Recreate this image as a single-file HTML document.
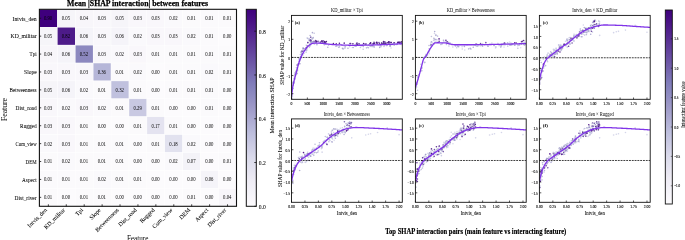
<!DOCTYPE html>
<html><head><meta charset="utf-8"><style>
html,body{margin:0;padding:0;background:#fff;width:685px;height:240px;overflow:hidden}
svg{display:block;filter:blur(0.35px)}
</style></head><body>
<svg width="685" height="240" viewBox="0 0 685 240" style="font-family:'Liberation Serif',serif">
<defs>
<linearGradient id="g1" x1="0" y1="1" x2="0" y2="0">
<stop offset="0.0000" stop-color="#fcfbfd"/>
<stop offset="0.0312" stop-color="#f9f7fb"/>
<stop offset="0.0625" stop-color="#f5f4f9"/>
<stop offset="0.0938" stop-color="#f2f0f7"/>
<stop offset="0.1250" stop-color="#efedf5"/>
<stop offset="0.1562" stop-color="#eae8f2"/>
<stop offset="0.1875" stop-color="#e4e3f0"/>
<stop offset="0.2188" stop-color="#dfdfed"/>
<stop offset="0.2500" stop-color="#dadaeb"/>
<stop offset="0.2812" stop-color="#d2d2e7"/>
<stop offset="0.3125" stop-color="#cbcbe3"/>
<stop offset="0.3438" stop-color="#c3c4e0"/>
<stop offset="0.3750" stop-color="#bcbddc"/>
<stop offset="0.4062" stop-color="#b4b4d7"/>
<stop offset="0.4375" stop-color="#adabd2"/>
<stop offset="0.4688" stop-color="#a5a2cd"/>
<stop offset="0.5000" stop-color="#9e9ac8"/>
<stop offset="0.5312" stop-color="#9692c4"/>
<stop offset="0.5625" stop-color="#8e8bc1"/>
<stop offset="0.5938" stop-color="#8784bd"/>
<stop offset="0.6250" stop-color="#807cba"/>
<stop offset="0.6562" stop-color="#7a71b4"/>
<stop offset="0.6875" stop-color="#7566ae"/>
<stop offset="0.7188" stop-color="#6f5ba8"/>
<stop offset="0.7500" stop-color="#6950a3"/>
<stop offset="0.7812" stop-color="#64459e"/>
<stop offset="0.8125" stop-color="#5e3b98"/>
<stop offset="0.8438" stop-color="#593093"/>
<stop offset="0.8750" stop-color="#53268f"/>
<stop offset="0.9062" stop-color="#4e1c8a"/>
<stop offset="0.9375" stop-color="#491285"/>
<stop offset="0.9688" stop-color="#440981"/>
<stop offset="1.0000" stop-color="#3f007d"/>
</linearGradient>
</defs>
<rect width="685" height="240" fill="#fff"/>
<g id="heat">
<rect x="39.40" y="9.30" width="17.92" height="17.91" fill="#3f007d" stroke="#fff" stroke-width="0.4"/>
<rect x="57.32" y="9.30" width="17.92" height="17.91" fill="#f6f5f9" stroke="#fff" stroke-width="0.4"/>
<rect x="75.24" y="9.30" width="17.92" height="17.91" fill="#f8f6fa" stroke="#fff" stroke-width="0.4"/>
<rect x="93.15" y="9.30" width="17.92" height="17.91" fill="#f9f7fb" stroke="#fff" stroke-width="0.4"/>
<rect x="111.07" y="9.30" width="17.92" height="17.91" fill="#f6f5f9" stroke="#fff" stroke-width="0.4"/>
<rect x="128.99" y="9.30" width="17.92" height="17.91" fill="#f9f7fb" stroke="#fff" stroke-width="0.4"/>
<rect x="146.91" y="9.30" width="17.92" height="17.91" fill="#f9f7fb" stroke="#fff" stroke-width="0.4"/>
<rect x="164.83" y="9.30" width="17.92" height="17.91" fill="#faf9fc" stroke="#fff" stroke-width="0.4"/>
<rect x="182.75" y="9.30" width="17.92" height="17.91" fill="#fbfafc" stroke="#fff" stroke-width="0.4"/>
<rect x="200.66" y="9.30" width="17.92" height="17.91" fill="#fbfafc" stroke="#fff" stroke-width="0.4"/>
<rect x="218.58" y="9.30" width="17.92" height="17.91" fill="#fbfafc" stroke="#fff" stroke-width="0.4"/>
<rect x="39.40" y="27.21" width="17.92" height="17.91" fill="#f6f5f9" stroke="#fff" stroke-width="0.4"/>
<rect x="57.32" y="27.21" width="17.92" height="17.91" fill="#4d1b89" stroke="#fff" stroke-width="0.4"/>
<rect x="75.24" y="27.21" width="17.92" height="17.91" fill="#f5f4f9" stroke="#fff" stroke-width="0.4"/>
<rect x="93.15" y="27.21" width="17.92" height="17.91" fill="#f9f7fb" stroke="#fff" stroke-width="0.4"/>
<rect x="111.07" y="27.21" width="17.92" height="17.91" fill="#f5f4f9" stroke="#fff" stroke-width="0.4"/>
<rect x="128.99" y="27.21" width="17.92" height="17.91" fill="#faf9fc" stroke="#fff" stroke-width="0.4"/>
<rect x="146.91" y="27.21" width="17.92" height="17.91" fill="#f9f7fb" stroke="#fff" stroke-width="0.4"/>
<rect x="164.83" y="27.21" width="17.92" height="17.91" fill="#f9f7fb" stroke="#fff" stroke-width="0.4"/>
<rect x="182.75" y="27.21" width="17.92" height="17.91" fill="#faf9fc" stroke="#fff" stroke-width="0.4"/>
<rect x="200.66" y="27.21" width="17.92" height="17.91" fill="#fbfafc" stroke="#fff" stroke-width="0.4"/>
<rect x="218.58" y="27.21" width="17.92" height="17.91" fill="#fcfbfd" stroke="#fff" stroke-width="0.4"/>
<rect x="39.40" y="45.12" width="17.92" height="17.91" fill="#f8f6fa" stroke="#fff" stroke-width="0.4"/>
<rect x="57.32" y="45.12" width="17.92" height="17.91" fill="#f5f4f9" stroke="#fff" stroke-width="0.4"/>
<rect x="75.24" y="45.12" width="17.92" height="17.91" fill="#8c88bf" stroke="#fff" stroke-width="0.4"/>
<rect x="93.15" y="45.12" width="17.92" height="17.91" fill="#f9f7fb" stroke="#fff" stroke-width="0.4"/>
<rect x="111.07" y="45.12" width="17.92" height="17.91" fill="#faf9fc" stroke="#fff" stroke-width="0.4"/>
<rect x="128.99" y="45.12" width="17.92" height="17.91" fill="#f9f7fb" stroke="#fff" stroke-width="0.4"/>
<rect x="146.91" y="45.12" width="17.92" height="17.91" fill="#fbfafc" stroke="#fff" stroke-width="0.4"/>
<rect x="164.83" y="45.12" width="17.92" height="17.91" fill="#fbfafc" stroke="#fff" stroke-width="0.4"/>
<rect x="182.75" y="45.12" width="17.92" height="17.91" fill="#fbfafc" stroke="#fff" stroke-width="0.4"/>
<rect x="200.66" y="45.12" width="17.92" height="17.91" fill="#fbfafc" stroke="#fff" stroke-width="0.4"/>
<rect x="218.58" y="45.12" width="17.92" height="17.91" fill="#fbfafc" stroke="#fff" stroke-width="0.4"/>
<rect x="39.40" y="63.03" width="17.92" height="17.91" fill="#f9f7fb" stroke="#fff" stroke-width="0.4"/>
<rect x="57.32" y="63.03" width="17.92" height="17.91" fill="#f9f7fb" stroke="#fff" stroke-width="0.4"/>
<rect x="75.24" y="63.03" width="17.92" height="17.91" fill="#f9f7fb" stroke="#fff" stroke-width="0.4"/>
<rect x="93.15" y="63.03" width="17.92" height="17.91" fill="#b6b6d8" stroke="#fff" stroke-width="0.4"/>
<rect x="111.07" y="63.03" width="17.92" height="17.91" fill="#fbfafc" stroke="#fff" stroke-width="0.4"/>
<rect x="128.99" y="63.03" width="17.92" height="17.91" fill="#faf9fc" stroke="#fff" stroke-width="0.4"/>
<rect x="146.91" y="63.03" width="17.92" height="17.91" fill="#fcfbfd" stroke="#fff" stroke-width="0.4"/>
<rect x="164.83" y="63.03" width="17.92" height="17.91" fill="#fbfafc" stroke="#fff" stroke-width="0.4"/>
<rect x="182.75" y="63.03" width="17.92" height="17.91" fill="#fbfafc" stroke="#fff" stroke-width="0.4"/>
<rect x="200.66" y="63.03" width="17.92" height="17.91" fill="#faf9fc" stroke="#fff" stroke-width="0.4"/>
<rect x="218.58" y="63.03" width="17.92" height="17.91" fill="#fbfafc" stroke="#fff" stroke-width="0.4"/>
<rect x="39.40" y="80.94" width="17.92" height="17.91" fill="#f6f5f9" stroke="#fff" stroke-width="0.4"/>
<rect x="57.32" y="80.94" width="17.92" height="17.91" fill="#f5f4f9" stroke="#fff" stroke-width="0.4"/>
<rect x="75.24" y="80.94" width="17.92" height="17.91" fill="#faf9fc" stroke="#fff" stroke-width="0.4"/>
<rect x="93.15" y="80.94" width="17.92" height="17.91" fill="#fbfafc" stroke="#fff" stroke-width="0.4"/>
<rect x="111.07" y="80.94" width="17.92" height="17.91" fill="#c0c1de" stroke="#fff" stroke-width="0.4"/>
<rect x="128.99" y="80.94" width="17.92" height="17.91" fill="#fbfafc" stroke="#fff" stroke-width="0.4"/>
<rect x="146.91" y="80.94" width="17.92" height="17.91" fill="#fcfbfd" stroke="#fff" stroke-width="0.4"/>
<rect x="164.83" y="80.94" width="17.92" height="17.91" fill="#fbfafc" stroke="#fff" stroke-width="0.4"/>
<rect x="182.75" y="80.94" width="17.92" height="17.91" fill="#fbfafc" stroke="#fff" stroke-width="0.4"/>
<rect x="200.66" y="80.94" width="17.92" height="17.91" fill="#fbfafc" stroke="#fff" stroke-width="0.4"/>
<rect x="218.58" y="80.94" width="17.92" height="17.91" fill="#fcfbfd" stroke="#fff" stroke-width="0.4"/>
<rect x="39.40" y="98.85" width="17.92" height="17.91" fill="#f9f7fb" stroke="#fff" stroke-width="0.4"/>
<rect x="57.32" y="98.85" width="17.92" height="17.91" fill="#faf9fc" stroke="#fff" stroke-width="0.4"/>
<rect x="75.24" y="98.85" width="17.92" height="17.91" fill="#f9f7fb" stroke="#fff" stroke-width="0.4"/>
<rect x="93.15" y="98.85" width="17.92" height="17.91" fill="#faf9fc" stroke="#fff" stroke-width="0.4"/>
<rect x="111.07" y="98.85" width="17.92" height="17.91" fill="#fbfafc" stroke="#fff" stroke-width="0.4"/>
<rect x="128.99" y="98.85" width="17.92" height="17.91" fill="#c9c9e2" stroke="#fff" stroke-width="0.4"/>
<rect x="146.91" y="98.85" width="17.92" height="17.91" fill="#fbfafc" stroke="#fff" stroke-width="0.4"/>
<rect x="164.83" y="98.85" width="17.92" height="17.91" fill="#fcfbfd" stroke="#fff" stroke-width="0.4"/>
<rect x="182.75" y="98.85" width="17.92" height="17.91" fill="#fcfbfd" stroke="#fff" stroke-width="0.4"/>
<rect x="200.66" y="98.85" width="17.92" height="17.91" fill="#fbfafc" stroke="#fff" stroke-width="0.4"/>
<rect x="218.58" y="98.85" width="17.92" height="17.91" fill="#fcfbfd" stroke="#fff" stroke-width="0.4"/>
<rect x="39.40" y="116.75" width="17.92" height="17.91" fill="#f9f7fb" stroke="#fff" stroke-width="0.4"/>
<rect x="57.32" y="116.75" width="17.92" height="17.91" fill="#f9f7fb" stroke="#fff" stroke-width="0.4"/>
<rect x="75.24" y="116.75" width="17.92" height="17.91" fill="#fbfafc" stroke="#fff" stroke-width="0.4"/>
<rect x="93.15" y="116.75" width="17.92" height="17.91" fill="#fcfbfd" stroke="#fff" stroke-width="0.4"/>
<rect x="111.07" y="116.75" width="17.92" height="17.91" fill="#fcfbfd" stroke="#fff" stroke-width="0.4"/>
<rect x="128.99" y="116.75" width="17.92" height="17.91" fill="#fbfafc" stroke="#fff" stroke-width="0.4"/>
<rect x="146.91" y="116.75" width="17.92" height="17.91" fill="#e4e3f0" stroke="#fff" stroke-width="0.4"/>
<rect x="164.83" y="116.75" width="17.92" height="17.91" fill="#fbfafc" stroke="#fff" stroke-width="0.4"/>
<rect x="182.75" y="116.75" width="17.92" height="17.91" fill="#fcfbfd" stroke="#fff" stroke-width="0.4"/>
<rect x="200.66" y="116.75" width="17.92" height="17.91" fill="#fcfbfd" stroke="#fff" stroke-width="0.4"/>
<rect x="218.58" y="116.75" width="17.92" height="17.91" fill="#fcfbfd" stroke="#fff" stroke-width="0.4"/>
<rect x="39.40" y="134.66" width="17.92" height="17.91" fill="#faf9fc" stroke="#fff" stroke-width="0.4"/>
<rect x="57.32" y="134.66" width="17.92" height="17.91" fill="#f9f7fb" stroke="#fff" stroke-width="0.4"/>
<rect x="75.24" y="134.66" width="17.92" height="17.91" fill="#fbfafc" stroke="#fff" stroke-width="0.4"/>
<rect x="93.15" y="134.66" width="17.92" height="17.91" fill="#fbfafc" stroke="#fff" stroke-width="0.4"/>
<rect x="111.07" y="134.66" width="17.92" height="17.91" fill="#fbfafc" stroke="#fff" stroke-width="0.4"/>
<rect x="128.99" y="134.66" width="17.92" height="17.91" fill="#fcfbfd" stroke="#fff" stroke-width="0.4"/>
<rect x="146.91" y="134.66" width="17.92" height="17.91" fill="#fbfafc" stroke="#fff" stroke-width="0.4"/>
<rect x="164.83" y="134.66" width="17.92" height="17.91" fill="#e2e2ef" stroke="#fff" stroke-width="0.4"/>
<rect x="182.75" y="134.66" width="17.92" height="17.91" fill="#faf9fc" stroke="#fff" stroke-width="0.4"/>
<rect x="200.66" y="134.66" width="17.92" height="17.91" fill="#fcfbfd" stroke="#fff" stroke-width="0.4"/>
<rect x="218.58" y="134.66" width="17.92" height="17.91" fill="#fcfbfd" stroke="#fff" stroke-width="0.4"/>
<rect x="39.40" y="152.57" width="17.92" height="17.91" fill="#fbfafc" stroke="#fff" stroke-width="0.4"/>
<rect x="57.32" y="152.57" width="17.92" height="17.91" fill="#faf9fc" stroke="#fff" stroke-width="0.4"/>
<rect x="75.24" y="152.57" width="17.92" height="17.91" fill="#fbfafc" stroke="#fff" stroke-width="0.4"/>
<rect x="93.15" y="152.57" width="17.92" height="17.91" fill="#fbfafc" stroke="#fff" stroke-width="0.4"/>
<rect x="111.07" y="152.57" width="17.92" height="17.91" fill="#fbfafc" stroke="#fff" stroke-width="0.4"/>
<rect x="128.99" y="152.57" width="17.92" height="17.91" fill="#fcfbfd" stroke="#fff" stroke-width="0.4"/>
<rect x="146.91" y="152.57" width="17.92" height="17.91" fill="#fcfbfd" stroke="#fff" stroke-width="0.4"/>
<rect x="164.83" y="152.57" width="17.92" height="17.91" fill="#faf9fc" stroke="#fff" stroke-width="0.4"/>
<rect x="182.75" y="152.57" width="17.92" height="17.91" fill="#f4f3f8" stroke="#fff" stroke-width="0.4"/>
<rect x="200.66" y="152.57" width="17.92" height="17.91" fill="#fcfbfd" stroke="#fff" stroke-width="0.4"/>
<rect x="218.58" y="152.57" width="17.92" height="17.91" fill="#fbfafc" stroke="#fff" stroke-width="0.4"/>
<rect x="39.40" y="170.48" width="17.92" height="17.91" fill="#fbfafc" stroke="#fff" stroke-width="0.4"/>
<rect x="57.32" y="170.48" width="17.92" height="17.91" fill="#fbfafc" stroke="#fff" stroke-width="0.4"/>
<rect x="75.24" y="170.48" width="17.92" height="17.91" fill="#fbfafc" stroke="#fff" stroke-width="0.4"/>
<rect x="93.15" y="170.48" width="17.92" height="17.91" fill="#faf9fc" stroke="#fff" stroke-width="0.4"/>
<rect x="111.07" y="170.48" width="17.92" height="17.91" fill="#fbfafc" stroke="#fff" stroke-width="0.4"/>
<rect x="128.99" y="170.48" width="17.92" height="17.91" fill="#fbfafc" stroke="#fff" stroke-width="0.4"/>
<rect x="146.91" y="170.48" width="17.92" height="17.91" fill="#fcfbfd" stroke="#fff" stroke-width="0.4"/>
<rect x="164.83" y="170.48" width="17.92" height="17.91" fill="#fcfbfd" stroke="#fff" stroke-width="0.4"/>
<rect x="182.75" y="170.48" width="17.92" height="17.91" fill="#fcfbfd" stroke="#fff" stroke-width="0.4"/>
<rect x="200.66" y="170.48" width="17.92" height="17.91" fill="#f5f4f9" stroke="#fff" stroke-width="0.4"/>
<rect x="218.58" y="170.48" width="17.92" height="17.91" fill="#fcfbfd" stroke="#fff" stroke-width="0.4"/>
<rect x="39.40" y="188.39" width="17.92" height="17.91" fill="#fbfafc" stroke="#fff" stroke-width="0.4"/>
<rect x="57.32" y="188.39" width="17.92" height="17.91" fill="#fcfbfd" stroke="#fff" stroke-width="0.4"/>
<rect x="75.24" y="188.39" width="17.92" height="17.91" fill="#fbfafc" stroke="#fff" stroke-width="0.4"/>
<rect x="93.15" y="188.39" width="17.92" height="17.91" fill="#fbfafc" stroke="#fff" stroke-width="0.4"/>
<rect x="111.07" y="188.39" width="17.92" height="17.91" fill="#fcfbfd" stroke="#fff" stroke-width="0.4"/>
<rect x="128.99" y="188.39" width="17.92" height="17.91" fill="#fcfbfd" stroke="#fff" stroke-width="0.4"/>
<rect x="146.91" y="188.39" width="17.92" height="17.91" fill="#fcfbfd" stroke="#fff" stroke-width="0.4"/>
<rect x="164.83" y="188.39" width="17.92" height="17.91" fill="#fcfbfd" stroke="#fff" stroke-width="0.4"/>
<rect x="182.75" y="188.39" width="17.92" height="17.91" fill="#fbfafc" stroke="#fff" stroke-width="0.4"/>
<rect x="200.66" y="188.39" width="17.92" height="17.91" fill="#fcfbfd" stroke="#fff" stroke-width="0.4"/>
<rect x="218.58" y="188.39" width="17.92" height="17.91" fill="#f8f6fa" stroke="#fff" stroke-width="0.4"/>
<text x="48.0591" y="20.1545" font-size="5.8" text-anchor="middle" textLength="8.3" lengthAdjust="spacingAndGlyphs" fill="#000">0.90</text>
<text x="65.9773" y="20.1545" font-size="5.8" text-anchor="middle" textLength="8.3" lengthAdjust="spacingAndGlyphs" fill="#000">0.05</text>
<text x="83.8955" y="20.1545" font-size="5.8" text-anchor="middle" textLength="8.3" lengthAdjust="spacingAndGlyphs" fill="#000">0.04</text>
<text x="101.814" y="20.1545" font-size="5.8" text-anchor="middle" textLength="8.3" lengthAdjust="spacingAndGlyphs" fill="#000">0.03</text>
<text x="119.732" y="20.1545" font-size="5.8" text-anchor="middle" textLength="8.3" lengthAdjust="spacingAndGlyphs" fill="#000">0.05</text>
<text x="137.65" y="20.1545" font-size="5.8" text-anchor="middle" textLength="8.3" lengthAdjust="spacingAndGlyphs" fill="#000">0.03</text>
<text x="155.568" y="20.1545" font-size="5.8" text-anchor="middle" textLength="8.3" lengthAdjust="spacingAndGlyphs" fill="#000">0.03</text>
<text x="173.486" y="20.1545" font-size="5.8" text-anchor="middle" textLength="8.3" lengthAdjust="spacingAndGlyphs" fill="#000">0.02</text>
<text x="191.405" y="20.1545" font-size="5.8" text-anchor="middle" textLength="8.3" lengthAdjust="spacingAndGlyphs" fill="#000">0.01</text>
<text x="209.323" y="20.1545" font-size="5.8" text-anchor="middle" textLength="8.3" lengthAdjust="spacingAndGlyphs" fill="#000">0.01</text>
<text x="227.241" y="20.1545" font-size="5.8" text-anchor="middle" textLength="8.3" lengthAdjust="spacingAndGlyphs" fill="#000">0.01</text>
<text x="48.0591" y="38.0636" font-size="5.8" text-anchor="middle" textLength="8.3" lengthAdjust="spacingAndGlyphs" fill="#000">0.05</text>
<text x="65.9773" y="38.0636" font-size="5.8" text-anchor="middle" textLength="8.3" lengthAdjust="spacingAndGlyphs" fill="#000">0.82</text>
<text x="83.8955" y="38.0636" font-size="5.8" text-anchor="middle" textLength="8.3" lengthAdjust="spacingAndGlyphs" fill="#000">0.06</text>
<text x="101.814" y="38.0636" font-size="5.8" text-anchor="middle" textLength="8.3" lengthAdjust="spacingAndGlyphs" fill="#000">0.03</text>
<text x="119.732" y="38.0636" font-size="5.8" text-anchor="middle" textLength="8.3" lengthAdjust="spacingAndGlyphs" fill="#000">0.06</text>
<text x="137.65" y="38.0636" font-size="5.8" text-anchor="middle" textLength="8.3" lengthAdjust="spacingAndGlyphs" fill="#000">0.02</text>
<text x="155.568" y="38.0636" font-size="5.8" text-anchor="middle" textLength="8.3" lengthAdjust="spacingAndGlyphs" fill="#000">0.03</text>
<text x="173.486" y="38.0636" font-size="5.8" text-anchor="middle" textLength="8.3" lengthAdjust="spacingAndGlyphs" fill="#000">0.03</text>
<text x="191.405" y="38.0636" font-size="5.8" text-anchor="middle" textLength="8.3" lengthAdjust="spacingAndGlyphs" fill="#000">0.02</text>
<text x="209.323" y="38.0636" font-size="5.8" text-anchor="middle" textLength="8.3" lengthAdjust="spacingAndGlyphs" fill="#000">0.01</text>
<text x="227.241" y="38.0636" font-size="5.8" text-anchor="middle" textLength="8.3" lengthAdjust="spacingAndGlyphs" fill="#000">0.00</text>
<text x="48.0591" y="55.9727" font-size="5.8" text-anchor="middle" textLength="8.3" lengthAdjust="spacingAndGlyphs" fill="#000">0.04</text>
<text x="65.9773" y="55.9727" font-size="5.8" text-anchor="middle" textLength="8.3" lengthAdjust="spacingAndGlyphs" fill="#000">0.06</text>
<text x="83.8955" y="55.9727" font-size="5.8" text-anchor="middle" textLength="8.3" lengthAdjust="spacingAndGlyphs" fill="#000">0.52</text>
<text x="101.814" y="55.9727" font-size="5.8" text-anchor="middle" textLength="8.3" lengthAdjust="spacingAndGlyphs" fill="#000">0.03</text>
<text x="119.732" y="55.9727" font-size="5.8" text-anchor="middle" textLength="8.3" lengthAdjust="spacingAndGlyphs" fill="#000">0.02</text>
<text x="137.65" y="55.9727" font-size="5.8" text-anchor="middle" textLength="8.3" lengthAdjust="spacingAndGlyphs" fill="#000">0.03</text>
<text x="155.568" y="55.9727" font-size="5.8" text-anchor="middle" textLength="8.3" lengthAdjust="spacingAndGlyphs" fill="#000">0.01</text>
<text x="173.486" y="55.9727" font-size="5.8" text-anchor="middle" textLength="8.3" lengthAdjust="spacingAndGlyphs" fill="#000">0.01</text>
<text x="191.405" y="55.9727" font-size="5.8" text-anchor="middle" textLength="8.3" lengthAdjust="spacingAndGlyphs" fill="#000">0.01</text>
<text x="209.323" y="55.9727" font-size="5.8" text-anchor="middle" textLength="8.3" lengthAdjust="spacingAndGlyphs" fill="#000">0.01</text>
<text x="227.241" y="55.9727" font-size="5.8" text-anchor="middle" textLength="8.3" lengthAdjust="spacingAndGlyphs" fill="#000">0.01</text>
<text x="48.0591" y="73.8818" font-size="5.8" text-anchor="middle" textLength="8.3" lengthAdjust="spacingAndGlyphs" fill="#000">0.03</text>
<text x="65.9773" y="73.8818" font-size="5.8" text-anchor="middle" textLength="8.3" lengthAdjust="spacingAndGlyphs" fill="#000">0.03</text>
<text x="83.8955" y="73.8818" font-size="5.8" text-anchor="middle" textLength="8.3" lengthAdjust="spacingAndGlyphs" fill="#000">0.03</text>
<text x="101.814" y="73.8818" font-size="5.8" text-anchor="middle" textLength="8.3" lengthAdjust="spacingAndGlyphs" fill="#000">0.36</text>
<text x="119.732" y="73.8818" font-size="5.8" text-anchor="middle" textLength="8.3" lengthAdjust="spacingAndGlyphs" fill="#000">0.01</text>
<text x="137.65" y="73.8818" font-size="5.8" text-anchor="middle" textLength="8.3" lengthAdjust="spacingAndGlyphs" fill="#000">0.02</text>
<text x="155.568" y="73.8818" font-size="5.8" text-anchor="middle" textLength="8.3" lengthAdjust="spacingAndGlyphs" fill="#000">0.00</text>
<text x="173.486" y="73.8818" font-size="5.8" text-anchor="middle" textLength="8.3" lengthAdjust="spacingAndGlyphs" fill="#000">0.01</text>
<text x="191.405" y="73.8818" font-size="5.8" text-anchor="middle" textLength="8.3" lengthAdjust="spacingAndGlyphs" fill="#000">0.01</text>
<text x="209.323" y="73.8818" font-size="5.8" text-anchor="middle" textLength="8.3" lengthAdjust="spacingAndGlyphs" fill="#000">0.02</text>
<text x="227.241" y="73.8818" font-size="5.8" text-anchor="middle" textLength="8.3" lengthAdjust="spacingAndGlyphs" fill="#000">0.01</text>
<text x="48.0591" y="91.7909" font-size="5.8" text-anchor="middle" textLength="8.3" lengthAdjust="spacingAndGlyphs" fill="#000">0.05</text>
<text x="65.9773" y="91.7909" font-size="5.8" text-anchor="middle" textLength="8.3" lengthAdjust="spacingAndGlyphs" fill="#000">0.06</text>
<text x="83.8955" y="91.7909" font-size="5.8" text-anchor="middle" textLength="8.3" lengthAdjust="spacingAndGlyphs" fill="#000">0.02</text>
<text x="101.814" y="91.7909" font-size="5.8" text-anchor="middle" textLength="8.3" lengthAdjust="spacingAndGlyphs" fill="#000">0.01</text>
<text x="119.732" y="91.7909" font-size="5.8" text-anchor="middle" textLength="8.3" lengthAdjust="spacingAndGlyphs" fill="#000">0.32</text>
<text x="137.65" y="91.7909" font-size="5.8" text-anchor="middle" textLength="8.3" lengthAdjust="spacingAndGlyphs" fill="#000">0.01</text>
<text x="155.568" y="91.7909" font-size="5.8" text-anchor="middle" textLength="8.3" lengthAdjust="spacingAndGlyphs" fill="#000">0.00</text>
<text x="173.486" y="91.7909" font-size="5.8" text-anchor="middle" textLength="8.3" lengthAdjust="spacingAndGlyphs" fill="#000">0.01</text>
<text x="191.405" y="91.7909" font-size="5.8" text-anchor="middle" textLength="8.3" lengthAdjust="spacingAndGlyphs" fill="#000">0.01</text>
<text x="209.323" y="91.7909" font-size="5.8" text-anchor="middle" textLength="8.3" lengthAdjust="spacingAndGlyphs" fill="#000">0.01</text>
<text x="227.241" y="91.7909" font-size="5.8" text-anchor="middle" textLength="8.3" lengthAdjust="spacingAndGlyphs" fill="#000">0.00</text>
<text x="48.0591" y="109.7" font-size="5.8" text-anchor="middle" textLength="8.3" lengthAdjust="spacingAndGlyphs" fill="#000">0.03</text>
<text x="65.9773" y="109.7" font-size="5.8" text-anchor="middle" textLength="8.3" lengthAdjust="spacingAndGlyphs" fill="#000">0.02</text>
<text x="83.8955" y="109.7" font-size="5.8" text-anchor="middle" textLength="8.3" lengthAdjust="spacingAndGlyphs" fill="#000">0.03</text>
<text x="101.814" y="109.7" font-size="5.8" text-anchor="middle" textLength="8.3" lengthAdjust="spacingAndGlyphs" fill="#000">0.02</text>
<text x="119.732" y="109.7" font-size="5.8" text-anchor="middle" textLength="8.3" lengthAdjust="spacingAndGlyphs" fill="#000">0.01</text>
<text x="137.65" y="109.7" font-size="5.8" text-anchor="middle" textLength="8.3" lengthAdjust="spacingAndGlyphs" fill="#000">0.29</text>
<text x="155.568" y="109.7" font-size="5.8" text-anchor="middle" textLength="8.3" lengthAdjust="spacingAndGlyphs" fill="#000">0.01</text>
<text x="173.486" y="109.7" font-size="5.8" text-anchor="middle" textLength="8.3" lengthAdjust="spacingAndGlyphs" fill="#000">0.00</text>
<text x="191.405" y="109.7" font-size="5.8" text-anchor="middle" textLength="8.3" lengthAdjust="spacingAndGlyphs" fill="#000">0.00</text>
<text x="209.323" y="109.7" font-size="5.8" text-anchor="middle" textLength="8.3" lengthAdjust="spacingAndGlyphs" fill="#000">0.01</text>
<text x="227.241" y="109.7" font-size="5.8" text-anchor="middle" textLength="8.3" lengthAdjust="spacingAndGlyphs" fill="#000">0.00</text>
<text x="48.0591" y="127.609" font-size="5.8" text-anchor="middle" textLength="8.3" lengthAdjust="spacingAndGlyphs" fill="#000">0.03</text>
<text x="65.9773" y="127.609" font-size="5.8" text-anchor="middle" textLength="8.3" lengthAdjust="spacingAndGlyphs" fill="#000">0.03</text>
<text x="83.8955" y="127.609" font-size="5.8" text-anchor="middle" textLength="8.3" lengthAdjust="spacingAndGlyphs" fill="#000">0.01</text>
<text x="101.814" y="127.609" font-size="5.8" text-anchor="middle" textLength="8.3" lengthAdjust="spacingAndGlyphs" fill="#000">0.00</text>
<text x="119.732" y="127.609" font-size="5.8" text-anchor="middle" textLength="8.3" lengthAdjust="spacingAndGlyphs" fill="#000">0.00</text>
<text x="137.65" y="127.609" font-size="5.8" text-anchor="middle" textLength="8.3" lengthAdjust="spacingAndGlyphs" fill="#000">0.01</text>
<text x="155.568" y="127.609" font-size="5.8" text-anchor="middle" textLength="8.3" lengthAdjust="spacingAndGlyphs" fill="#000">0.17</text>
<text x="173.486" y="127.609" font-size="5.8" text-anchor="middle" textLength="8.3" lengthAdjust="spacingAndGlyphs" fill="#000">0.01</text>
<text x="191.405" y="127.609" font-size="5.8" text-anchor="middle" textLength="8.3" lengthAdjust="spacingAndGlyphs" fill="#000">0.00</text>
<text x="209.323" y="127.609" font-size="5.8" text-anchor="middle" textLength="8.3" lengthAdjust="spacingAndGlyphs" fill="#000">0.00</text>
<text x="227.241" y="127.609" font-size="5.8" text-anchor="middle" textLength="8.3" lengthAdjust="spacingAndGlyphs" fill="#000">0.00</text>
<text x="48.0591" y="145.518" font-size="5.8" text-anchor="middle" textLength="8.3" lengthAdjust="spacingAndGlyphs" fill="#000">0.02</text>
<text x="65.9773" y="145.518" font-size="5.8" text-anchor="middle" textLength="8.3" lengthAdjust="spacingAndGlyphs" fill="#000">0.03</text>
<text x="83.8955" y="145.518" font-size="5.8" text-anchor="middle" textLength="8.3" lengthAdjust="spacingAndGlyphs" fill="#000">0.01</text>
<text x="101.814" y="145.518" font-size="5.8" text-anchor="middle" textLength="8.3" lengthAdjust="spacingAndGlyphs" fill="#000">0.01</text>
<text x="119.732" y="145.518" font-size="5.8" text-anchor="middle" textLength="8.3" lengthAdjust="spacingAndGlyphs" fill="#000">0.01</text>
<text x="137.65" y="145.518" font-size="5.8" text-anchor="middle" textLength="8.3" lengthAdjust="spacingAndGlyphs" fill="#000">0.00</text>
<text x="155.568" y="145.518" font-size="5.8" text-anchor="middle" textLength="8.3" lengthAdjust="spacingAndGlyphs" fill="#000">0.01</text>
<text x="173.486" y="145.518" font-size="5.8" text-anchor="middle" textLength="8.3" lengthAdjust="spacingAndGlyphs" fill="#000">0.18</text>
<text x="191.405" y="145.518" font-size="5.8" text-anchor="middle" textLength="8.3" lengthAdjust="spacingAndGlyphs" fill="#000">0.02</text>
<text x="209.323" y="145.518" font-size="5.8" text-anchor="middle" textLength="8.3" lengthAdjust="spacingAndGlyphs" fill="#000">0.00</text>
<text x="227.241" y="145.518" font-size="5.8" text-anchor="middle" textLength="8.3" lengthAdjust="spacingAndGlyphs" fill="#000">0.00</text>
<text x="48.0591" y="163.427" font-size="5.8" text-anchor="middle" textLength="8.3" lengthAdjust="spacingAndGlyphs" fill="#000">0.01</text>
<text x="65.9773" y="163.427" font-size="5.8" text-anchor="middle" textLength="8.3" lengthAdjust="spacingAndGlyphs" fill="#000">0.02</text>
<text x="83.8955" y="163.427" font-size="5.8" text-anchor="middle" textLength="8.3" lengthAdjust="spacingAndGlyphs" fill="#000">0.01</text>
<text x="101.814" y="163.427" font-size="5.8" text-anchor="middle" textLength="8.3" lengthAdjust="spacingAndGlyphs" fill="#000">0.01</text>
<text x="119.732" y="163.427" font-size="5.8" text-anchor="middle" textLength="8.3" lengthAdjust="spacingAndGlyphs" fill="#000">0.01</text>
<text x="137.65" y="163.427" font-size="5.8" text-anchor="middle" textLength="8.3" lengthAdjust="spacingAndGlyphs" fill="#000">0.00</text>
<text x="155.568" y="163.427" font-size="5.8" text-anchor="middle" textLength="8.3" lengthAdjust="spacingAndGlyphs" fill="#000">0.00</text>
<text x="173.486" y="163.427" font-size="5.8" text-anchor="middle" textLength="8.3" lengthAdjust="spacingAndGlyphs" fill="#000">0.02</text>
<text x="191.405" y="163.427" font-size="5.8" text-anchor="middle" textLength="8.3" lengthAdjust="spacingAndGlyphs" fill="#000">0.07</text>
<text x="209.323" y="163.427" font-size="5.8" text-anchor="middle" textLength="8.3" lengthAdjust="spacingAndGlyphs" fill="#000">0.00</text>
<text x="227.241" y="163.427" font-size="5.8" text-anchor="middle" textLength="8.3" lengthAdjust="spacingAndGlyphs" fill="#000">0.01</text>
<text x="48.0591" y="181.336" font-size="5.8" text-anchor="middle" textLength="8.3" lengthAdjust="spacingAndGlyphs" fill="#000">0.01</text>
<text x="65.9773" y="181.336" font-size="5.8" text-anchor="middle" textLength="8.3" lengthAdjust="spacingAndGlyphs" fill="#000">0.01</text>
<text x="83.8955" y="181.336" font-size="5.8" text-anchor="middle" textLength="8.3" lengthAdjust="spacingAndGlyphs" fill="#000">0.01</text>
<text x="101.814" y="181.336" font-size="5.8" text-anchor="middle" textLength="8.3" lengthAdjust="spacingAndGlyphs" fill="#000">0.02</text>
<text x="119.732" y="181.336" font-size="5.8" text-anchor="middle" textLength="8.3" lengthAdjust="spacingAndGlyphs" fill="#000">0.01</text>
<text x="137.65" y="181.336" font-size="5.8" text-anchor="middle" textLength="8.3" lengthAdjust="spacingAndGlyphs" fill="#000">0.01</text>
<text x="155.568" y="181.336" font-size="5.8" text-anchor="middle" textLength="8.3" lengthAdjust="spacingAndGlyphs" fill="#000">0.00</text>
<text x="173.486" y="181.336" font-size="5.8" text-anchor="middle" textLength="8.3" lengthAdjust="spacingAndGlyphs" fill="#000">0.00</text>
<text x="191.405" y="181.336" font-size="5.8" text-anchor="middle" textLength="8.3" lengthAdjust="spacingAndGlyphs" fill="#000">0.00</text>
<text x="209.323" y="181.336" font-size="5.8" text-anchor="middle" textLength="8.3" lengthAdjust="spacingAndGlyphs" fill="#000">0.06</text>
<text x="227.241" y="181.336" font-size="5.8" text-anchor="middle" textLength="8.3" lengthAdjust="spacingAndGlyphs" fill="#000">0.00</text>
<text x="48.0591" y="199.245" font-size="5.8" text-anchor="middle" textLength="8.3" lengthAdjust="spacingAndGlyphs" fill="#000">0.01</text>
<text x="65.9773" y="199.245" font-size="5.8" text-anchor="middle" textLength="8.3" lengthAdjust="spacingAndGlyphs" fill="#000">0.00</text>
<text x="83.8955" y="199.245" font-size="5.8" text-anchor="middle" textLength="8.3" lengthAdjust="spacingAndGlyphs" fill="#000">0.01</text>
<text x="101.814" y="199.245" font-size="5.8" text-anchor="middle" textLength="8.3" lengthAdjust="spacingAndGlyphs" fill="#000">0.01</text>
<text x="119.732" y="199.245" font-size="5.8" text-anchor="middle" textLength="8.3" lengthAdjust="spacingAndGlyphs" fill="#000">0.00</text>
<text x="137.65" y="199.245" font-size="5.8" text-anchor="middle" textLength="8.3" lengthAdjust="spacingAndGlyphs" fill="#000">0.00</text>
<text x="155.568" y="199.245" font-size="5.8" text-anchor="middle" textLength="8.3" lengthAdjust="spacingAndGlyphs" fill="#000">0.00</text>
<text x="173.486" y="199.245" font-size="5.8" text-anchor="middle" textLength="8.3" lengthAdjust="spacingAndGlyphs" fill="#000">0.00</text>
<text x="191.405" y="199.245" font-size="5.8" text-anchor="middle" textLength="8.3" lengthAdjust="spacingAndGlyphs" fill="#000">0.01</text>
<text x="209.323" y="199.245" font-size="5.8" text-anchor="middle" textLength="8.3" lengthAdjust="spacingAndGlyphs" fill="#000">0.00</text>
<text x="227.241" y="199.245" font-size="5.8" text-anchor="middle" textLength="8.3" lengthAdjust="spacingAndGlyphs" fill="#000">0.04</text>
<rect x="39.40" y="9.30" width="197.10" height="197.00" fill="none" stroke="#111" stroke-width="1.1"/>
<line x1="39.40" y1="18.25" x2="41.20" y2="18.25" stroke="#111" stroke-width="0.8"/>
<text x="36.6" y="20.5545" font-size="5.6" text-anchor="end" textLength="24" lengthAdjust="spacingAndGlyphs" fill="#000" stroke="#000" stroke-width="0.05">Intvis_den</text>
<line x1="39.40" y1="36.16" x2="41.20" y2="36.16" stroke="#111" stroke-width="0.8"/>
<text x="36.6" y="38.4636" font-size="5.6" text-anchor="end" textLength="26" lengthAdjust="spacingAndGlyphs" fill="#000" stroke="#000" stroke-width="0.05">KD_militar</text>
<line x1="39.40" y1="54.07" x2="41.20" y2="54.07" stroke="#111" stroke-width="0.8"/>
<text x="36.6" y="56.3727" font-size="5.6" text-anchor="end" textLength="7" lengthAdjust="spacingAndGlyphs" fill="#000" stroke="#000" stroke-width="0.05">Tpi</text>
<line x1="39.40" y1="71.98" x2="41.20" y2="71.98" stroke="#111" stroke-width="0.8"/>
<text x="36.6" y="74.2818" font-size="5.6" text-anchor="end" textLength="12.5" lengthAdjust="spacingAndGlyphs" fill="#000" stroke="#000" stroke-width="0.05">Slope</text>
<line x1="39.40" y1="89.89" x2="41.20" y2="89.89" stroke="#111" stroke-width="0.8"/>
<text x="36.6" y="92.1909" font-size="5.6" text-anchor="end" textLength="27" lengthAdjust="spacingAndGlyphs" fill="#000" stroke="#000" stroke-width="0.05">Betweenness</text>
<line x1="39.40" y1="107.80" x2="41.20" y2="107.80" stroke="#111" stroke-width="0.8"/>
<text x="36.6" y="110.1" font-size="5.6" text-anchor="end" textLength="21" lengthAdjust="spacingAndGlyphs" fill="#000" stroke="#000" stroke-width="0.05">Dist_road</text>
<line x1="39.40" y1="125.71" x2="41.20" y2="125.71" stroke="#111" stroke-width="0.8"/>
<text x="36.6" y="128.009" font-size="5.6" text-anchor="end" textLength="16.5" lengthAdjust="spacingAndGlyphs" fill="#000" stroke="#000" stroke-width="0.05">Rugged</text>
<line x1="39.40" y1="143.62" x2="41.20" y2="143.62" stroke="#111" stroke-width="0.8"/>
<text x="36.6" y="145.918" font-size="5.6" text-anchor="end" textLength="21" lengthAdjust="spacingAndGlyphs" fill="#000" stroke="#000" stroke-width="0.05">Cum_view</text>
<line x1="39.40" y1="161.53" x2="41.20" y2="161.53" stroke="#111" stroke-width="0.8"/>
<text x="36.6" y="163.827" font-size="5.6" text-anchor="end" textLength="11" lengthAdjust="spacingAndGlyphs" fill="#000" stroke="#000" stroke-width="0.05">DEM</text>
<line x1="39.40" y1="179.44" x2="41.20" y2="179.44" stroke="#111" stroke-width="0.8"/>
<text x="36.6" y="181.736" font-size="5.6" text-anchor="end" textLength="14.5" lengthAdjust="spacingAndGlyphs" fill="#000" stroke="#000" stroke-width="0.05">Aspect</text>
<line x1="39.40" y1="197.35" x2="41.20" y2="197.35" stroke="#111" stroke-width="0.8"/>
<text x="36.6" y="199.645" font-size="5.6" text-anchor="end" textLength="22" lengthAdjust="spacingAndGlyphs" fill="#000" stroke="#000" stroke-width="0.05">Dist_river</text>
<line x1="48.36" y1="206.30" x2="48.36" y2="204.30" stroke="#111" stroke-width="0.8"/>
<text x="0" y="0" font-size="5.9" text-anchor="end" transform="translate(47.46 210.40) rotate(-45)" fill="#000" stroke="#000" stroke-width="0.05">Intvis_den</text>
<line x1="66.28" y1="206.30" x2="66.28" y2="204.30" stroke="#111" stroke-width="0.8"/>
<text x="0" y="0" font-size="5.9" text-anchor="end" transform="translate(65.38 210.40) rotate(-45)" fill="#000" stroke="#000" stroke-width="0.05">KD_militar</text>
<line x1="84.20" y1="206.30" x2="84.20" y2="204.30" stroke="#111" stroke-width="0.8"/>
<text x="0" y="0" font-size="5.9" text-anchor="end" transform="translate(83.30 210.40) rotate(-45)" fill="#000" stroke="#000" stroke-width="0.05">Tpi</text>
<line x1="102.11" y1="206.30" x2="102.11" y2="204.30" stroke="#111" stroke-width="0.8"/>
<text x="0" y="0" font-size="5.9" text-anchor="end" transform="translate(101.21 210.40) rotate(-45)" fill="#000" stroke="#000" stroke-width="0.05">Slope</text>
<line x1="120.03" y1="206.30" x2="120.03" y2="204.30" stroke="#111" stroke-width="0.8"/>
<text x="0" y="0" font-size="5.9" text-anchor="end" transform="translate(119.13 210.40) rotate(-45)" fill="#000" stroke="#000" stroke-width="0.05">Betweenness</text>
<line x1="137.95" y1="206.30" x2="137.95" y2="204.30" stroke="#111" stroke-width="0.8"/>
<text x="0" y="0" font-size="5.9" text-anchor="end" transform="translate(137.05 210.40) rotate(-45)" fill="#000" stroke="#000" stroke-width="0.05">Dist_road</text>
<line x1="155.87" y1="206.30" x2="155.87" y2="204.30" stroke="#111" stroke-width="0.8"/>
<text x="0" y="0" font-size="5.9" text-anchor="end" transform="translate(154.97 210.40) rotate(-45)" fill="#000" stroke="#000" stroke-width="0.05">Rugged</text>
<line x1="173.79" y1="206.30" x2="173.79" y2="204.30" stroke="#111" stroke-width="0.8"/>
<text x="0" y="0" font-size="5.9" text-anchor="end" transform="translate(172.89 210.40) rotate(-45)" fill="#000" stroke="#000" stroke-width="0.05">Cum_view</text>
<line x1="191.70" y1="206.30" x2="191.70" y2="204.30" stroke="#111" stroke-width="0.8"/>
<text x="0" y="0" font-size="5.9" text-anchor="end" transform="translate(190.80 210.40) rotate(-45)" fill="#000" stroke="#000" stroke-width="0.05">DEM</text>
<line x1="209.62" y1="206.30" x2="209.62" y2="204.30" stroke="#111" stroke-width="0.8"/>
<text x="0" y="0" font-size="5.9" text-anchor="end" transform="translate(208.72 210.40) rotate(-45)" fill="#000" stroke="#000" stroke-width="0.05">Aspect</text>
<line x1="227.54" y1="206.30" x2="227.54" y2="204.30" stroke="#111" stroke-width="0.8"/>
<text x="0" y="0" font-size="5.9" text-anchor="end" transform="translate(226.64 210.40) rotate(-45)" fill="#000" stroke="#000" stroke-width="0.05">Dist_river</text>
<text x="137.6" y="6" font-size="8.4" text-anchor="middle" font-weight="bold" textLength="141" lengthAdjust="spacingAndGlyphs" fill="#000" stroke="#000" stroke-width="0.25">Mean |SHAP interaction| between features</text>
<text x="137.7" y="240.5" font-size="7.2" text-anchor="middle" textLength="21.5" lengthAdjust="spacingAndGlyphs" fill="#000">Feature</text>
<text x="6.9" y="109.5" font-size="7.2" text-anchor="middle" transform="rotate(-90 6.9 109.5)" textLength="23" lengthAdjust="spacingAndGlyphs" fill="#000">Feature</text>
</g>
<rect x="246.3" y="9.3" width="10" height="197" fill="url(#g1)" stroke="#111" stroke-width="1.0"/>
<line x1="254.3" y1="206.30" x2="256.3" y2="206.30" stroke="#111" stroke-width="0.8"/>
<text x="258.7" y="208.9" font-size="5.6" text-anchor="start" textLength="7" lengthAdjust="spacingAndGlyphs" fill="#000" stroke="#000" stroke-width="0.06">0.0</text>
<line x1="254.3" y1="162.52" x2="256.3" y2="162.52" stroke="#111" stroke-width="0.8"/>
<text x="258.7" y="165.122" font-size="5.6" text-anchor="start" textLength="7" lengthAdjust="spacingAndGlyphs" fill="#000" stroke="#000" stroke-width="0.06">0.2</text>
<line x1="254.3" y1="118.74" x2="256.3" y2="118.74" stroke="#111" stroke-width="0.8"/>
<text x="258.7" y="121.344" font-size="5.6" text-anchor="start" textLength="7" lengthAdjust="spacingAndGlyphs" fill="#000" stroke="#000" stroke-width="0.06">0.4</text>
<line x1="254.3" y1="74.97" x2="256.3" y2="74.97" stroke="#111" stroke-width="0.8"/>
<text x="258.7" y="77.5667" font-size="5.6" text-anchor="start" textLength="7" lengthAdjust="spacingAndGlyphs" fill="#000" stroke="#000" stroke-width="0.06">0.6</text>
<line x1="254.3" y1="31.19" x2="256.3" y2="31.19" stroke="#111" stroke-width="0.8"/>
<text x="258.7" y="33.7889" font-size="5.6" text-anchor="start" textLength="7" lengthAdjust="spacingAndGlyphs" fill="#000" stroke="#000" stroke-width="0.06">0.8</text>
<text x="273.9" y="105.6" font-size="6" text-anchor="middle" transform="rotate(-90 273.9 105.6)" textLength="56" lengthAdjust="spacingAndGlyphs" fill="#000" stroke="#000" stroke-width="0.08">Mean interaction SHAP</text>
<g>
<clipPath id="cp0"><rect x="291.5" y="15.4" width="110.8" height="83.9"/></clipPath>
<g clip-path="url(#cp0)">
<circle cx="292.01" cy="88.99" r="0.8" fill="#b3b3d6" fill-opacity="0.75"/>
<circle cx="293.21" cy="88.61" r="0.8" fill="#a9a7cf" fill-opacity="0.75"/>
<circle cx="294.50" cy="78.53" r="0.8" fill="#b7b7d9" fill-opacity="0.75"/>
<circle cx="294.40" cy="79.11" r="0.8" fill="#d3d3e8" fill-opacity="0.75"/>
<circle cx="293.20" cy="85.02" r="0.8" fill="#9591c4" fill-opacity="0.75"/>
<circle cx="294.93" cy="79.53" r="0.8" fill="#d1d2e7" fill-opacity="0.75"/>
<circle cx="291.60" cy="102.12" r="0.8" fill="#babadb" fill-opacity="0.75"/>
<circle cx="292.33" cy="91.20" r="0.8" fill="#b8b8d9" fill-opacity="0.75"/>
<circle cx="291.61" cy="94.81" r="0.8" fill="#c4c5e0" fill-opacity="0.75"/>
<circle cx="292.38" cy="86.01" r="0.8" fill="#b5b5d7" fill-opacity="0.75"/>
<circle cx="292.60" cy="82.23" r="0.8" fill="#a9a7cf" fill-opacity="0.75"/>
<circle cx="292.21" cy="89.53" r="0.8" fill="#9b97c6" fill-opacity="0.75"/>
<circle cx="291.96" cy="94.55" r="0.8" fill="#a5a2cd" fill-opacity="0.75"/>
<circle cx="295.07" cy="72.95" r="0.8" fill="#9d99c7" fill-opacity="0.75"/>
<circle cx="294.05" cy="82.21" r="0.8" fill="#9a96c6" fill-opacity="0.75"/>
<circle cx="294.72" cy="74.62" r="0.8" fill="#adabd2" fill-opacity="0.75"/>
<circle cx="291.63" cy="94.93" r="0.8" fill="#b8b8d9" fill-opacity="0.75"/>
<circle cx="292.16" cy="85.47" r="0.8" fill="#a5a2cd" fill-opacity="0.75"/>
<circle cx="294.07" cy="83.07" r="0.8" fill="#b2b2d5" fill-opacity="0.75"/>
<circle cx="294.47" cy="77.05" r="0.8" fill="#babadb" fill-opacity="0.75"/>
<circle cx="293.37" cy="83.03" r="0.8" fill="#9390c3" fill-opacity="0.75"/>
<circle cx="293.76" cy="82.02" r="0.8" fill="#babadb" fill-opacity="0.75"/>
<circle cx="292.15" cy="98.95" r="0.8" fill="#a19eca" fill-opacity="0.75"/>
<circle cx="293.56" cy="83.17" r="0.8" fill="#9b97c6" fill-opacity="0.75"/>
<circle cx="292.38" cy="96.17" r="0.8" fill="#aeacd2" fill-opacity="0.75"/>
<circle cx="293.25" cy="85.03" r="0.8" fill="#c1c2df" fill-opacity="0.75"/>
<circle cx="293.59" cy="82.61" r="0.8" fill="#a09dca" fill-opacity="0.75"/>
<circle cx="294.63" cy="78.72" r="0.8" fill="#9a96c6" fill-opacity="0.75"/>
<circle cx="294.32" cy="78.56" r="0.8" fill="#b7b7d9" fill-opacity="0.75"/>
<circle cx="291.71" cy="97.68" r="0.8" fill="#9b97c6" fill-opacity="0.75"/>
<circle cx="293.67" cy="81.49" r="0.8" fill="#bcbddc" fill-opacity="0.75"/>
<circle cx="292.82" cy="83.25" r="0.8" fill="#aba9d0" fill-opacity="0.75"/>
<circle cx="293.83" cy="82.54" r="0.8" fill="#c4c5e0" fill-opacity="0.75"/>
<circle cx="292.18" cy="90.35" r="0.8" fill="#adabd2" fill-opacity="0.75"/>
<circle cx="300.23" cy="57.37" r="0.8" fill="#c2c3df" fill-opacity="0.75"/>
<circle cx="300.12" cy="63.73" r="0.8" fill="#a7a4ce" fill-opacity="0.75"/>
<circle cx="295.79" cy="73.88" r="0.8" fill="#a29fcb" fill-opacity="0.75"/>
<circle cx="296.74" cy="70.72" r="0.8" fill="#cccce4" fill-opacity="0.75"/>
<circle cx="298.88" cy="63.53" r="0.8" fill="#c9c9e2" fill-opacity="0.75"/>
<circle cx="298.32" cy="64.09" r="0.8" fill="#c1c2df" fill-opacity="0.75"/>
<circle cx="299.38" cy="63.53" r="0.8" fill="#b4b4d7" fill-opacity="0.75"/>
<circle cx="295.44" cy="74.92" r="0.8" fill="#b8b8d9" fill-opacity="0.75"/>
<circle cx="296.38" cy="67.57" r="0.8" fill="#c5c6e1" fill-opacity="0.75"/>
<circle cx="298.77" cy="59.66" r="0.8" fill="#d1d2e7" fill-opacity="0.75"/>
<circle cx="295.41" cy="73.09" r="0.8" fill="#a5a2cd" fill-opacity="0.75"/>
<circle cx="299.19" cy="58.43" r="0.8" fill="#c5c6e1" fill-opacity="0.75"/>
<circle cx="300.88" cy="56.40" r="0.8" fill="#a9a7cf" fill-opacity="0.75"/>
<circle cx="297.57" cy="70.81" r="0.8" fill="#aeacd2" fill-opacity="0.75"/>
<circle cx="297.15" cy="69.88" r="0.8" fill="#bfc0de" fill-opacity="0.75"/>
<circle cx="300.84" cy="58.16" r="0.8" fill="#9a96c6" fill-opacity="0.75"/>
<circle cx="297.06" cy="68.07" r="0.8" fill="#a29fcb" fill-opacity="0.75"/>
<circle cx="297.69" cy="69.05" r="0.8" fill="#c2c3df" fill-opacity="0.75"/>
<circle cx="295.36" cy="75.36" r="0.8" fill="#9490c3" fill-opacity="0.75"/>
<circle cx="298.57" cy="64.59" r="0.8" fill="#c8c8e2" fill-opacity="0.75"/>
<circle cx="300.27" cy="54.55" r="0.8" fill="#bbbbdb" fill-opacity="0.75"/>
<circle cx="297.29" cy="69.38" r="0.8" fill="#c6c7e1" fill-opacity="0.75"/>
<circle cx="299.16" cy="63.58" r="0.8" fill="#cdcde4" fill-opacity="0.75"/>
<circle cx="299.12" cy="61.39" r="0.8" fill="#b2b2d5" fill-opacity="0.75"/>
<circle cx="297.17" cy="65.11" r="0.8" fill="#5d3897" fill-opacity="0.90"/>
<circle cx="297.18" cy="73.30" r="0.8" fill="#9390c3" fill-opacity="0.75"/>
<circle cx="299.78" cy="60.98" r="0.8" fill="#a7a4ce" fill-opacity="0.75"/>
<circle cx="300.10" cy="57.56" r="0.8" fill="#bdbedc" fill-opacity="0.75"/>
<circle cx="300.35" cy="59.74" r="0.8" fill="#9390c3" fill-opacity="0.75"/>
<circle cx="296.65" cy="73.98" r="0.8" fill="#a4a1cc" fill-opacity="0.75"/>
<circle cx="295.79" cy="71.42" r="0.8" fill="#a19eca" fill-opacity="0.75"/>
<circle cx="298.74" cy="58.22" r="0.8" fill="#bbbbdb" fill-opacity="0.75"/>
<circle cx="297.25" cy="70.23" r="0.8" fill="#acaad1" fill-opacity="0.75"/>
<circle cx="300.76" cy="52.34" r="0.8" fill="#cacae3" fill-opacity="0.75"/>
<circle cx="298.46" cy="63.85" r="0.8" fill="#440981" fill-opacity="0.90"/>
<circle cx="299.81" cy="59.43" r="0.8" fill="#9e9ac8" fill-opacity="0.75"/>
<circle cx="302.97" cy="55.02" r="0.8" fill="#bbbbdb" fill-opacity="0.75"/>
<circle cx="304.29" cy="50.47" r="0.8" fill="#c1c2df" fill-opacity="0.75"/>
<circle cx="306.11" cy="52.23" r="0.8" fill="#b5b5d7" fill-opacity="0.75"/>
<circle cx="302.61" cy="51.31" r="0.8" fill="#4b1687" fill-opacity="0.90"/>
<circle cx="301.55" cy="51.36" r="0.8" fill="#5b3495" fill-opacity="0.90"/>
<circle cx="306.67" cy="48.53" r="0.8" fill="#c8c8e2" fill-opacity="0.75"/>
<circle cx="302.40" cy="53.91" r="0.8" fill="#9894c5" fill-opacity="0.75"/>
<circle cx="303.19" cy="47.78" r="0.8" fill="#c2c3df" fill-opacity="0.75"/>
<circle cx="303.75" cy="48.52" r="0.8" fill="#64459e" fill-opacity="0.90"/>
<circle cx="306.64" cy="47.49" r="0.8" fill="#b6b6d8" fill-opacity="0.75"/>
<circle cx="302.81" cy="48.30" r="0.8" fill="#9490c3" fill-opacity="0.75"/>
<circle cx="301.66" cy="53.89" r="0.8" fill="#afaed4" fill-opacity="0.75"/>
<circle cx="304.96" cy="50.31" r="0.8" fill="#afaed4" fill-opacity="0.75"/>
<circle cx="302.78" cy="53.18" r="0.8" fill="#c0c1de" fill-opacity="0.75"/>
<circle cx="306.64" cy="50.40" r="0.8" fill="#a9a7cf" fill-opacity="0.75"/>
<circle cx="306.40" cy="49.07" r="0.8" fill="#bebedd" fill-opacity="0.75"/>
<circle cx="302.83" cy="49.27" r="0.8" fill="#bebedd" fill-opacity="0.75"/>
<circle cx="304.13" cy="53.22" r="0.8" fill="#c3c4e0" fill-opacity="0.75"/>
<circle cx="301.14" cy="56.45" r="0.8" fill="#afaed4" fill-opacity="0.75"/>
<circle cx="301.43" cy="52.91" r="0.8" fill="#9f9cc9" fill-opacity="0.75"/>
<circle cx="303.84" cy="50.48" r="0.8" fill="#9f9cc9" fill-opacity="0.75"/>
<circle cx="301.46" cy="54.72" r="0.8" fill="#9390c3" fill-opacity="0.75"/>
<circle cx="305.72" cy="49.05" r="0.8" fill="#b1b1d5" fill-opacity="0.75"/>
<circle cx="306.28" cy="47.68" r="0.8" fill="#420680" fill-opacity="0.90"/>
<circle cx="301.21" cy="56.81" r="0.8" fill="#9e9bc8" fill-opacity="0.75"/>
<circle cx="306.21" cy="45.16" r="0.8" fill="#c8c8e2" fill-opacity="0.75"/>
<circle cx="303.50" cy="49.20" r="0.8" fill="#c2c3df" fill-opacity="0.75"/>
<circle cx="301.39" cy="52.10" r="0.8" fill="#afaed4" fill-opacity="0.75"/>
<circle cx="305.89" cy="50.61" r="0.8" fill="#bdbedc" fill-opacity="0.75"/>
<circle cx="302.50" cy="50.81" r="0.8" fill="#aeacd2" fill-opacity="0.75"/>
<circle cx="307.21" cy="46.04" r="0.8" fill="#5a3395" fill-opacity="0.90"/>
<circle cx="313.06" cy="42.35" r="0.8" fill="#c4c5e0" fill-opacity="0.75"/>
<circle cx="306.80" cy="48.90" r="0.8" fill="#a9a7cf" fill-opacity="0.75"/>
<circle cx="310.08" cy="39.80" r="0.8" fill="#51228d" fill-opacity="0.90"/>
<circle cx="310.39" cy="40.07" r="0.8" fill="#9894c5" fill-opacity="0.75"/>
<circle cx="313.73" cy="43.29" r="0.8" fill="#cecfe5" fill-opacity="0.75"/>
<circle cx="310.64" cy="41.87" r="0.8" fill="#9a96c6" fill-opacity="0.75"/>
<circle cx="309.11" cy="39.27" r="0.8" fill="#a5a2cd" fill-opacity="0.75"/>
<circle cx="312.35" cy="42.01" r="0.8" fill="#9490c3" fill-opacity="0.75"/>
<circle cx="311.09" cy="40.68" r="0.8" fill="#4f1d8b" fill-opacity="0.90"/>
<circle cx="312.51" cy="38.86" r="0.8" fill="#bdbedc" fill-opacity="0.75"/>
<circle cx="310.66" cy="37.21" r="0.8" fill="#40017e" fill-opacity="0.90"/>
<circle cx="312.90" cy="42.04" r="0.8" fill="#9591c4" fill-opacity="0.75"/>
<circle cx="307.80" cy="38.39" r="0.8" fill="#a5a2cd" fill-opacity="0.75"/>
<circle cx="310.13" cy="35.43" r="0.8" fill="#9e9bc8" fill-opacity="0.75"/>
<circle cx="310.04" cy="40.78" r="0.8" fill="#420680" fill-opacity="0.90"/>
<circle cx="314.05" cy="41.38" r="0.8" fill="#5d3897" fill-opacity="0.90"/>
<circle cx="308.99" cy="46.41" r="0.8" fill="#d3d3e8" fill-opacity="0.75"/>
<circle cx="308.19" cy="42.34" r="0.8" fill="#acaad1" fill-opacity="0.75"/>
<circle cx="313.10" cy="42.27" r="0.8" fill="#c1c2df" fill-opacity="0.75"/>
<circle cx="311.20" cy="42.49" r="0.8" fill="#9e9bc8" fill-opacity="0.75"/>
<circle cx="314.16" cy="33.32" r="0.8" fill="#aeacd2" fill-opacity="0.75"/>
<circle cx="309.66" cy="44.27" r="0.8" fill="#cccce4" fill-opacity="0.75"/>
<circle cx="312.43" cy="32.67" r="0.8" fill="#9490c3" fill-opacity="0.75"/>
<circle cx="307.78" cy="42.65" r="0.8" fill="#51218c" fill-opacity="0.90"/>
<circle cx="309.46" cy="44.87" r="0.8" fill="#b6b6d8" fill-opacity="0.75"/>
<circle cx="310.16" cy="43.21" r="0.8" fill="#a7a4ce" fill-opacity="0.75"/>
<circle cx="310.49" cy="40.31" r="0.8" fill="#65479e" fill-opacity="0.90"/>
<circle cx="308.85" cy="40.19" r="0.8" fill="#b2b2d5" fill-opacity="0.75"/>
<circle cx="314.26" cy="43.99" r="0.8" fill="#a29fcb" fill-opacity="0.75"/>
<circle cx="314.26" cy="42.83" r="0.8" fill="#b0afd4" fill-opacity="0.75"/>
<circle cx="309.48" cy="38.84" r="0.8" fill="#b9b9da" fill-opacity="0.75"/>
<circle cx="313.30" cy="37.63" r="0.8" fill="#a29fcb" fill-opacity="0.75"/>
<circle cx="310.49" cy="45.70" r="0.8" fill="#a9a7cf" fill-opacity="0.75"/>
<circle cx="311.54" cy="41.68" r="0.8" fill="#9692c4" fill-opacity="0.75"/>
<circle cx="312.70" cy="38.08" r="0.8" fill="#acaad1" fill-opacity="0.75"/>
<circle cx="309.40" cy="47.04" r="0.8" fill="#9a96c6" fill-opacity="0.75"/>
<circle cx="310.89" cy="36.94" r="0.8" fill="#b5b5d7" fill-opacity="0.75"/>
<circle cx="307.08" cy="37.93" r="0.8" fill="#bcbddc" fill-opacity="0.75"/>
<circle cx="311.74" cy="39.17" r="0.8" fill="#a6a3cd" fill-opacity="0.75"/>
<circle cx="319.21" cy="43.14" r="0.8" fill="#c5c6e1" fill-opacity="0.75"/>
<circle cx="325.05" cy="42.31" r="0.8" fill="#5e3b98" fill-opacity="0.90"/>
<circle cx="324.38" cy="44.68" r="0.8" fill="#a3a0cb" fill-opacity="0.75"/>
<circle cx="316.39" cy="42.75" r="0.8" fill="#c1c2df" fill-opacity="0.75"/>
<circle cx="321.71" cy="41.78" r="0.8" fill="#460c83" fill-opacity="0.90"/>
<circle cx="324.81" cy="42.48" r="0.8" fill="#593093" fill-opacity="0.90"/>
<circle cx="325.99" cy="44.13" r="0.8" fill="#9995c6" fill-opacity="0.75"/>
<circle cx="321.87" cy="40.74" r="0.8" fill="#460c83" fill-opacity="0.90"/>
<circle cx="316.65" cy="41.51" r="0.8" fill="#42057f" fill-opacity="0.90"/>
<circle cx="323.14" cy="40.72" r="0.8" fill="#5f3c99" fill-opacity="0.90"/>
<circle cx="322.99" cy="42.38" r="0.8" fill="#a4a1cc" fill-opacity="0.75"/>
<circle cx="318.04" cy="41.35" r="0.8" fill="#53258e" fill-opacity="0.90"/>
<circle cx="320.30" cy="42.15" r="0.8" fill="#4c1888" fill-opacity="0.90"/>
<circle cx="325.08" cy="42.43" r="0.8" fill="#603e9a" fill-opacity="0.90"/>
<circle cx="322.85" cy="41.91" r="0.8" fill="#450b82" fill-opacity="0.90"/>
<circle cx="315.78" cy="42.06" r="0.8" fill="#562b91" fill-opacity="0.90"/>
<circle cx="316.39" cy="41.62" r="0.8" fill="#4d1a89" fill-opacity="0.90"/>
<circle cx="316.91" cy="44.63" r="0.8" fill="#9894c5" fill-opacity="0.75"/>
<circle cx="326.35" cy="41.66" r="0.8" fill="#460c83" fill-opacity="0.90"/>
<circle cx="324.70" cy="41.65" r="0.8" fill="#42057f" fill-opacity="0.90"/>
<circle cx="319.18" cy="42.54" r="0.8" fill="#d2d2e7" fill-opacity="0.75"/>
<circle cx="316.11" cy="43.78" r="0.8" fill="#cbcbe3" fill-opacity="0.75"/>
<circle cx="319.94" cy="43.20" r="0.8" fill="#cfd0e6" fill-opacity="0.75"/>
<circle cx="324.50" cy="42.53" r="0.8" fill="#582e92" fill-opacity="0.90"/>
<circle cx="315.78" cy="40.63" r="0.8" fill="#481084" fill-opacity="0.90"/>
<circle cx="322.64" cy="43.29" r="0.8" fill="#aaa8d0" fill-opacity="0.75"/>
<circle cx="347.97" cy="48.24" r="0.8" fill="#9692c4" fill-opacity="0.75"/>
<circle cx="339.55" cy="46.76" r="0.8" fill="#b1b1d5" fill-opacity="0.75"/>
<circle cx="327.77" cy="47.31" r="0.8" fill="#9a96c6" fill-opacity="0.75"/>
<circle cx="335.85" cy="46.25" r="0.8" fill="#a4a1cc" fill-opacity="0.75"/>
<circle cx="343.14" cy="48.89" r="0.8" fill="#9793c5" fill-opacity="0.75"/>
<circle cx="345.41" cy="46.85" r="0.8" fill="#9e9bc8" fill-opacity="0.75"/>
<circle cx="336.85" cy="46.24" r="0.8" fill="#b0afd4" fill-opacity="0.75"/>
<circle cx="336.28" cy="43.82" r="0.8" fill="#53258e" fill-opacity="0.90"/>
<circle cx="342.15" cy="44.99" r="0.8" fill="#cecee5" fill-opacity="0.75"/>
<circle cx="344.21" cy="43.15" r="0.8" fill="#481084" fill-opacity="0.90"/>
<circle cx="333.38" cy="43.47" r="0.8" fill="#460c83" fill-opacity="0.90"/>
<circle cx="344.36" cy="46.88" r="0.8" fill="#c3c4e0" fill-opacity="0.75"/>
<circle cx="338.81" cy="47.22" r="0.8" fill="#9591c4" fill-opacity="0.75"/>
<circle cx="339.40" cy="43.32" r="0.8" fill="#3f007d" fill-opacity="0.90"/>
<circle cx="342.41" cy="48.34" r="0.8" fill="#9995c6" fill-opacity="0.75"/>
<circle cx="344.90" cy="48.36" r="0.8" fill="#b1b1d5" fill-opacity="0.75"/>
<circle cx="328.59" cy="44.95" r="0.8" fill="#9e9ac8" fill-opacity="0.75"/>
<circle cx="365.18" cy="44.13" r="0.8" fill="#562b91" fill-opacity="0.90"/>
<circle cx="357.60" cy="44.37" r="0.8" fill="#4f1d8b" fill-opacity="0.90"/>
<circle cx="352.42" cy="47.51" r="0.8" fill="#bebedd" fill-opacity="0.75"/>
<circle cx="356.97" cy="43.16" r="0.8" fill="#42057f" fill-opacity="0.90"/>
<circle cx="372.21" cy="45.91" r="0.8" fill="#9e9ac8" fill-opacity="0.75"/>
<circle cx="372.15" cy="45.51" r="0.8" fill="#b1b1d5" fill-opacity="0.75"/>
<circle cx="363.27" cy="46.59" r="0.8" fill="#a09dca" fill-opacity="0.75"/>
<circle cx="366.50" cy="47.83" r="0.8" fill="#a9a7cf" fill-opacity="0.75"/>
<circle cx="358.87" cy="43.69" r="0.8" fill="#b0afd4" fill-opacity="0.75"/>
<circle cx="352.91" cy="43.85" r="0.8" fill="#42057f" fill-opacity="0.90"/>
<circle cx="353.33" cy="47.53" r="0.8" fill="#a4a1cc" fill-opacity="0.75"/>
<circle cx="349.92" cy="43.53" r="0.8" fill="#5d3897" fill-opacity="0.90"/>
<circle cx="355.29" cy="46.31" r="0.8" fill="#b0afd4" fill-opacity="0.75"/>
<circle cx="350.64" cy="43.44" r="0.8" fill="#5b3495" fill-opacity="0.90"/>
<circle cx="370.54" cy="42.88" r="0.8" fill="#54278f" fill-opacity="0.90"/>
<circle cx="370.17" cy="46.35" r="0.8" fill="#acaad1" fill-opacity="0.75"/>
<circle cx="370.63" cy="43.16" r="0.8" fill="#4b1687" fill-opacity="0.90"/>
<circle cx="362.47" cy="45.35" r="0.8" fill="#9e9bc8" fill-opacity="0.75"/>
<circle cx="374.00" cy="42.37" r="0.8" fill="#5a3294" fill-opacity="0.90"/>
<circle cx="367.61" cy="47.31" r="0.8" fill="#b9b9da" fill-opacity="0.75"/>
<circle cx="371.07" cy="45.89" r="0.8" fill="#adabd2" fill-opacity="0.75"/>
<circle cx="349.67" cy="46.77" r="0.8" fill="#bfc0de" fill-opacity="0.75"/>
<circle cx="366.20" cy="44.07" r="0.8" fill="#5d3897" fill-opacity="0.90"/>
<circle cx="356.33" cy="46.09" r="0.8" fill="#afaed4" fill-opacity="0.75"/>
<circle cx="363.17" cy="49.32" r="0.8" fill="#b0afd4" fill-opacity="0.75"/>
<circle cx="362.41" cy="44.71" r="0.8" fill="#aaa8d0" fill-opacity="0.75"/>
<circle cx="356.46" cy="44.07" r="0.8" fill="#4f1f8b" fill-opacity="0.90"/>
<circle cx="363.54" cy="45.19" r="0.8" fill="#aaa8d0" fill-opacity="0.75"/>
<circle cx="373.91" cy="45.79" r="0.8" fill="#aeadd3" fill-opacity="0.75"/>
<circle cx="358.00" cy="43.53" r="0.8" fill="#9995c6" fill-opacity="0.75"/>
<circle cx="372.14" cy="46.78" r="0.8" fill="#babadb" fill-opacity="0.75"/>
<circle cx="360.44" cy="47.46" r="0.8" fill="#b4b4d7" fill-opacity="0.75"/>
<circle cx="357.19" cy="44.50" r="0.8" fill="#572c92" fill-opacity="0.90"/>
<circle cx="359.19" cy="43.97" r="0.8" fill="#440981" fill-opacity="0.90"/>
<circle cx="363.62" cy="43.56" r="0.8" fill="#3f007d" fill-opacity="0.90"/>
<circle cx="355.20" cy="46.15" r="0.8" fill="#b7b7d9" fill-opacity="0.75"/>
<circle cx="368.38" cy="47.77" r="0.8" fill="#a4a1cc" fill-opacity="0.75"/>
<circle cx="361.13" cy="46.10" r="0.8" fill="#cbcbe3" fill-opacity="0.75"/>
<circle cx="373.19" cy="43.60" r="0.8" fill="#603e9a" fill-opacity="0.90"/>
<circle cx="355.08" cy="44.80" r="0.8" fill="#a4a1cc" fill-opacity="0.75"/>
<circle cx="369.84" cy="43.84" r="0.8" fill="#4c1788" fill-opacity="0.90"/>
<circle cx="373.94" cy="46.82" r="0.8" fill="#9591c4" fill-opacity="0.75"/>
<circle cx="373.27" cy="43.85" r="0.8" fill="#4d1b89" fill-opacity="0.90"/>
<circle cx="359.30" cy="45.27" r="0.8" fill="#c1c2df" fill-opacity="0.75"/>
<circle cx="360.83" cy="45.31" r="0.8" fill="#9c98c7" fill-opacity="0.75"/>
<circle cx="368.62" cy="44.75" r="0.8" fill="#a8a6cf" fill-opacity="0.75"/>
<circle cx="356.12" cy="45.37" r="0.8" fill="#9894c5" fill-opacity="0.75"/>
<circle cx="377.33" cy="44.37" r="0.8" fill="#9894c5" fill-opacity="0.75"/>
<circle cx="379.73" cy="47.42" r="0.8" fill="#928fc3" fill-opacity="0.75"/>
<circle cx="382.20" cy="43.89" r="0.8" fill="#481084" fill-opacity="0.90"/>
<circle cx="383.57" cy="41.51" r="0.8" fill="#42057f" fill-opacity="0.90"/>
<circle cx="401.42" cy="41.70" r="0.8" fill="#470f84" fill-opacity="0.90"/>
<circle cx="397.85" cy="42.75" r="0.8" fill="#582e92" fill-opacity="0.90"/>
<circle cx="394.00" cy="42.77" r="0.8" fill="#4d1b89" fill-opacity="0.90"/>
<circle cx="390.96" cy="43.96" r="0.8" fill="#cacae3" fill-opacity="0.75"/>
<circle cx="385.74" cy="43.35" r="0.8" fill="#491285" fill-opacity="0.90"/>
<circle cx="381.59" cy="42.99" r="0.8" fill="#552890" fill-opacity="0.90"/>
<circle cx="391.16" cy="42.51" r="0.8" fill="#430780" fill-opacity="0.90"/>
<circle cx="393.66" cy="43.75" r="0.8" fill="#a6a3cd" fill-opacity="0.75"/>
<circle cx="392.27" cy="43.93" r="0.8" fill="#b3b3d6" fill-opacity="0.75"/>
<circle cx="383.37" cy="43.22" r="0.8" fill="#5e3a98" fill-opacity="0.90"/>
<circle cx="389.27" cy="43.87" r="0.8" fill="#c4c5e0" fill-opacity="0.75"/>
<circle cx="379.68" cy="45.96" r="0.8" fill="#d3d3e8" fill-opacity="0.75"/>
<circle cx="374.61" cy="43.27" r="0.8" fill="#4c1788" fill-opacity="0.90"/>
<circle cx="376.43" cy="42.64" r="0.8" fill="#552890" fill-opacity="0.90"/>
<circle cx="391.03" cy="48.06" r="0.8" fill="#cacae3" fill-opacity="0.75"/>
<circle cx="381.13" cy="45.25" r="0.8" fill="#cecee5" fill-opacity="0.75"/>
<circle cx="394.53" cy="42.95" r="0.8" fill="#552a90" fill-opacity="0.90"/>
<circle cx="381.65" cy="43.23" r="0.8" fill="#53258e" fill-opacity="0.90"/>
<circle cx="400.43" cy="44.36" r="0.8" fill="#c1c2df" fill-opacity="0.75"/>
<circle cx="388.60" cy="41.90" r="0.8" fill="#40027e" fill-opacity="0.90"/>
<circle cx="384.00" cy="46.36" r="0.8" fill="#acaad1" fill-opacity="0.75"/>
<circle cx="398.64" cy="42.35" r="0.8" fill="#4f1d8b" fill-opacity="0.90"/>
<circle cx="389.99" cy="46.08" r="0.8" fill="#aaa8d0" fill-opacity="0.75"/>
<circle cx="389.56" cy="42.05" r="0.8" fill="#4f1f8b" fill-opacity="0.90"/>
<circle cx="378.99" cy="42.64" r="0.8" fill="#582f93" fill-opacity="0.90"/>
<circle cx="381.70" cy="44.44" r="0.8" fill="#cdcde4" fill-opacity="0.75"/>
<circle cx="384.60" cy="44.68" r="0.8" fill="#9c98c7" fill-opacity="0.75"/>
<circle cx="394.48" cy="45.00" r="0.8" fill="#a7a4ce" fill-opacity="0.75"/>
<circle cx="378.45" cy="44.87" r="0.8" fill="#c5c6e1" fill-opacity="0.75"/>
<circle cx="397.82" cy="42.26" r="0.8" fill="#440a82" fill-opacity="0.90"/>
<circle cx="384.83" cy="41.74" r="0.8" fill="#5d3897" fill-opacity="0.90"/>
<circle cx="391.03" cy="42.45" r="0.8" fill="#4c1888" fill-opacity="0.90"/>
<circle cx="374.28" cy="47.18" r="0.8" fill="#bbbbdb" fill-opacity="0.75"/>
<circle cx="389.92" cy="45.37" r="0.8" fill="#acaad1" fill-opacity="0.75"/>
<circle cx="385.98" cy="44.31" r="0.8" fill="#cfd0e6" fill-opacity="0.75"/>
<circle cx="387.35" cy="42.78" r="0.8" fill="#491285" fill-opacity="0.90"/>
<circle cx="374.06" cy="43.58" r="0.8" fill="#4f1f8b" fill-opacity="0.90"/>
<circle cx="384.11" cy="43.34" r="0.8" fill="#3f007d" fill-opacity="0.90"/>
<circle cx="399.73" cy="43.18" r="0.8" fill="#460c83" fill-opacity="0.90"/>
<circle cx="380.82" cy="45.77" r="0.8" fill="#a09dca" fill-opacity="0.75"/>
<circle cx="399.94" cy="42.20" r="0.8" fill="#4a1587" fill-opacity="0.90"/>
<circle cx="402.18" cy="44.86" r="0.8" fill="#bbbbdb" fill-opacity="0.75"/>
<circle cx="382.35" cy="44.43" r="0.8" fill="#aaa8d0" fill-opacity="0.75"/>
<circle cx="388.71" cy="42.92" r="0.8" fill="#4a1486" fill-opacity="0.90"/>
<circle cx="399.23" cy="42.18" r="0.8" fill="#552890" fill-opacity="0.90"/>
<circle cx="394.12" cy="45.27" r="0.8" fill="#babadb" fill-opacity="0.75"/>
<circle cx="397.61" cy="42.75" r="0.8" fill="#481185" fill-opacity="0.90"/>
<circle cx="376.86" cy="42.40" r="0.8" fill="#460d83" fill-opacity="0.90"/>
<circle cx="387.08" cy="44.96" r="0.8" fill="#a4a1cc" fill-opacity="0.75"/>
<circle cx="379.52" cy="43.79" r="0.8" fill="#4e1c8a" fill-opacity="0.90"/>
<circle cx="390.19" cy="44.53" r="0.8" fill="#bbbbdb" fill-opacity="0.75"/>
<circle cx="377.12" cy="43.33" r="0.8" fill="#460d83" fill-opacity="0.90"/>
<circle cx="392.90" cy="44.54" r="0.8" fill="#9490c3" fill-opacity="0.75"/>
<circle cx="397.38" cy="43.63" r="0.8" fill="#aaa8d0" fill-opacity="0.75"/>
<circle cx="394.84" cy="44.35" r="0.8" fill="#d2d2e7" fill-opacity="0.75"/>
<circle cx="396.76" cy="44.59" r="0.8" fill="#bdbedc" fill-opacity="0.75"/>
<circle cx="380.80" cy="45.65" r="0.8" fill="#c8c8e2" fill-opacity="0.75"/>
<circle cx="390.58" cy="45.76" r="0.8" fill="#9692c4" fill-opacity="0.75"/>
<circle cx="394.52" cy="43.68" r="0.8" fill="#b0afd4" fill-opacity="0.75"/>
<circle cx="381.05" cy="46.80" r="0.8" fill="#babadb" fill-opacity="0.75"/>
<circle cx="389.87" cy="42.87" r="0.8" fill="#64459e" fill-opacity="0.90"/>
<circle cx="401.04" cy="42.46" r="0.8" fill="#572c92" fill-opacity="0.90"/>
<circle cx="385.79" cy="43.26" r="0.8" fill="#50208c" fill-opacity="0.90"/>
<circle cx="386.72" cy="45.81" r="0.8" fill="#b9b9da" fill-opacity="0.75"/>
<circle cx="385.04" cy="43.27" r="0.8" fill="#5c3696" fill-opacity="0.90"/>
<circle cx="390.06" cy="46.09" r="0.8" fill="#a3a0cb" fill-opacity="0.75"/>
<circle cx="383.54" cy="42.26" r="0.8" fill="#582f93" fill-opacity="0.90"/>
<circle cx="383.92" cy="43.13" r="0.8" fill="#5c3797" fill-opacity="0.90"/>
<line x1="291.5" y1="57.44" x2="402.3" y2="57.44" stroke="#000" stroke-width="0.75" stroke-dasharray="1.9,0.9"/>
<path d="M291.50,96.40 L292.20,90.36 L292.89,86.13 L293.59,82.90 L294.29,79.97 L294.98,77.28 L295.68,74.73 L296.38,72.12 L297.07,69.50 L297.77,66.92 L298.47,64.43 L299.17,61.94 L299.86,59.76 L300.56,58.07 L301.26,56.60 L301.95,55.18 L302.65,53.82 L303.35,52.54 L304.04,51.37 L304.74,50.32 L305.44,49.38 L306.13,48.46 L306.83,47.60 L307.53,46.80 L308.22,46.08 L308.92,45.44 L309.62,44.91 L310.32,44.47 L311.01,44.05 L311.71,43.70 L312.41,43.43 L313.10,43.29 L313.80,43.21 L314.50,43.15 L315.19,43.09 L315.89,43.06 L316.59,43.04 L317.28,43.04 L317.98,43.06 L318.68,43.09 L319.37,43.13 L320.07,43.18 L320.77,43.24 L321.46,43.29 L322.16,43.35 L322.86,43.41 L323.56,43.48 L324.25,43.57 L324.95,43.66 L325.65,43.75 L326.34,43.84 L327.04,43.94 L327.74,44.04 L328.43,44.13 L329.13,44.22 L329.83,44.31 L330.52,44.39 L331.22,44.46 L331.92,44.52 L332.61,44.57 L333.31,44.60 L334.01,44.64 L334.71,44.68 L335.40,44.71 L336.10,44.75 L336.80,44.78 L337.49,44.82 L338.19,44.85 L338.89,44.88 L339.58,44.91 L340.28,44.95 L340.98,44.97 L341.67,45.00 L342.37,45.03 L343.07,45.06 L343.76,45.08 L344.46,45.11 L345.16,45.13 L345.85,45.15 L346.55,45.17 L347.25,45.19 L347.95,45.21 L348.64,45.23 L349.34,45.24 L350.04,45.25 L350.73,45.27 L351.43,45.28 L352.13,45.28 L352.82,45.29 L353.52,45.30 L354.22,45.30 L354.91,45.30 L355.61,45.30 L356.31,45.30 L357.00,45.29 L357.70,45.29 L358.40,45.28 L359.09,45.28 L359.79,45.27 L360.49,45.26 L361.19,45.25 L361.88,45.24 L362.58,45.23 L363.28,45.22 L363.97,45.21 L364.67,45.19 L365.37,45.18 L366.06,45.16 L366.76,45.15 L367.46,45.13 L368.15,45.11 L368.85,45.09 L369.55,45.08 L370.24,45.06 L370.94,45.04 L371.64,45.02 L372.34,45.00 L373.03,44.98 L373.73,44.96 L374.43,44.94 L375.12,44.92 L375.82,44.89 L376.52,44.87 L377.21,44.85 L377.91,44.83 L378.61,44.81 L379.30,44.79 L380.00,44.77 L380.70,44.75 L381.39,44.72 L382.09,44.70 L382.79,44.68 L383.48,44.65 L384.18,44.63 L384.88,44.60 L385.58,44.57 L386.27,44.54 L386.97,44.51 L387.67,44.48 L388.36,44.45 L389.06,44.42 L389.76,44.39 L390.45,44.35 L391.15,44.32 L391.85,44.28 L392.54,44.25 L393.24,44.21 L393.94,44.17 L394.63,44.14 L395.33,44.10 L396.03,44.06 L396.73,44.02 L397.42,43.98 L398.12,43.94 L398.82,43.90 L399.51,43.86 L400.21,43.82 L400.91,43.77 L401.60,43.73 L402.30,43.69" fill="none" stroke="#8034e8" stroke-width="1.3" stroke-linejoin="round"/>
</g>
<rect x="291.5" y="15.4" width="110.8" height="83.9" fill="none" stroke="#111" stroke-width="0.9"/>
<line x1="291.50" y1="99.3" x2="291.50" y2="97.5" stroke="#111" stroke-width="0.7"/>
<text x="291.5" y="105" font-size="4.2" text-anchor="middle" textLength="1.89" lengthAdjust="spacingAndGlyphs" fill="#000" stroke="#000" stroke-width="0.1">0</text>
<line x1="307.37" y1="99.3" x2="307.37" y2="97.5" stroke="#111" stroke-width="0.7"/>
<text x="307.374" y="105" font-size="4.2" text-anchor="middle" textLength="5.67" lengthAdjust="spacingAndGlyphs" fill="#000" stroke="#000" stroke-width="0.1">500</text>
<line x1="323.25" y1="99.3" x2="323.25" y2="97.5" stroke="#111" stroke-width="0.7"/>
<text x="323.248" y="105" font-size="4.2" text-anchor="middle" textLength="7.56" lengthAdjust="spacingAndGlyphs" fill="#000" stroke="#000" stroke-width="0.1">1000</text>
<line x1="339.12" y1="99.3" x2="339.12" y2="97.5" stroke="#111" stroke-width="0.7"/>
<text x="339.122" y="105" font-size="4.2" text-anchor="middle" textLength="7.56" lengthAdjust="spacingAndGlyphs" fill="#000" stroke="#000" stroke-width="0.1">1500</text>
<line x1="355.00" y1="99.3" x2="355.00" y2="97.5" stroke="#111" stroke-width="0.7"/>
<text x="354.996" y="105" font-size="4.2" text-anchor="middle" textLength="7.56" lengthAdjust="spacingAndGlyphs" fill="#000" stroke="#000" stroke-width="0.1">2000</text>
<line x1="370.87" y1="99.3" x2="370.87" y2="97.5" stroke="#111" stroke-width="0.7"/>
<text x="370.87" y="105" font-size="4.2" text-anchor="middle" textLength="7.56" lengthAdjust="spacingAndGlyphs" fill="#000" stroke="#000" stroke-width="0.1">2500</text>
<line x1="386.74" y1="99.3" x2="386.74" y2="97.5" stroke="#111" stroke-width="0.7"/>
<text x="386.744" y="105" font-size="4.2" text-anchor="middle" textLength="7.56" lengthAdjust="spacingAndGlyphs" fill="#000" stroke="#000" stroke-width="0.1">3000</text>
<line x1="291.5" y1="93.68" x2="293.4" y2="93.68" stroke="#111" stroke-width="0.7"/>
<text x="290" y="95.7825" font-size="4.2" text-anchor="end" textLength="3.79815" lengthAdjust="spacingAndGlyphs" fill="#000" stroke="#000" stroke-width="0.1">−2</text>
<line x1="291.5" y1="75.56" x2="293.4" y2="75.56" stroke="#111" stroke-width="0.7"/>
<text x="290" y="77.6616" font-size="4.2" text-anchor="end" textLength="3.79815" lengthAdjust="spacingAndGlyphs" fill="#000" stroke="#000" stroke-width="0.1">−1</text>
<line x1="291.5" y1="57.44" x2="293.4" y2="57.44" stroke="#111" stroke-width="0.7"/>
<text x="290" y="59.5406" font-size="4.2" text-anchor="end" textLength="1.785" lengthAdjust="spacingAndGlyphs" fill="#000" stroke="#000" stroke-width="0.1">0</text>
<line x1="291.5" y1="39.32" x2="293.4" y2="39.32" stroke="#111" stroke-width="0.7"/>
<text x="290" y="41.4197" font-size="4.2" text-anchor="end" textLength="1.785" lengthAdjust="spacingAndGlyphs" fill="#000" stroke="#000" stroke-width="0.1">1</text>
<line x1="291.5" y1="21.20" x2="293.4" y2="21.20" stroke="#111" stroke-width="0.7"/>
<text x="290" y="23.2987" font-size="4.2" text-anchor="end" textLength="1.785" lengthAdjust="spacingAndGlyphs" fill="#000" stroke="#000" stroke-width="0.1">2</text>
<text x="346.9" y="12" font-size="5.4" text-anchor="middle" textLength="32" lengthAdjust="spacingAndGlyphs" fill="#000">KD_militar × Tpi</text>
<text x="294.8" y="23.8" font-size="5" text-anchor="start" font-weight="bold" textLength="5.2" lengthAdjust="spacingAndGlyphs" fill="#000">(a)</text>
<text x="284" y="55.25" font-size="5.2" text-anchor="middle" transform="rotate(-90 284 55.25)" textLength="59" lengthAdjust="spacingAndGlyphs" fill="#000" stroke="#000" stroke-width="0.05">SHAP value for KD_militar</text>
</g>
<g>
<clipPath id="cp1"><rect x="415.4" y="15.4" width="110.8" height="83.9"/></clipPath>
<g clip-path="url(#cp1)">
<circle cx="419.04" cy="74.80" r="0.8" fill="#9d99c7" fill-opacity="0.75"/>
<circle cx="418.20" cy="78.94" r="0.8" fill="#a8a6cf" fill-opacity="0.75"/>
<circle cx="416.57" cy="86.98" r="0.8" fill="#aeacd2" fill-opacity="0.75"/>
<circle cx="416.00" cy="88.03" r="0.8" fill="#b7b7d9" fill-opacity="0.75"/>
<circle cx="416.90" cy="84.44" r="0.8" fill="#9591c4" fill-opacity="0.75"/>
<circle cx="417.47" cy="90.30" r="0.8" fill="#b6b6d8" fill-opacity="0.75"/>
<circle cx="416.42" cy="83.66" r="0.8" fill="#bebfdd" fill-opacity="0.75"/>
<circle cx="416.85" cy="82.86" r="0.8" fill="#9995c6" fill-opacity="0.75"/>
<circle cx="417.40" cy="83.23" r="0.8" fill="#d1d2e7" fill-opacity="0.75"/>
<circle cx="416.64" cy="84.45" r="0.8" fill="#cacae3" fill-opacity="0.75"/>
<circle cx="417.34" cy="77.10" r="0.8" fill="#9995c6" fill-opacity="0.75"/>
<circle cx="423.76" cy="58.65" r="0.8" fill="#a3a0cb" fill-opacity="0.75"/>
<circle cx="424.39" cy="57.40" r="0.8" fill="#bcbddc" fill-opacity="0.75"/>
<circle cx="424.82" cy="62.18" r="0.8" fill="#9490c3" fill-opacity="0.75"/>
<circle cx="420.13" cy="71.56" r="0.8" fill="#b5b5d7" fill-opacity="0.75"/>
<circle cx="422.24" cy="68.02" r="0.8" fill="#b3b3d6" fill-opacity="0.75"/>
<circle cx="424.49" cy="62.81" r="0.8" fill="#bcbddc" fill-opacity="0.75"/>
<circle cx="424.25" cy="57.96" r="0.8" fill="#9995c6" fill-opacity="0.75"/>
<circle cx="421.84" cy="70.82" r="0.8" fill="#a4a1cc" fill-opacity="0.75"/>
<circle cx="421.99" cy="67.22" r="0.8" fill="#c4c5e0" fill-opacity="0.75"/>
<circle cx="421.07" cy="68.61" r="0.8" fill="#9894c5" fill-opacity="0.75"/>
<circle cx="420.74" cy="70.88" r="0.8" fill="#9894c5" fill-opacity="0.75"/>
<circle cx="420.98" cy="64.33" r="0.8" fill="#b1b1d5" fill-opacity="0.75"/>
<circle cx="428.65" cy="51.48" r="0.8" fill="#c5c6e1" fill-opacity="0.75"/>
<circle cx="427.85" cy="52.58" r="0.8" fill="#cecfe5" fill-opacity="0.75"/>
<circle cx="429.61" cy="50.56" r="0.8" fill="#c7c8e1" fill-opacity="0.75"/>
<circle cx="429.18" cy="53.82" r="0.8" fill="#c1c2df" fill-opacity="0.75"/>
<circle cx="426.22" cy="54.41" r="0.8" fill="#9c98c7" fill-opacity="0.75"/>
<circle cx="426.32" cy="55.95" r="0.8" fill="#b8b8d9" fill-opacity="0.75"/>
<circle cx="429.02" cy="45.43" r="0.8" fill="#a7a4ce" fill-opacity="0.75"/>
<circle cx="425.40" cy="56.28" r="0.8" fill="#d1d2e7" fill-opacity="0.75"/>
<circle cx="426.39" cy="55.52" r="0.8" fill="#c7c8e1" fill-opacity="0.75"/>
<circle cx="428.88" cy="51.83" r="0.8" fill="#928fc3" fill-opacity="0.75"/>
<circle cx="425.79" cy="55.23" r="0.8" fill="#a3a0cb" fill-opacity="0.75"/>
<circle cx="425.57" cy="56.14" r="0.8" fill="#a19eca" fill-opacity="0.75"/>
<circle cx="429.15" cy="48.69" r="0.8" fill="#a5a2cd" fill-opacity="0.75"/>
<circle cx="427.63" cy="55.11" r="0.8" fill="#bebfdd" fill-opacity="0.75"/>
<circle cx="431.42" cy="36.55" r="0.8" fill="#adabd2" fill-opacity="0.75"/>
<circle cx="433.63" cy="40.37" r="0.8" fill="#c2c3df" fill-opacity="0.75"/>
<circle cx="435.26" cy="42.32" r="0.8" fill="#cacae3" fill-opacity="0.75"/>
<circle cx="431.07" cy="44.89" r="0.8" fill="#4c1888" fill-opacity="0.90"/>
<circle cx="434.51" cy="33.54" r="0.8" fill="#c4c5e0" fill-opacity="0.75"/>
<circle cx="434.03" cy="43.76" r="0.8" fill="#aba9d0" fill-opacity="0.75"/>
<circle cx="436.74" cy="39.58" r="0.8" fill="#b0afd4" fill-opacity="0.75"/>
<circle cx="430.68" cy="45.32" r="0.8" fill="#a4a1cc" fill-opacity="0.75"/>
<circle cx="432.47" cy="42.95" r="0.8" fill="#c5c6e1" fill-opacity="0.75"/>
<circle cx="434.61" cy="38.96" r="0.8" fill="#c5c6e1" fill-opacity="0.75"/>
<circle cx="437.55" cy="36.15" r="0.8" fill="#b1b1d5" fill-opacity="0.75"/>
<circle cx="435.07" cy="39.65" r="0.8" fill="#c7c8e1" fill-opacity="0.75"/>
<circle cx="431.35" cy="45.13" r="0.8" fill="#9793c5" fill-opacity="0.75"/>
<circle cx="435.29" cy="41.71" r="0.8" fill="#d2d2e7" fill-opacity="0.75"/>
<circle cx="435.86" cy="35.06" r="0.8" fill="#a7a4ce" fill-opacity="0.75"/>
<circle cx="430.76" cy="43.00" r="0.8" fill="#c5c6e1" fill-opacity="0.75"/>
<circle cx="435.12" cy="39.43" r="0.8" fill="#9692c4" fill-opacity="0.75"/>
<circle cx="431.22" cy="46.40" r="0.8" fill="#babadb" fill-opacity="0.75"/>
<circle cx="434.17" cy="44.32" r="0.8" fill="#cbcbe3" fill-opacity="0.75"/>
<circle cx="431.57" cy="41.69" r="0.8" fill="#9490c3" fill-opacity="0.75"/>
<circle cx="435.92" cy="35.34" r="0.8" fill="#a4a1cc" fill-opacity="0.75"/>
<circle cx="434.43" cy="39.89" r="0.8" fill="#c1c2df" fill-opacity="0.75"/>
<circle cx="434.65" cy="31.59" r="0.8" fill="#9692c4" fill-opacity="0.75"/>
<circle cx="437.01" cy="41.30" r="0.8" fill="#c2c3df" fill-opacity="0.75"/>
<circle cx="433.90" cy="38.37" r="0.8" fill="#9e9ac8" fill-opacity="0.75"/>
<circle cx="431.37" cy="42.00" r="0.8" fill="#b8b8d9" fill-opacity="0.75"/>
<circle cx="439.06" cy="38.88" r="0.8" fill="#420680" fill-opacity="0.90"/>
<circle cx="450.19" cy="43.34" r="0.8" fill="#a7a4ce" fill-opacity="0.75"/>
<circle cx="446.48" cy="44.41" r="0.8" fill="#afaed4" fill-opacity="0.75"/>
<circle cx="449.72" cy="42.57" r="0.8" fill="#c2c3df" fill-opacity="0.75"/>
<circle cx="449.05" cy="44.00" r="0.8" fill="#928fc3" fill-opacity="0.75"/>
<circle cx="447.70" cy="42.33" r="0.8" fill="#4d1b89" fill-opacity="0.90"/>
<circle cx="448.90" cy="46.00" r="0.8" fill="#b9b9da" fill-opacity="0.75"/>
<circle cx="446.83" cy="43.31" r="0.8" fill="#9490c3" fill-opacity="0.75"/>
<circle cx="442.25" cy="43.60" r="0.8" fill="#9c98c7" fill-opacity="0.75"/>
<circle cx="440.97" cy="44.51" r="0.8" fill="#9390c3" fill-opacity="0.75"/>
<circle cx="445.92" cy="40.39" r="0.8" fill="#420680" fill-opacity="0.90"/>
<circle cx="446.10" cy="41.05" r="0.8" fill="#acaad1" fill-opacity="0.75"/>
<circle cx="449.18" cy="42.77" r="0.8" fill="#c6c7e1" fill-opacity="0.75"/>
<circle cx="447.24" cy="41.78" r="0.8" fill="#4d1a89" fill-opacity="0.90"/>
<circle cx="443.50" cy="40.21" r="0.8" fill="#9490c3" fill-opacity="0.75"/>
<circle cx="439.14" cy="41.37" r="0.8" fill="#50208c" fill-opacity="0.90"/>
<circle cx="448.36" cy="43.16" r="0.8" fill="#a7a4ce" fill-opacity="0.75"/>
<circle cx="442.30" cy="43.89" r="0.8" fill="#cecee5" fill-opacity="0.75"/>
<circle cx="447.35" cy="42.38" r="0.8" fill="#a7a4ce" fill-opacity="0.75"/>
<circle cx="447.76" cy="43.10" r="0.8" fill="#babadb" fill-opacity="0.75"/>
<circle cx="443.86" cy="41.68" r="0.8" fill="#bbbbdb" fill-opacity="0.75"/>
<circle cx="462.28" cy="48.93" r="0.8" fill="#bfc0de" fill-opacity="0.75"/>
<circle cx="464.75" cy="49.98" r="0.8" fill="#cecfe5" fill-opacity="0.75"/>
<circle cx="468.64" cy="48.90" r="0.8" fill="#a9a7cf" fill-opacity="0.75"/>
<circle cx="459.06" cy="44.43" r="0.8" fill="#babadb" fill-opacity="0.75"/>
<circle cx="462.11" cy="46.69" r="0.8" fill="#bfc0de" fill-opacity="0.75"/>
<circle cx="455.50" cy="46.00" r="0.8" fill="#9591c4" fill-opacity="0.75"/>
<circle cx="452.81" cy="46.98" r="0.8" fill="#bebfdd" fill-opacity="0.75"/>
<circle cx="452.04" cy="44.89" r="0.8" fill="#c0c1de" fill-opacity="0.75"/>
<circle cx="470.20" cy="48.21" r="0.8" fill="#9793c5" fill-opacity="0.75"/>
<circle cx="457.57" cy="46.14" r="0.8" fill="#a7a4ce" fill-opacity="0.75"/>
<circle cx="458.63" cy="46.65" r="0.8" fill="#9e9bc8" fill-opacity="0.75"/>
<circle cx="464.39" cy="46.42" r="0.8" fill="#9a96c6" fill-opacity="0.75"/>
<circle cx="470.90" cy="49.09" r="0.8" fill="#a29fcb" fill-opacity="0.75"/>
<circle cx="467.01" cy="44.70" r="0.8" fill="#9390c3" fill-opacity="0.75"/>
<circle cx="456.80" cy="47.69" r="0.8" fill="#babadb" fill-opacity="0.75"/>
<circle cx="476.99" cy="46.28" r="0.8" fill="#9995c6" fill-opacity="0.75"/>
<circle cx="477.28" cy="44.26" r="0.8" fill="#cbcbe3" fill-opacity="0.75"/>
<circle cx="473.26" cy="47.24" r="0.8" fill="#9a96c6" fill-opacity="0.75"/>
<circle cx="491.89" cy="43.00" r="0.8" fill="#c3c4e0" fill-opacity="0.75"/>
<circle cx="493.72" cy="45.55" r="0.8" fill="#c9c9e2" fill-opacity="0.75"/>
<circle cx="480.58" cy="43.60" r="0.8" fill="#5f3c99" fill-opacity="0.90"/>
<circle cx="477.74" cy="46.24" r="0.8" fill="#bdbedc" fill-opacity="0.75"/>
<circle cx="478.81" cy="44.92" r="0.8" fill="#acaad1" fill-opacity="0.75"/>
<circle cx="481.09" cy="45.30" r="0.8" fill="#cacae3" fill-opacity="0.75"/>
<circle cx="494.16" cy="45.60" r="0.8" fill="#a09dca" fill-opacity="0.75"/>
<circle cx="475.92" cy="44.77" r="0.8" fill="#a19eca" fill-opacity="0.75"/>
<circle cx="488.05" cy="46.21" r="0.8" fill="#928fc3" fill-opacity="0.75"/>
<circle cx="482.51" cy="46.15" r="0.8" fill="#9d99c7" fill-opacity="0.75"/>
<circle cx="487.72" cy="46.02" r="0.8" fill="#b0afd4" fill-opacity="0.75"/>
<circle cx="497.56" cy="44.33" r="0.8" fill="#b8b8d9" fill-opacity="0.75"/>
<circle cx="485.87" cy="42.65" r="0.8" fill="#5d3897" fill-opacity="0.90"/>
<circle cx="497.82" cy="43.31" r="0.8" fill="#cecee5" fill-opacity="0.75"/>
<circle cx="480.31" cy="46.10" r="0.8" fill="#d2d2e7" fill-opacity="0.75"/>
<circle cx="475.24" cy="45.09" r="0.8" fill="#a8a6cf" fill-opacity="0.75"/>
<circle cx="474.88" cy="44.80" r="0.8" fill="#a9a7cf" fill-opacity="0.75"/>
<circle cx="473.81" cy="45.36" r="0.8" fill="#aeadd3" fill-opacity="0.75"/>
<circle cx="476.07" cy="43.97" r="0.8" fill="#5d3897" fill-opacity="0.90"/>
<circle cx="495.88" cy="47.02" r="0.8" fill="#9a96c6" fill-opacity="0.75"/>
<circle cx="476.10" cy="45.69" r="0.8" fill="#cbcbe3" fill-opacity="0.75"/>
<circle cx="475.51" cy="45.32" r="0.8" fill="#c5c6e1" fill-opacity="0.75"/>
<circle cx="482.18" cy="44.93" r="0.8" fill="#9b97c6" fill-opacity="0.75"/>
<circle cx="495.51" cy="47.95" r="0.8" fill="#c9c9e2" fill-opacity="0.75"/>
<circle cx="475.22" cy="45.55" r="0.8" fill="#aaa8d0" fill-opacity="0.75"/>
<circle cx="477.89" cy="45.79" r="0.8" fill="#b7b7d9" fill-opacity="0.75"/>
<circle cx="482.66" cy="44.05" r="0.8" fill="#aeadd3" fill-opacity="0.75"/>
<circle cx="484.55" cy="44.95" r="0.8" fill="#c4c5e0" fill-opacity="0.75"/>
<circle cx="517.81" cy="48.20" r="0.8" fill="#afaed4" fill-opacity="0.75"/>
<circle cx="503.65" cy="44.74" r="0.8" fill="#aba9d0" fill-opacity="0.75"/>
<circle cx="518.92" cy="45.26" r="0.8" fill="#a09dca" fill-opacity="0.75"/>
<circle cx="521.20" cy="44.27" r="0.8" fill="#c6c7e1" fill-opacity="0.75"/>
<circle cx="501.01" cy="44.98" r="0.8" fill="#9591c4" fill-opacity="0.75"/>
<circle cx="525.58" cy="44.18" r="0.8" fill="#c5c6e1" fill-opacity="0.75"/>
<circle cx="521.23" cy="44.04" r="0.8" fill="#aeacd2" fill-opacity="0.75"/>
<circle cx="509.61" cy="42.01" r="0.8" fill="#cbcbe3" fill-opacity="0.75"/>
<circle cx="517.79" cy="45.70" r="0.8" fill="#bebedd" fill-opacity="0.75"/>
<circle cx="513.15" cy="44.34" r="0.8" fill="#c6c7e1" fill-opacity="0.75"/>
<circle cx="519.76" cy="44.84" r="0.8" fill="#b5b5d7" fill-opacity="0.75"/>
<circle cx="507.72" cy="46.17" r="0.8" fill="#b4b4d7" fill-opacity="0.75"/>
<circle cx="503.37" cy="43.84" r="0.8" fill="#c8c8e2" fill-opacity="0.75"/>
<circle cx="515.04" cy="45.03" r="0.8" fill="#a8a6cf" fill-opacity="0.75"/>
<circle cx="522.95" cy="42.53" r="0.8" fill="#bfc0de" fill-opacity="0.75"/>
<circle cx="498.30" cy="44.15" r="0.8" fill="#bebfdd" fill-opacity="0.75"/>
<circle cx="505.18" cy="43.64" r="0.8" fill="#b8b8d9" fill-opacity="0.75"/>
<circle cx="521.50" cy="41.80" r="0.8" fill="#4d1a89" fill-opacity="0.90"/>
<circle cx="501.67" cy="45.73" r="0.8" fill="#cecfe5" fill-opacity="0.75"/>
<circle cx="514.56" cy="45.22" r="0.8" fill="#9e9bc8" fill-opacity="0.75"/>
<circle cx="523.82" cy="44.42" r="0.8" fill="#9793c5" fill-opacity="0.75"/>
<circle cx="503.68" cy="43.40" r="0.8" fill="#b1b1d5" fill-opacity="0.75"/>
<circle cx="504.58" cy="42.97" r="0.8" fill="#4d1a89" fill-opacity="0.90"/>
<circle cx="509.00" cy="43.49" r="0.8" fill="#bbbbdb" fill-opacity="0.75"/>
<circle cx="504.02" cy="47.08" r="0.8" fill="#cecee5" fill-opacity="0.75"/>
<circle cx="524.66" cy="42.22" r="0.8" fill="#b1b1d5" fill-opacity="0.75"/>
<circle cx="500.80" cy="47.13" r="0.8" fill="#aeacd2" fill-opacity="0.75"/>
<circle cx="517.86" cy="44.40" r="0.8" fill="#b4b4d7" fill-opacity="0.75"/>
<circle cx="501.60" cy="45.27" r="0.8" fill="#aba9d0" fill-opacity="0.75"/>
<circle cx="516.21" cy="43.01" r="0.8" fill="#4b1687" fill-opacity="0.90"/>
<circle cx="510.30" cy="44.96" r="0.8" fill="#b4b4d7" fill-opacity="0.75"/>
<circle cx="524.63" cy="45.13" r="0.8" fill="#acaad1" fill-opacity="0.75"/>
<circle cx="500.97" cy="46.35" r="0.8" fill="#aaa8d0" fill-opacity="0.75"/>
<circle cx="520.69" cy="47.69" r="0.8" fill="#d1d2e7" fill-opacity="0.75"/>
<circle cx="507.56" cy="42.92" r="0.8" fill="#a4a1cc" fill-opacity="0.75"/>
<circle cx="522.31" cy="41.30" r="0.8" fill="#51228d" fill-opacity="0.90"/>
<circle cx="509.80" cy="45.16" r="0.8" fill="#adabd2" fill-opacity="0.75"/>
<circle cx="525.25" cy="43.79" r="0.8" fill="#9894c5" fill-opacity="0.75"/>
<circle cx="499.08" cy="45.80" r="0.8" fill="#b9b9da" fill-opacity="0.75"/>
<circle cx="523.63" cy="40.45" r="0.8" fill="#4c1888" fill-opacity="0.90"/>
<circle cx="499.85" cy="44.94" r="0.8" fill="#b9b9da" fill-opacity="0.75"/>
<circle cx="512.08" cy="44.86" r="0.8" fill="#b1b1d5" fill-opacity="0.75"/>
<circle cx="512.86" cy="44.03" r="0.8" fill="#b7b7d9" fill-opacity="0.75"/>
<circle cx="510.94" cy="43.04" r="0.8" fill="#b6b6d8" fill-opacity="0.75"/>
<circle cx="510.31" cy="43.71" r="0.8" fill="#c9c9e2" fill-opacity="0.75"/>
<circle cx="514.74" cy="42.87" r="0.8" fill="#491285" fill-opacity="0.90"/>
<circle cx="525.56" cy="43.78" r="0.8" fill="#b6b6d8" fill-opacity="0.75"/>
<circle cx="511.07" cy="45.12" r="0.8" fill="#a29fcb" fill-opacity="0.75"/>
<circle cx="524.86" cy="43.33" r="0.8" fill="#bfc0de" fill-opacity="0.75"/>
<circle cx="521.68" cy="44.16" r="0.8" fill="#a6a3cd" fill-opacity="0.75"/>
<circle cx="504.93" cy="44.93" r="0.8" fill="#b5b5d7" fill-opacity="0.75"/>
<line x1="415.4" y1="57.44" x2="526.2" y2="57.44" stroke="#000" stroke-width="0.75" stroke-dasharray="1.9,0.9"/>
<path d="M415.40,87.34 L416.10,85.30 L416.79,83.18 L417.49,80.97 L418.19,78.68 L418.88,76.30 L419.58,73.75 L420.28,71.10 L420.97,68.44 L421.67,65.87 L422.37,63.20 L423.07,60.52 L423.76,58.61 L424.46,57.71 L425.16,57.10 L425.85,56.38 L426.55,55.30 L427.25,53.97 L427.94,52.57 L428.64,51.26 L429.34,50.09 L430.03,48.96 L430.73,47.87 L431.43,46.86 L432.12,45.91 L432.82,44.89 L433.52,43.91 L434.22,43.19 L434.91,42.93 L435.61,42.86 L436.31,42.80 L437.00,42.77 L437.70,42.76 L438.40,42.76 L439.09,42.77 L439.79,42.78 L440.49,42.79 L441.18,42.80 L441.88,42.82 L442.58,42.83 L443.27,42.86 L443.97,42.88 L444.67,42.91 L445.36,42.94 L446.06,42.99 L446.76,43.10 L447.46,43.27 L448.15,43.47 L448.85,43.67 L449.55,43.86 L450.24,44.02 L450.94,44.15 L451.64,44.29 L452.33,44.43 L453.03,44.56 L453.73,44.66 L454.42,44.73 L455.12,44.76 L455.82,44.76 L456.51,44.76 L457.21,44.76 L457.91,44.76 L458.61,44.76 L459.30,44.76 L460.00,44.76 L460.70,44.76 L461.39,44.76 L462.09,44.76 L462.79,44.76 L463.48,44.76 L464.18,44.76 L464.88,44.76 L465.57,44.76 L466.27,44.76 L466.97,44.76 L467.66,44.75 L468.36,44.75 L469.06,44.75 L469.75,44.75 L470.45,44.74 L471.15,44.74 L471.85,44.73 L472.54,44.73 L473.24,44.72 L473.94,44.71 L474.63,44.71 L475.33,44.70 L476.03,44.69 L476.72,44.68 L477.42,44.68 L478.12,44.67 L478.81,44.66 L479.51,44.65 L480.21,44.64 L480.90,44.63 L481.60,44.62 L482.30,44.61 L482.99,44.60 L483.69,44.60 L484.39,44.59 L485.09,44.58 L485.78,44.57 L486.48,44.56 L487.18,44.55 L487.87,44.54 L488.57,44.53 L489.27,44.52 L489.96,44.50 L490.66,44.49 L491.36,44.48 L492.05,44.47 L492.75,44.45 L493.45,44.44 L494.14,44.43 L494.84,44.41 L495.54,44.40 L496.24,44.38 L496.93,44.37 L497.63,44.35 L498.33,44.34 L499.02,44.32 L499.72,44.31 L500.42,44.29 L501.11,44.27 L501.81,44.26 L502.51,44.24 L503.20,44.22 L503.90,44.21 L504.60,44.19 L505.29,44.17 L505.99,44.15 L506.69,44.14 L507.38,44.12 L508.08,44.10 L508.78,44.08 L509.48,44.06 L510.17,44.04 L510.87,44.03 L511.57,44.01 L512.26,43.99 L512.96,43.97 L513.66,43.94 L514.35,43.92 L515.05,43.90 L515.75,43.88 L516.44,43.86 L517.14,43.83 L517.84,43.81 L518.53,43.79 L519.23,43.76 L519.93,43.74 L520.63,43.71 L521.32,43.69 L522.02,43.66 L522.72,43.63 L523.41,43.61 L524.11,43.58 L524.81,43.55 L525.50,43.53 L526.20,43.50" fill="none" stroke="#8034e8" stroke-width="1.3" stroke-linejoin="round"/>
</g>
<rect x="415.4" y="15.4" width="110.8" height="83.9" fill="none" stroke="#111" stroke-width="0.9"/>
<line x1="415.40" y1="99.3" x2="415.40" y2="97.5" stroke="#111" stroke-width="0.7"/>
<text x="415.4" y="105" font-size="4.2" text-anchor="middle" textLength="1.89" lengthAdjust="spacingAndGlyphs" fill="#000" stroke="#000" stroke-width="0.1">0</text>
<line x1="431.27" y1="99.3" x2="431.27" y2="97.5" stroke="#111" stroke-width="0.7"/>
<text x="431.274" y="105" font-size="4.2" text-anchor="middle" textLength="5.67" lengthAdjust="spacingAndGlyphs" fill="#000" stroke="#000" stroke-width="0.1">500</text>
<line x1="447.15" y1="99.3" x2="447.15" y2="97.5" stroke="#111" stroke-width="0.7"/>
<text x="447.148" y="105" font-size="4.2" text-anchor="middle" textLength="7.56" lengthAdjust="spacingAndGlyphs" fill="#000" stroke="#000" stroke-width="0.1">1000</text>
<line x1="463.02" y1="99.3" x2="463.02" y2="97.5" stroke="#111" stroke-width="0.7"/>
<text x="463.022" y="105" font-size="4.2" text-anchor="middle" textLength="7.56" lengthAdjust="spacingAndGlyphs" fill="#000" stroke="#000" stroke-width="0.1">1500</text>
<line x1="478.90" y1="99.3" x2="478.90" y2="97.5" stroke="#111" stroke-width="0.7"/>
<text x="478.896" y="105" font-size="4.2" text-anchor="middle" textLength="7.56" lengthAdjust="spacingAndGlyphs" fill="#000" stroke="#000" stroke-width="0.1">2000</text>
<line x1="494.77" y1="99.3" x2="494.77" y2="97.5" stroke="#111" stroke-width="0.7"/>
<text x="494.77" y="105" font-size="4.2" text-anchor="middle" textLength="7.56" lengthAdjust="spacingAndGlyphs" fill="#000" stroke="#000" stroke-width="0.1">2500</text>
<line x1="510.64" y1="99.3" x2="510.64" y2="97.5" stroke="#111" stroke-width="0.7"/>
<text x="510.644" y="105" font-size="4.2" text-anchor="middle" textLength="7.56" lengthAdjust="spacingAndGlyphs" fill="#000" stroke="#000" stroke-width="0.1">3000</text>
<line x1="415.4" y1="93.68" x2="417.3" y2="93.68" stroke="#111" stroke-width="0.7"/>
<text x="413.9" y="95.7825" font-size="4.2" text-anchor="end" textLength="3.79815" lengthAdjust="spacingAndGlyphs" fill="#000" stroke="#000" stroke-width="0.1">−2</text>
<line x1="415.4" y1="75.56" x2="417.3" y2="75.56" stroke="#111" stroke-width="0.7"/>
<text x="413.9" y="77.6616" font-size="4.2" text-anchor="end" textLength="3.79815" lengthAdjust="spacingAndGlyphs" fill="#000" stroke="#000" stroke-width="0.1">−1</text>
<line x1="415.4" y1="57.44" x2="417.3" y2="57.44" stroke="#111" stroke-width="0.7"/>
<text x="413.9" y="59.5406" font-size="4.2" text-anchor="end" textLength="1.785" lengthAdjust="spacingAndGlyphs" fill="#000" stroke="#000" stroke-width="0.1">0</text>
<line x1="415.4" y1="39.32" x2="417.3" y2="39.32" stroke="#111" stroke-width="0.7"/>
<text x="413.9" y="41.4197" font-size="4.2" text-anchor="end" textLength="1.785" lengthAdjust="spacingAndGlyphs" fill="#000" stroke="#000" stroke-width="0.1">1</text>
<line x1="415.4" y1="21.20" x2="417.3" y2="21.20" stroke="#111" stroke-width="0.7"/>
<text x="413.9" y="23.2987" font-size="4.2" text-anchor="end" textLength="1.785" lengthAdjust="spacingAndGlyphs" fill="#000" stroke="#000" stroke-width="0.1">2</text>
<text x="470.8" y="12" font-size="5.4" text-anchor="middle" textLength="48" lengthAdjust="spacingAndGlyphs" fill="#000">KD_militar × Betweenness</text>
<text x="418.7" y="23.8" font-size="5" text-anchor="start" font-weight="bold" textLength="5.2" lengthAdjust="spacingAndGlyphs" fill="#000">(b)</text>
</g>
<g>
<clipPath id="cp2"><rect x="539.4" y="15.4" width="110.8" height="83.9"/></clipPath>
<g clip-path="url(#cp2)">
<circle cx="539.91" cy="82.18" r="0.8" fill="#aba9d0" fill-opacity="0.75"/>
<circle cx="539.54" cy="80.73" r="0.8" fill="#460c83" fill-opacity="0.90"/>
<circle cx="539.96" cy="76.14" r="0.8" fill="#9d99c7" fill-opacity="0.75"/>
<circle cx="540.42" cy="60.30" r="0.8" fill="#c9c9e2" fill-opacity="0.75"/>
<circle cx="540.77" cy="70.44" r="0.8" fill="#a7a4ce" fill-opacity="0.75"/>
<circle cx="539.54" cy="83.72" r="0.8" fill="#adabd2" fill-opacity="0.75"/>
<circle cx="540.05" cy="68.06" r="0.8" fill="#a4a1cc" fill-opacity="0.75"/>
<circle cx="541.29" cy="70.46" r="0.8" fill="#9793c5" fill-opacity="0.75"/>
<circle cx="540.25" cy="74.81" r="0.8" fill="#9a96c6" fill-opacity="0.75"/>
<circle cx="539.61" cy="84.01" r="0.8" fill="#613f9a" fill-opacity="0.90"/>
<circle cx="541.48" cy="77.65" r="0.8" fill="#53268f" fill-opacity="0.90"/>
<circle cx="540.23" cy="73.92" r="0.8" fill="#adabd2" fill-opacity="0.75"/>
<circle cx="540.66" cy="68.88" r="0.8" fill="#9c98c7" fill-opacity="0.75"/>
<circle cx="541.53" cy="75.41" r="0.8" fill="#c9c9e2" fill-opacity="0.75"/>
<circle cx="541.25" cy="62.51" r="0.8" fill="#a4a1cc" fill-opacity="0.75"/>
<circle cx="539.85" cy="80.34" r="0.8" fill="#aeacd2" fill-opacity="0.75"/>
<circle cx="543.39" cy="59.26" r="0.8" fill="#cecee5" fill-opacity="0.75"/>
<circle cx="546.72" cy="56.44" r="0.8" fill="#c9c9e2" fill-opacity="0.75"/>
<circle cx="543.45" cy="64.44" r="0.8" fill="#4f1d8b" fill-opacity="0.90"/>
<circle cx="541.84" cy="77.18" r="0.8" fill="#bebedd" fill-opacity="0.75"/>
<circle cx="547.24" cy="54.43" r="0.8" fill="#bebfdd" fill-opacity="0.75"/>
<circle cx="542.05" cy="70.11" r="0.8" fill="#d1d2e7" fill-opacity="0.75"/>
<circle cx="542.83" cy="71.05" r="0.8" fill="#684da1" fill-opacity="0.90"/>
<circle cx="547.15" cy="55.98" r="0.8" fill="#9591c4" fill-opacity="0.75"/>
<circle cx="547.34" cy="61.06" r="0.8" fill="#a9a7cf" fill-opacity="0.75"/>
<circle cx="545.40" cy="58.31" r="0.8" fill="#aba9d0" fill-opacity="0.75"/>
<circle cx="547.62" cy="61.67" r="0.8" fill="#c3c4e0" fill-opacity="0.75"/>
<circle cx="543.49" cy="65.28" r="0.8" fill="#b1b1d5" fill-opacity="0.75"/>
<circle cx="545.09" cy="57.94" r="0.8" fill="#d1d2e7" fill-opacity="0.75"/>
<circle cx="545.53" cy="60.47" r="0.8" fill="#cfd0e6" fill-opacity="0.75"/>
<circle cx="545.60" cy="65.63" r="0.8" fill="#a5a2cd" fill-opacity="0.75"/>
<circle cx="546.32" cy="58.48" r="0.8" fill="#674ca1" fill-opacity="0.90"/>
<circle cx="545.91" cy="57.60" r="0.8" fill="#adabd2" fill-opacity="0.75"/>
<circle cx="543.62" cy="65.37" r="0.8" fill="#bebfdd" fill-opacity="0.75"/>
<circle cx="543.93" cy="66.31" r="0.8" fill="#a09dca" fill-opacity="0.75"/>
<circle cx="541.73" cy="72.34" r="0.8" fill="#a3a0cb" fill-opacity="0.75"/>
<circle cx="543.55" cy="63.91" r="0.8" fill="#62429c" fill-opacity="0.90"/>
<circle cx="544.36" cy="56.84" r="0.8" fill="#cdcde4" fill-opacity="0.75"/>
<circle cx="543.63" cy="67.99" r="0.8" fill="#9c98c7" fill-opacity="0.75"/>
<circle cx="550.65" cy="51.85" r="0.8" fill="#a9a7cf" fill-opacity="0.75"/>
<circle cx="561.81" cy="48.68" r="0.8" fill="#53258e" fill-opacity="0.90"/>
<circle cx="550.98" cy="54.91" r="0.8" fill="#9d99c7" fill-opacity="0.75"/>
<circle cx="550.87" cy="56.27" r="0.8" fill="#9e9bc8" fill-opacity="0.75"/>
<circle cx="553.39" cy="49.33" r="0.8" fill="#c0c1de" fill-opacity="0.75"/>
<circle cx="560.39" cy="48.34" r="0.8" fill="#b8b8d9" fill-opacity="0.75"/>
<circle cx="554.39" cy="50.57" r="0.8" fill="#c9c9e2" fill-opacity="0.75"/>
<circle cx="548.08" cy="53.13" r="0.8" fill="#b7b7d9" fill-opacity="0.75"/>
<circle cx="562.83" cy="48.10" r="0.8" fill="#c4c5e0" fill-opacity="0.75"/>
<circle cx="559.63" cy="46.80" r="0.8" fill="#c0c1de" fill-opacity="0.75"/>
<circle cx="553.33" cy="56.52" r="0.8" fill="#cecfe5" fill-opacity="0.75"/>
<circle cx="557.19" cy="51.45" r="0.8" fill="#430780" fill-opacity="0.90"/>
<circle cx="558.83" cy="45.03" r="0.8" fill="#9995c6" fill-opacity="0.75"/>
<circle cx="562.04" cy="47.27" r="0.8" fill="#c8c8e2" fill-opacity="0.75"/>
<circle cx="552.68" cy="54.25" r="0.8" fill="#b1b1d5" fill-opacity="0.75"/>
<circle cx="554.46" cy="49.67" r="0.8" fill="#c2c3df" fill-opacity="0.75"/>
<circle cx="561.45" cy="48.53" r="0.8" fill="#a09dca" fill-opacity="0.75"/>
<circle cx="553.49" cy="52.49" r="0.8" fill="#c8c8e2" fill-opacity="0.75"/>
<circle cx="560.35" cy="45.34" r="0.8" fill="#9e9bc8" fill-opacity="0.75"/>
<circle cx="560.85" cy="44.44" r="0.8" fill="#cfd0e6" fill-opacity="0.75"/>
<circle cx="552.24" cy="54.27" r="0.8" fill="#b0afd4" fill-opacity="0.75"/>
<circle cx="554.60" cy="56.54" r="0.8" fill="#674ca1" fill-opacity="0.90"/>
<circle cx="549.98" cy="55.52" r="0.8" fill="#674ba0" fill-opacity="0.90"/>
<circle cx="563.21" cy="45.56" r="0.8" fill="#bebfdd" fill-opacity="0.75"/>
<circle cx="552.91" cy="54.68" r="0.8" fill="#a9a7cf" fill-opacity="0.75"/>
<circle cx="557.16" cy="51.47" r="0.8" fill="#cbcbe3" fill-opacity="0.75"/>
<circle cx="556.67" cy="49.71" r="0.8" fill="#bbbbdb" fill-opacity="0.75"/>
<circle cx="549.25" cy="55.80" r="0.8" fill="#a09dca" fill-opacity="0.75"/>
<circle cx="553.94" cy="51.04" r="0.8" fill="#aba9d0" fill-opacity="0.75"/>
<circle cx="554.74" cy="54.35" r="0.8" fill="#b8b8d9" fill-opacity="0.75"/>
<circle cx="558.83" cy="47.21" r="0.8" fill="#c3c4e0" fill-opacity="0.75"/>
<circle cx="556.36" cy="51.43" r="0.8" fill="#b7b7d9" fill-opacity="0.75"/>
<circle cx="561.73" cy="47.99" r="0.8" fill="#bbbbdb" fill-opacity="0.75"/>
<circle cx="562.01" cy="46.49" r="0.8" fill="#cbcbe3" fill-opacity="0.75"/>
<circle cx="560.69" cy="49.61" r="0.8" fill="#9995c6" fill-opacity="0.75"/>
<circle cx="560.37" cy="49.95" r="0.8" fill="#cdcde4" fill-opacity="0.75"/>
<circle cx="557.17" cy="53.78" r="0.8" fill="#63449d" fill-opacity="0.90"/>
<circle cx="560.08" cy="47.28" r="0.8" fill="#440981" fill-opacity="0.90"/>
<circle cx="550.80" cy="55.28" r="0.8" fill="#460c83" fill-opacity="0.90"/>
<circle cx="549.90" cy="54.33" r="0.8" fill="#9591c4" fill-opacity="0.75"/>
<circle cx="557.04" cy="53.49" r="0.8" fill="#d0d1e6" fill-opacity="0.75"/>
<circle cx="559.98" cy="52.05" r="0.8" fill="#4a1486" fill-opacity="0.90"/>
<circle cx="562.58" cy="46.84" r="0.8" fill="#5c3696" fill-opacity="0.90"/>
<circle cx="556.80" cy="49.95" r="0.8" fill="#c3c4e0" fill-opacity="0.75"/>
<circle cx="557.61" cy="51.66" r="0.8" fill="#babadb" fill-opacity="0.75"/>
<circle cx="553.74" cy="54.97" r="0.8" fill="#cecee5" fill-opacity="0.75"/>
<circle cx="555.81" cy="50.26" r="0.8" fill="#b8b8d9" fill-opacity="0.75"/>
<circle cx="559.66" cy="46.66" r="0.8" fill="#a7a4ce" fill-opacity="0.75"/>
<circle cx="556.07" cy="48.32" r="0.8" fill="#a9a7cf" fill-opacity="0.75"/>
<circle cx="562.00" cy="46.33" r="0.8" fill="#9793c5" fill-opacity="0.75"/>
<circle cx="556.07" cy="50.51" r="0.8" fill="#a4a1cc" fill-opacity="0.75"/>
<circle cx="550.91" cy="55.65" r="0.8" fill="#bebfdd" fill-opacity="0.75"/>
<circle cx="551.63" cy="53.35" r="0.8" fill="#9591c4" fill-opacity="0.75"/>
<circle cx="552.62" cy="54.79" r="0.8" fill="#adabd2" fill-opacity="0.75"/>
<circle cx="552.17" cy="56.80" r="0.8" fill="#d1d2e7" fill-opacity="0.75"/>
<circle cx="555.48" cy="52.90" r="0.8" fill="#bebfdd" fill-opacity="0.75"/>
<circle cx="560.08" cy="47.30" r="0.8" fill="#928fc3" fill-opacity="0.75"/>
<circle cx="555.49" cy="53.97" r="0.8" fill="#9e9ac8" fill-opacity="0.75"/>
<circle cx="556.70" cy="52.39" r="0.8" fill="#a4a1cc" fill-opacity="0.75"/>
<circle cx="561.37" cy="50.47" r="0.8" fill="#b5b5d7" fill-opacity="0.75"/>
<circle cx="551.59" cy="52.71" r="0.8" fill="#a4a1cc" fill-opacity="0.75"/>
<circle cx="558.54" cy="44.96" r="0.8" fill="#c7c8e1" fill-opacity="0.75"/>
<circle cx="552.04" cy="55.76" r="0.8" fill="#a5a2cd" fill-opacity="0.75"/>
<circle cx="561.40" cy="45.91" r="0.8" fill="#bebfdd" fill-opacity="0.75"/>
<circle cx="554.61" cy="53.60" r="0.8" fill="#cecee5" fill-opacity="0.75"/>
<circle cx="549.45" cy="55.65" r="0.8" fill="#aeacd2" fill-opacity="0.75"/>
<circle cx="558.54" cy="51.08" r="0.8" fill="#5b3495" fill-opacity="0.90"/>
<circle cx="554.81" cy="53.98" r="0.8" fill="#9591c4" fill-opacity="0.75"/>
<circle cx="570.96" cy="40.39" r="0.8" fill="#cccce4" fill-opacity="0.75"/>
<circle cx="568.78" cy="42.96" r="0.8" fill="#9894c5" fill-opacity="0.75"/>
<circle cx="565.43" cy="45.79" r="0.8" fill="#bbbbdb" fill-opacity="0.75"/>
<circle cx="578.14" cy="34.64" r="0.8" fill="#a9a7cf" fill-opacity="0.75"/>
<circle cx="578.78" cy="36.44" r="0.8" fill="#a29fcb" fill-opacity="0.75"/>
<circle cx="581.70" cy="33.81" r="0.8" fill="#54278f" fill-opacity="0.90"/>
<circle cx="570.23" cy="43.96" r="0.8" fill="#a7a4ce" fill-opacity="0.75"/>
<circle cx="574.27" cy="36.19" r="0.8" fill="#c7c8e1" fill-opacity="0.75"/>
<circle cx="580.36" cy="29.87" r="0.8" fill="#cbcbe3" fill-opacity="0.75"/>
<circle cx="581.15" cy="31.25" r="0.8" fill="#adabd2" fill-opacity="0.75"/>
<circle cx="574.05" cy="36.12" r="0.8" fill="#b5b5d7" fill-opacity="0.75"/>
<circle cx="569.49" cy="41.34" r="0.8" fill="#a29fcb" fill-opacity="0.75"/>
<circle cx="573.83" cy="37.22" r="0.8" fill="#bcbddc" fill-opacity="0.75"/>
<circle cx="568.61" cy="46.32" r="0.8" fill="#53268f" fill-opacity="0.90"/>
<circle cx="568.26" cy="39.26" r="0.8" fill="#bcbddc" fill-opacity="0.75"/>
<circle cx="569.87" cy="44.08" r="0.8" fill="#bcbddc" fill-opacity="0.75"/>
<circle cx="579.55" cy="31.95" r="0.8" fill="#5e3a98" fill-opacity="0.90"/>
<circle cx="565.48" cy="41.30" r="0.8" fill="#c7c8e1" fill-opacity="0.75"/>
<circle cx="567.17" cy="40.64" r="0.8" fill="#a29fcb" fill-opacity="0.75"/>
<circle cx="578.96" cy="34.20" r="0.8" fill="#582f93" fill-opacity="0.90"/>
<circle cx="567.25" cy="46.88" r="0.8" fill="#aeadd3" fill-opacity="0.75"/>
<circle cx="567.41" cy="43.35" r="0.8" fill="#470f84" fill-opacity="0.90"/>
<circle cx="580.38" cy="28.75" r="0.8" fill="#babadb" fill-opacity="0.75"/>
<circle cx="574.01" cy="41.07" r="0.8" fill="#a6a3cd" fill-opacity="0.75"/>
<circle cx="569.24" cy="43.77" r="0.8" fill="#b3b3d6" fill-opacity="0.75"/>
<circle cx="574.92" cy="37.19" r="0.8" fill="#a8a6cf" fill-opacity="0.75"/>
<circle cx="572.86" cy="39.08" r="0.8" fill="#b5b5d7" fill-opacity="0.75"/>
<circle cx="567.25" cy="44.16" r="0.8" fill="#a9a7cf" fill-opacity="0.75"/>
<circle cx="571.97" cy="39.81" r="0.8" fill="#9591c4" fill-opacity="0.75"/>
<circle cx="580.40" cy="30.21" r="0.8" fill="#cfd0e6" fill-opacity="0.75"/>
<circle cx="570.38" cy="37.63" r="0.8" fill="#cecee5" fill-opacity="0.75"/>
<circle cx="573.75" cy="36.11" r="0.8" fill="#a6a3cd" fill-opacity="0.75"/>
<circle cx="566.13" cy="45.20" r="0.8" fill="#acaad1" fill-opacity="0.75"/>
<circle cx="581.05" cy="33.64" r="0.8" fill="#9e9bc8" fill-opacity="0.75"/>
<circle cx="581.14" cy="36.79" r="0.8" fill="#b7b7d9" fill-opacity="0.75"/>
<circle cx="577.85" cy="36.17" r="0.8" fill="#674ba0" fill-opacity="0.90"/>
<circle cx="567.37" cy="43.26" r="0.8" fill="#b2b2d5" fill-opacity="0.75"/>
<circle cx="576.77" cy="38.32" r="0.8" fill="#bfc0de" fill-opacity="0.75"/>
<circle cx="572.35" cy="39.98" r="0.8" fill="#b9b9da" fill-opacity="0.75"/>
<circle cx="567.00" cy="40.35" r="0.8" fill="#bbbbdb" fill-opacity="0.75"/>
<circle cx="573.57" cy="40.71" r="0.8" fill="#c4c5e0" fill-opacity="0.75"/>
<circle cx="563.65" cy="44.74" r="0.8" fill="#552a90" fill-opacity="0.90"/>
<circle cx="567.28" cy="39.12" r="0.8" fill="#c8c8e2" fill-opacity="0.75"/>
<circle cx="571.20" cy="40.04" r="0.8" fill="#63439c" fill-opacity="0.90"/>
<circle cx="572.83" cy="38.41" r="0.8" fill="#694fa2" fill-opacity="0.90"/>
<circle cx="572.04" cy="42.96" r="0.8" fill="#582f93" fill-opacity="0.90"/>
<circle cx="571.07" cy="38.27" r="0.8" fill="#40027e" fill-opacity="0.90"/>
<circle cx="567.72" cy="40.72" r="0.8" fill="#aba9d0" fill-opacity="0.75"/>
<circle cx="570.12" cy="39.63" r="0.8" fill="#674ca1" fill-opacity="0.90"/>
<circle cx="577.30" cy="36.04" r="0.8" fill="#9692c4" fill-opacity="0.75"/>
<circle cx="569.26" cy="37.51" r="0.8" fill="#c1c2df" fill-opacity="0.75"/>
<circle cx="578.94" cy="35.81" r="0.8" fill="#4c1888" fill-opacity="0.90"/>
<circle cx="581.85" cy="33.94" r="0.8" fill="#d3d3e8" fill-opacity="0.75"/>
<circle cx="564.17" cy="44.22" r="0.8" fill="#674ca1" fill-opacity="0.90"/>
<circle cx="575.92" cy="35.52" r="0.8" fill="#c6c7e1" fill-opacity="0.75"/>
<circle cx="581.94" cy="36.74" r="0.8" fill="#9692c4" fill-opacity="0.75"/>
<circle cx="564.25" cy="44.82" r="0.8" fill="#acaad1" fill-opacity="0.75"/>
<circle cx="581.42" cy="30.70" r="0.8" fill="#cccce4" fill-opacity="0.75"/>
<circle cx="570.94" cy="39.44" r="0.8" fill="#a7a4ce" fill-opacity="0.75"/>
<circle cx="581.08" cy="30.82" r="0.8" fill="#9d99c7" fill-opacity="0.75"/>
<circle cx="574.02" cy="34.19" r="0.8" fill="#bcbddc" fill-opacity="0.75"/>
<circle cx="571.41" cy="39.59" r="0.8" fill="#c1c2df" fill-opacity="0.75"/>
<circle cx="566.80" cy="39.37" r="0.8" fill="#acaad1" fill-opacity="0.75"/>
<circle cx="576.98" cy="37.80" r="0.8" fill="#4b1687" fill-opacity="0.90"/>
<circle cx="564.04" cy="43.70" r="0.8" fill="#a19eca" fill-opacity="0.75"/>
<circle cx="576.35" cy="34.49" r="0.8" fill="#a9a7cf" fill-opacity="0.75"/>
<circle cx="580.14" cy="32.29" r="0.8" fill="#b6b6d8" fill-opacity="0.75"/>
<circle cx="580.49" cy="33.38" r="0.8" fill="#cecfe5" fill-opacity="0.75"/>
<circle cx="571.12" cy="42.70" r="0.8" fill="#cdcde4" fill-opacity="0.75"/>
<circle cx="574.31" cy="36.87" r="0.8" fill="#c3c4e0" fill-opacity="0.75"/>
<circle cx="564.52" cy="44.64" r="0.8" fill="#4d1b89" fill-opacity="0.90"/>
<circle cx="574.63" cy="35.57" r="0.8" fill="#c5c6e1" fill-opacity="0.75"/>
<circle cx="588.48" cy="28.66" r="0.8" fill="#a09dca" fill-opacity="0.75"/>
<circle cx="588.93" cy="27.90" r="0.8" fill="#62429c" fill-opacity="0.90"/>
<circle cx="583.28" cy="34.16" r="0.8" fill="#cccce4" fill-opacity="0.75"/>
<circle cx="582.69" cy="30.18" r="0.8" fill="#cecee5" fill-opacity="0.75"/>
<circle cx="587.43" cy="29.55" r="0.8" fill="#9d99c7" fill-opacity="0.75"/>
<circle cx="589.05" cy="31.05" r="0.8" fill="#bdbedc" fill-opacity="0.75"/>
<circle cx="588.92" cy="31.69" r="0.8" fill="#cccce4" fill-opacity="0.75"/>
<circle cx="591.42" cy="31.24" r="0.8" fill="#52238d" fill-opacity="0.90"/>
<circle cx="587.42" cy="31.63" r="0.8" fill="#cecee5" fill-opacity="0.75"/>
<circle cx="586.15" cy="30.69" r="0.8" fill="#a3a0cb" fill-opacity="0.75"/>
<circle cx="586.98" cy="29.33" r="0.8" fill="#acaad1" fill-opacity="0.75"/>
<circle cx="584.73" cy="35.09" r="0.8" fill="#b7b7d9" fill-opacity="0.75"/>
<circle cx="583.33" cy="25.07" r="0.8" fill="#c8c8e2" fill-opacity="0.75"/>
<circle cx="592.44" cy="28.03" r="0.8" fill="#acaad1" fill-opacity="0.75"/>
<circle cx="592.45" cy="32.04" r="0.8" fill="#b8b8d9" fill-opacity="0.75"/>
<circle cx="592.63" cy="22.57" r="0.8" fill="#a09dca" fill-opacity="0.75"/>
<circle cx="586.81" cy="32.77" r="0.8" fill="#9793c5" fill-opacity="0.75"/>
<circle cx="585.57" cy="28.71" r="0.8" fill="#4a1587" fill-opacity="0.90"/>
<circle cx="585.59" cy="30.67" r="0.8" fill="#aaa8d0" fill-opacity="0.75"/>
<circle cx="582.87" cy="31.66" r="0.8" fill="#bdbedc" fill-opacity="0.75"/>
<circle cx="590.41" cy="29.91" r="0.8" fill="#c0c1de" fill-opacity="0.75"/>
<circle cx="583.54" cy="31.93" r="0.8" fill="#63449d" fill-opacity="0.90"/>
<circle cx="590.63" cy="25.65" r="0.8" fill="#9390c3" fill-opacity="0.75"/>
<circle cx="592.97" cy="25.54" r="0.8" fill="#5c3797" fill-opacity="0.90"/>
<circle cx="587.41" cy="30.82" r="0.8" fill="#afaed4" fill-opacity="0.75"/>
<circle cx="586.30" cy="28.57" r="0.8" fill="#9a96c6" fill-opacity="0.75"/>
<circle cx="591.11" cy="29.31" r="0.8" fill="#c3c4e0" fill-opacity="0.75"/>
<circle cx="591.11" cy="26.54" r="0.8" fill="#b0afd4" fill-opacity="0.75"/>
<circle cx="584.21" cy="30.73" r="0.8" fill="#613f9a" fill-opacity="0.90"/>
<circle cx="590.71" cy="34.29" r="0.8" fill="#9390c3" fill-opacity="0.75"/>
<circle cx="582.81" cy="30.24" r="0.8" fill="#6950a3" fill-opacity="0.90"/>
<circle cx="587.08" cy="29.77" r="0.8" fill="#cdcde4" fill-opacity="0.75"/>
<circle cx="585.78" cy="29.33" r="0.8" fill="#9e9bc8" fill-opacity="0.75"/>
<circle cx="586.93" cy="29.48" r="0.8" fill="#aaa8d0" fill-opacity="0.75"/>
<circle cx="589.69" cy="27.60" r="0.8" fill="#9e9bc8" fill-opacity="0.75"/>
<circle cx="585.09" cy="27.73" r="0.8" fill="#b2b2d5" fill-opacity="0.75"/>
<circle cx="591.37" cy="24.71" r="0.8" fill="#c0c1de" fill-opacity="0.75"/>
<circle cx="584.24" cy="27.44" r="0.8" fill="#9894c5" fill-opacity="0.75"/>
<circle cx="587.46" cy="28.85" r="0.8" fill="#9793c5" fill-opacity="0.75"/>
<circle cx="591.19" cy="29.69" r="0.8" fill="#c8c8e2" fill-opacity="0.75"/>
<circle cx="584.40" cy="32.16" r="0.8" fill="#928fc3" fill-opacity="0.75"/>
<circle cx="588.31" cy="30.68" r="0.8" fill="#9e9bc8" fill-opacity="0.75"/>
<circle cx="587.30" cy="28.09" r="0.8" fill="#c9c9e2" fill-opacity="0.75"/>
<circle cx="585.82" cy="32.35" r="0.8" fill="#9e9ac8" fill-opacity="0.75"/>
<circle cx="592.45" cy="27.65" r="0.8" fill="#d1d2e7" fill-opacity="0.75"/>
<circle cx="588.61" cy="31.31" r="0.8" fill="#a5a2cd" fill-opacity="0.75"/>
<circle cx="592.24" cy="28.22" r="0.8" fill="#4d1a89" fill-opacity="0.90"/>
<circle cx="586.42" cy="34.62" r="0.8" fill="#a9a7cf" fill-opacity="0.75"/>
<circle cx="584.53" cy="31.09" r="0.8" fill="#c7c8e1" fill-opacity="0.75"/>
<circle cx="586.55" cy="28.64" r="0.8" fill="#9591c4" fill-opacity="0.75"/>
<circle cx="599.28" cy="25.01" r="0.8" fill="#5d3897" fill-opacity="0.90"/>
<circle cx="594.04" cy="28.29" r="0.8" fill="#61409b" fill-opacity="0.90"/>
<circle cx="593.70" cy="24.58" r="0.8" fill="#9d99c7" fill-opacity="0.75"/>
<circle cx="597.26" cy="25.77" r="0.8" fill="#cecfe5" fill-opacity="0.75"/>
<circle cx="594.91" cy="24.61" r="0.8" fill="#52238d" fill-opacity="0.90"/>
<circle cx="593.49" cy="27.90" r="0.8" fill="#c8c8e2" fill-opacity="0.75"/>
<circle cx="599.59" cy="21.90" r="0.8" fill="#cacae3" fill-opacity="0.75"/>
<circle cx="593.54" cy="27.50" r="0.8" fill="#9a96c6" fill-opacity="0.75"/>
<circle cx="593.50" cy="20.94" r="0.8" fill="#babadb" fill-opacity="0.75"/>
<circle cx="593.88" cy="26.62" r="0.8" fill="#63449d" fill-opacity="0.90"/>
<circle cx="594.01" cy="25.97" r="0.8" fill="#cecfe5" fill-opacity="0.75"/>
<circle cx="594.43" cy="20.51" r="0.8" fill="#5a3395" fill-opacity="0.90"/>
<circle cx="599.32" cy="23.57" r="0.8" fill="#bebfdd" fill-opacity="0.75"/>
<circle cx="593.32" cy="22.51" r="0.8" fill="#b5b5d7" fill-opacity="0.75"/>
<circle cx="596.66" cy="24.54" r="0.8" fill="#9d99c7" fill-opacity="0.75"/>
<circle cx="594.48" cy="21.62" r="0.8" fill="#40027e" fill-opacity="0.90"/>
<circle cx="598.61" cy="26.43" r="0.8" fill="#61409b" fill-opacity="0.90"/>
<circle cx="593.53" cy="21.68" r="0.8" fill="#6950a3" fill-opacity="0.90"/>
<circle cx="598.80" cy="21.06" r="0.8" fill="#a6a3cd" fill-opacity="0.75"/>
<circle cx="596.58" cy="23.73" r="0.8" fill="#63449d" fill-opacity="0.90"/>
<circle cx="597.06" cy="25.47" r="0.8" fill="#bbbbdb" fill-opacity="0.75"/>
<circle cx="595.24" cy="20.29" r="0.8" fill="#9b97c6" fill-opacity="0.75"/>
<circle cx="598.58" cy="25.43" r="0.8" fill="#c1c2df" fill-opacity="0.75"/>
<circle cx="593.98" cy="26.08" r="0.8" fill="#c0c1de" fill-opacity="0.75"/>
<circle cx="599.43" cy="23.82" r="0.8" fill="#b0afd4" fill-opacity="0.75"/>
<circle cx="598.83" cy="24.05" r="0.8" fill="#cecfe5" fill-opacity="0.75"/>
<circle cx="595.93" cy="21.26" r="0.8" fill="#cfd0e6" fill-opacity="0.75"/>
<circle cx="613.63" cy="32.65" r="0.8" fill="#c2c3df" fill-opacity="0.70"/>
<circle cx="616.31" cy="31.80" r="0.8" fill="#c2c3df" fill-opacity="0.70"/>
<circle cx="618.47" cy="31.37" r="0.8" fill="#c2c3df" fill-opacity="0.70"/>
<circle cx="625.46" cy="30.09" r="0.8" fill="#c2c3df" fill-opacity="0.70"/>
<circle cx="635.14" cy="25.41" r="0.8" fill="#c2c3df" fill-opacity="0.70"/>
<circle cx="646.97" cy="32.22" r="0.8" fill="#c2c3df" fill-opacity="0.70"/>
<circle cx="599.64" cy="35.42" r="0.8" fill="#c2c3df" fill-opacity="0.70"/>
<line x1="539.4" y1="57.78" x2="650.2" y2="57.78" stroke="#000" stroke-width="0.75" stroke-dasharray="1.9,0.9"/>
<path d="M539.40,80.14 L540.10,77.06 L540.79,74.18 L541.49,71.54 L542.19,69.17 L542.88,66.94 L543.58,64.88 L544.28,63.09 L544.97,61.67 L545.67,60.50 L546.37,59.49 L547.07,58.63 L547.76,57.92 L548.46,57.35 L549.16,56.85 L549.85,56.31 L550.55,55.76 L551.25,55.21 L551.94,54.66 L552.64,54.11 L553.34,53.55 L554.03,53.00 L554.73,52.45 L555.43,51.88 L556.12,51.32 L556.82,50.76 L557.52,50.20 L558.22,49.65 L558.91,49.12 L559.61,48.61 L560.31,48.11 L561.00,47.63 L561.70,47.16 L562.40,46.70 L563.09,46.24 L563.79,45.79 L564.49,45.33 L565.18,44.87 L565.88,44.41 L566.58,43.93 L567.27,43.45 L567.97,42.94 L568.67,42.42 L569.36,41.87 L570.06,41.30 L570.76,40.72 L571.46,40.12 L572.15,39.52 L572.85,38.92 L573.55,38.32 L574.24,37.73 L574.94,37.15 L575.64,36.59 L576.33,36.04 L577.03,35.52 L577.73,35.03 L578.42,34.55 L579.12,34.06 L579.82,33.59 L580.51,33.11 L581.21,32.65 L581.91,32.20 L582.61,31.76 L583.30,31.33 L584.00,30.93 L584.70,30.54 L585.39,30.17 L586.09,29.82 L586.79,29.50 L587.48,29.20 L588.18,28.91 L588.88,28.62 L589.57,28.35 L590.27,28.08 L590.97,27.83 L591.66,27.58 L592.36,27.35 L593.06,27.13 L593.75,26.92 L594.45,26.72 L595.15,26.54 L595.85,26.37 L596.54,26.21 L597.24,26.05 L597.94,25.89 L598.63,25.73 L599.33,25.57 L600.03,25.43 L600.72,25.30 L601.42,25.19 L602.12,25.09 L602.81,25.03 L603.51,24.99 L604.21,24.98 L604.90,24.98 L605.60,24.99 L606.30,25.00 L606.99,25.00 L607.69,25.02 L608.39,25.03 L609.09,25.04 L609.78,25.06 L610.48,25.08 L611.18,25.10 L611.87,25.12 L612.57,25.14 L613.27,25.16 L613.96,25.18 L614.66,25.21 L615.36,25.23 L616.05,25.26 L616.75,25.28 L617.45,25.31 L618.14,25.33 L618.84,25.36 L619.54,25.39 L620.24,25.41 L620.93,25.44 L621.63,25.47 L622.33,25.51 L623.02,25.55 L623.72,25.59 L624.42,25.63 L625.11,25.67 L625.81,25.72 L626.51,25.77 L627.20,25.82 L627.90,25.87 L628.60,25.92 L629.29,25.97 L629.99,26.02 L630.69,26.07 L631.38,26.13 L632.08,26.18 L632.78,26.23 L633.48,26.28 L634.17,26.33 L634.87,26.38 L635.57,26.43 L636.26,26.48 L636.96,26.52 L637.66,26.57 L638.35,26.61 L639.05,26.66 L639.75,26.71 L640.44,26.75 L641.14,26.80 L641.84,26.84 L642.53,26.89 L643.23,26.94 L643.93,26.98 L644.63,27.03 L645.32,27.07 L646.02,27.12 L646.72,27.17 L647.41,27.21 L648.11,27.26 L648.81,27.30 L649.50,27.35 L650.20,27.40" fill="none" stroke="#8034e8" stroke-width="1.3" stroke-linejoin="round"/>
</g>
<rect x="539.4" y="15.4" width="110.8" height="83.9" fill="none" stroke="#111" stroke-width="0.9"/>
<line x1="539.40" y1="99.3" x2="539.40" y2="97.5" stroke="#111" stroke-width="0.7"/>
<text x="539.4" y="105" font-size="4.2" text-anchor="middle" textLength="6.615" lengthAdjust="spacingAndGlyphs" fill="#000" stroke="#000" stroke-width="0.1">0.00</text>
<line x1="552.85" y1="99.3" x2="552.85" y2="97.5" stroke="#111" stroke-width="0.7"/>
<text x="552.847" y="105" font-size="4.2" text-anchor="middle" textLength="6.615" lengthAdjust="spacingAndGlyphs" fill="#000" stroke="#000" stroke-width="0.1">0.25</text>
<line x1="566.29" y1="99.3" x2="566.29" y2="97.5" stroke="#111" stroke-width="0.7"/>
<text x="566.293" y="105" font-size="4.2" text-anchor="middle" textLength="6.615" lengthAdjust="spacingAndGlyphs" fill="#000" stroke="#000" stroke-width="0.1">0.50</text>
<line x1="579.74" y1="99.3" x2="579.74" y2="97.5" stroke="#111" stroke-width="0.7"/>
<text x="579.74" y="105" font-size="4.2" text-anchor="middle" textLength="6.615" lengthAdjust="spacingAndGlyphs" fill="#000" stroke="#000" stroke-width="0.1">0.75</text>
<line x1="593.19" y1="99.3" x2="593.19" y2="97.5" stroke="#111" stroke-width="0.7"/>
<text x="593.186" y="105" font-size="4.2" text-anchor="middle" textLength="6.615" lengthAdjust="spacingAndGlyphs" fill="#000" stroke="#000" stroke-width="0.1">1.00</text>
<line x1="606.63" y1="99.3" x2="606.63" y2="97.5" stroke="#111" stroke-width="0.7"/>
<text x="606.633" y="105" font-size="4.2" text-anchor="middle" textLength="6.615" lengthAdjust="spacingAndGlyphs" fill="#000" stroke="#000" stroke-width="0.1">1.25</text>
<line x1="620.08" y1="99.3" x2="620.08" y2="97.5" stroke="#111" stroke-width="0.7"/>
<text x="620.08" y="105" font-size="4.2" text-anchor="middle" textLength="6.615" lengthAdjust="spacingAndGlyphs" fill="#000" stroke="#000" stroke-width="0.1">1.50</text>
<line x1="633.53" y1="99.3" x2="633.53" y2="97.5" stroke="#111" stroke-width="0.7"/>
<text x="633.526" y="105" font-size="4.2" text-anchor="middle" textLength="6.615" lengthAdjust="spacingAndGlyphs" fill="#000" stroke="#000" stroke-width="0.1">1.75</text>
<line x1="646.97" y1="99.3" x2="646.97" y2="97.5" stroke="#111" stroke-width="0.7"/>
<text x="646.973" y="105" font-size="4.2" text-anchor="middle" textLength="6.615" lengthAdjust="spacingAndGlyphs" fill="#000" stroke="#000" stroke-width="0.1">2.00</text>
<line x1="539.4" y1="89.72" x2="541.3" y2="89.72" stroke="#111" stroke-width="0.7"/>
<text x="537.9" y="91.8175" font-size="4.2" text-anchor="end" textLength="6.47565" lengthAdjust="spacingAndGlyphs" fill="#000" stroke="#000" stroke-width="0.1">−1.5</text>
<line x1="539.4" y1="79.07" x2="541.3" y2="79.07" stroke="#111" stroke-width="0.7"/>
<text x="537.9" y="81.1703" font-size="4.2" text-anchor="end" textLength="6.47565" lengthAdjust="spacingAndGlyphs" fill="#000" stroke="#000" stroke-width="0.1">−1.0</text>
<line x1="539.4" y1="68.42" x2="541.3" y2="68.42" stroke="#111" stroke-width="0.7"/>
<text x="537.9" y="70.5231" font-size="4.2" text-anchor="end" textLength="6.47565" lengthAdjust="spacingAndGlyphs" fill="#000" stroke="#000" stroke-width="0.1">−0.5</text>
<line x1="539.4" y1="57.78" x2="541.3" y2="57.78" stroke="#111" stroke-width="0.7"/>
<text x="537.9" y="59.8759" font-size="4.2" text-anchor="end" textLength="4.4625" lengthAdjust="spacingAndGlyphs" fill="#000" stroke="#000" stroke-width="0.1">0.0</text>
<line x1="539.4" y1="47.13" x2="541.3" y2="47.13" stroke="#111" stroke-width="0.7"/>
<text x="537.9" y="49.2287" font-size="4.2" text-anchor="end" textLength="4.4625" lengthAdjust="spacingAndGlyphs" fill="#000" stroke="#000" stroke-width="0.1">0.5</text>
<line x1="539.4" y1="36.48" x2="541.3" y2="36.48" stroke="#111" stroke-width="0.7"/>
<text x="537.9" y="38.5815" font-size="4.2" text-anchor="end" textLength="4.4625" lengthAdjust="spacingAndGlyphs" fill="#000" stroke="#000" stroke-width="0.1">1.0</text>
<line x1="539.4" y1="25.83" x2="541.3" y2="25.83" stroke="#111" stroke-width="0.7"/>
<text x="537.9" y="27.9343" font-size="4.2" text-anchor="end" textLength="4.4625" lengthAdjust="spacingAndGlyphs" fill="#000" stroke="#000" stroke-width="0.1">1.5</text>
<text x="594.8" y="12" font-size="5.4" text-anchor="middle" textLength="45.2" lengthAdjust="spacingAndGlyphs" fill="#000">Intvis_den × KD_militar</text>
<text x="542.7" y="23.8" font-size="5" text-anchor="start" font-weight="bold" textLength="5.2" lengthAdjust="spacingAndGlyphs" fill="#000">(c)</text>
</g>
<g>
<clipPath id="cp3"><rect x="291.5" y="118.9" width="110.8" height="83.4"/></clipPath>
<g clip-path="url(#cp3)">
<circle cx="292.01" cy="175.24" r="0.8" fill="#674ba0" fill-opacity="0.90"/>
<circle cx="292.36" cy="174.59" r="0.8" fill="#9e9bc8" fill-opacity="0.75"/>
<circle cx="293.15" cy="173.27" r="0.8" fill="#c8c8e2" fill-opacity="0.75"/>
<circle cx="291.73" cy="174.53" r="0.8" fill="#42057f" fill-opacity="0.90"/>
<circle cx="293.28" cy="170.83" r="0.8" fill="#5c3797" fill-opacity="0.90"/>
<circle cx="292.85" cy="183.43" r="0.8" fill="#9c98c7" fill-opacity="0.75"/>
<circle cx="293.39" cy="167.87" r="0.8" fill="#b2b2d5" fill-opacity="0.75"/>
<circle cx="291.88" cy="176.25" r="0.8" fill="#cecee5" fill-opacity="0.75"/>
<circle cx="293.51" cy="169.02" r="0.8" fill="#9894c5" fill-opacity="0.75"/>
<circle cx="292.73" cy="180.40" r="0.8" fill="#9c98c7" fill-opacity="0.75"/>
<circle cx="292.59" cy="181.99" r="0.8" fill="#c9c9e2" fill-opacity="0.75"/>
<circle cx="292.16" cy="175.07" r="0.8" fill="#d0d1e6" fill-opacity="0.75"/>
<circle cx="291.60" cy="183.62" r="0.8" fill="#b4b4d7" fill-opacity="0.75"/>
<circle cx="292.24" cy="180.76" r="0.8" fill="#c6c7e1" fill-opacity="0.75"/>
<circle cx="296.32" cy="164.41" r="0.8" fill="#bcbddc" fill-opacity="0.75"/>
<circle cx="298.47" cy="157.58" r="0.8" fill="#aeadd3" fill-opacity="0.75"/>
<circle cx="299.49" cy="160.01" r="0.8" fill="#a19eca" fill-opacity="0.75"/>
<circle cx="297.62" cy="162.81" r="0.8" fill="#bebedd" fill-opacity="0.75"/>
<circle cx="294.80" cy="170.18" r="0.8" fill="#9995c6" fill-opacity="0.75"/>
<circle cx="299.81" cy="160.43" r="0.8" fill="#9490c3" fill-opacity="0.75"/>
<circle cx="293.77" cy="174.30" r="0.8" fill="#b8b8d9" fill-opacity="0.75"/>
<circle cx="299.74" cy="152.06" r="0.8" fill="#9e9ac8" fill-opacity="0.75"/>
<circle cx="295.55" cy="166.08" r="0.8" fill="#593093" fill-opacity="0.90"/>
<circle cx="299.86" cy="157.16" r="0.8" fill="#d2d2e7" fill-opacity="0.75"/>
<circle cx="293.94" cy="168.65" r="0.8" fill="#c0c1de" fill-opacity="0.75"/>
<circle cx="294.28" cy="165.30" r="0.8" fill="#b8b8d9" fill-opacity="0.75"/>
<circle cx="294.99" cy="167.63" r="0.8" fill="#4c1888" fill-opacity="0.90"/>
<circle cx="294.62" cy="169.24" r="0.8" fill="#54278f" fill-opacity="0.90"/>
<circle cx="295.26" cy="166.31" r="0.8" fill="#a09dca" fill-opacity="0.75"/>
<circle cx="296.29" cy="165.91" r="0.8" fill="#b4b4d7" fill-opacity="0.75"/>
<circle cx="295.21" cy="168.98" r="0.8" fill="#c3c4e0" fill-opacity="0.75"/>
<circle cx="299.39" cy="160.60" r="0.8" fill="#b2b2d5" fill-opacity="0.75"/>
<circle cx="293.86" cy="171.91" r="0.8" fill="#c4c5e0" fill-opacity="0.75"/>
<circle cx="299.26" cy="158.68" r="0.8" fill="#674ca1" fill-opacity="0.90"/>
<circle cx="299.64" cy="170.51" r="0.8" fill="#9995c6" fill-opacity="0.75"/>
<circle cx="310.31" cy="156.02" r="0.8" fill="#a29fcb" fill-opacity="0.75"/>
<circle cx="307.82" cy="153.54" r="0.8" fill="#9995c6" fill-opacity="0.75"/>
<circle cx="314.53" cy="149.36" r="0.8" fill="#a8a6cf" fill-opacity="0.75"/>
<circle cx="312.58" cy="154.28" r="0.8" fill="#a9a7cf" fill-opacity="0.75"/>
<circle cx="310.81" cy="156.17" r="0.8" fill="#9793c5" fill-opacity="0.75"/>
<circle cx="315.02" cy="144.30" r="0.8" fill="#a8a6cf" fill-opacity="0.75"/>
<circle cx="300.80" cy="157.08" r="0.8" fill="#cbcbe3" fill-opacity="0.75"/>
<circle cx="315.21" cy="150.22" r="0.8" fill="#aaa8d0" fill-opacity="0.75"/>
<circle cx="308.98" cy="154.79" r="0.8" fill="#9793c5" fill-opacity="0.75"/>
<circle cx="303.51" cy="152.60" r="0.8" fill="#440981" fill-opacity="0.90"/>
<circle cx="301.91" cy="159.00" r="0.8" fill="#a09dca" fill-opacity="0.75"/>
<circle cx="313.80" cy="155.37" r="0.8" fill="#a7a4ce" fill-opacity="0.75"/>
<circle cx="305.26" cy="158.24" r="0.8" fill="#a09dca" fill-opacity="0.75"/>
<circle cx="307.46" cy="155.70" r="0.8" fill="#4f1f8b" fill-opacity="0.90"/>
<circle cx="307.73" cy="155.05" r="0.8" fill="#acaad1" fill-opacity="0.75"/>
<circle cx="302.27" cy="161.48" r="0.8" fill="#d2d2e7" fill-opacity="0.75"/>
<circle cx="313.17" cy="148.08" r="0.8" fill="#cecee5" fill-opacity="0.75"/>
<circle cx="308.58" cy="157.41" r="0.8" fill="#c4c5e0" fill-opacity="0.75"/>
<circle cx="307.70" cy="152.15" r="0.8" fill="#cdcde4" fill-opacity="0.75"/>
<circle cx="301.89" cy="162.70" r="0.8" fill="#b7b7d9" fill-opacity="0.75"/>
<circle cx="313.49" cy="154.35" r="0.8" fill="#cecfe5" fill-opacity="0.75"/>
<circle cx="313.85" cy="150.03" r="0.8" fill="#b8b8d9" fill-opacity="0.75"/>
<circle cx="312.56" cy="149.67" r="0.8" fill="#9a96c6" fill-opacity="0.75"/>
<circle cx="302.86" cy="156.79" r="0.8" fill="#afaed4" fill-opacity="0.75"/>
<circle cx="314.21" cy="148.24" r="0.8" fill="#d2d2e7" fill-opacity="0.75"/>
<circle cx="304.97" cy="159.56" r="0.8" fill="#b3b3d6" fill-opacity="0.75"/>
<circle cx="301.29" cy="160.34" r="0.8" fill="#9c98c7" fill-opacity="0.75"/>
<circle cx="305.67" cy="155.71" r="0.8" fill="#a7a4ce" fill-opacity="0.75"/>
<circle cx="309.61" cy="160.50" r="0.8" fill="#9894c5" fill-opacity="0.75"/>
<circle cx="307.39" cy="153.49" r="0.8" fill="#9f9cc9" fill-opacity="0.75"/>
<circle cx="309.67" cy="154.65" r="0.8" fill="#cacae3" fill-opacity="0.75"/>
<circle cx="312.13" cy="154.12" r="0.8" fill="#cecee5" fill-opacity="0.75"/>
<circle cx="302.35" cy="156.13" r="0.8" fill="#c8c8e2" fill-opacity="0.75"/>
<circle cx="314.17" cy="152.65" r="0.8" fill="#aba9d0" fill-opacity="0.75"/>
<circle cx="301.56" cy="157.13" r="0.8" fill="#9692c4" fill-opacity="0.75"/>
<circle cx="302.91" cy="159.58" r="0.8" fill="#d1d2e7" fill-opacity="0.75"/>
<circle cx="300.42" cy="161.93" r="0.8" fill="#9d99c7" fill-opacity="0.75"/>
<circle cx="312.60" cy="149.47" r="0.8" fill="#adabd2" fill-opacity="0.75"/>
<circle cx="307.83" cy="160.38" r="0.8" fill="#9692c4" fill-opacity="0.75"/>
<circle cx="311.96" cy="150.81" r="0.8" fill="#a7a4ce" fill-opacity="0.75"/>
<circle cx="311.73" cy="152.36" r="0.8" fill="#9d99c7" fill-opacity="0.75"/>
<circle cx="304.83" cy="154.85" r="0.8" fill="#9995c6" fill-opacity="0.75"/>
<circle cx="311.08" cy="153.64" r="0.8" fill="#c4c5e0" fill-opacity="0.75"/>
<circle cx="305.20" cy="162.33" r="0.8" fill="#b9b9da" fill-opacity="0.75"/>
<circle cx="306.36" cy="161.64" r="0.8" fill="#c0c1de" fill-opacity="0.75"/>
<circle cx="306.53" cy="154.32" r="0.8" fill="#a6a3cd" fill-opacity="0.75"/>
<circle cx="309.69" cy="153.44" r="0.8" fill="#9591c4" fill-opacity="0.75"/>
<circle cx="309.83" cy="152.97" r="0.8" fill="#9390c3" fill-opacity="0.75"/>
<circle cx="314.46" cy="149.57" r="0.8" fill="#bebfdd" fill-opacity="0.75"/>
<circle cx="301.53" cy="159.48" r="0.8" fill="#9995c6" fill-opacity="0.75"/>
<circle cx="312.24" cy="150.11" r="0.8" fill="#c3c4e0" fill-opacity="0.75"/>
<circle cx="304.77" cy="155.73" r="0.8" fill="#a7a4ce" fill-opacity="0.75"/>
<circle cx="308.64" cy="154.77" r="0.8" fill="#c2c3df" fill-opacity="0.75"/>
<circle cx="308.28" cy="153.98" r="0.8" fill="#5c3696" fill-opacity="0.90"/>
<circle cx="302.01" cy="158.15" r="0.8" fill="#3f007d" fill-opacity="0.90"/>
<circle cx="304.61" cy="154.33" r="0.8" fill="#a9a7cf" fill-opacity="0.75"/>
<circle cx="314.96" cy="152.32" r="0.8" fill="#a4a1cc" fill-opacity="0.75"/>
<circle cx="308.84" cy="155.48" r="0.8" fill="#b2b2d5" fill-opacity="0.75"/>
<circle cx="302.51" cy="162.24" r="0.8" fill="#b3b3d6" fill-opacity="0.75"/>
<circle cx="301.16" cy="157.28" r="0.8" fill="#babadb" fill-opacity="0.75"/>
<circle cx="328.55" cy="133.89" r="0.8" fill="#bebedd" fill-opacity="0.75"/>
<circle cx="322.99" cy="144.31" r="0.8" fill="#d2d2e7" fill-opacity="0.75"/>
<circle cx="333.78" cy="134.32" r="0.8" fill="#c9c9e2" fill-opacity="0.75"/>
<circle cx="331.68" cy="135.25" r="0.8" fill="#b4b4d7" fill-opacity="0.75"/>
<circle cx="329.23" cy="139.60" r="0.8" fill="#9e9ac8" fill-opacity="0.75"/>
<circle cx="334.46" cy="135.73" r="0.8" fill="#bbbbdb" fill-opacity="0.75"/>
<circle cx="331.66" cy="141.72" r="0.8" fill="#adabd2" fill-opacity="0.75"/>
<circle cx="317.72" cy="152.26" r="0.8" fill="#a9a7cf" fill-opacity="0.75"/>
<circle cx="332.59" cy="139.31" r="0.8" fill="#d0d1e6" fill-opacity="0.75"/>
<circle cx="327.60" cy="139.49" r="0.8" fill="#bfc0de" fill-opacity="0.75"/>
<circle cx="332.56" cy="130.35" r="0.8" fill="#bdbedc" fill-opacity="0.75"/>
<circle cx="331.41" cy="132.04" r="0.8" fill="#a8a6cf" fill-opacity="0.75"/>
<circle cx="328.86" cy="141.66" r="0.8" fill="#b0afd4" fill-opacity="0.75"/>
<circle cx="334.29" cy="134.91" r="0.8" fill="#b2b2d5" fill-opacity="0.75"/>
<circle cx="325.98" cy="139.99" r="0.8" fill="#c3c4e0" fill-opacity="0.75"/>
<circle cx="319.48" cy="142.73" r="0.8" fill="#a6a3cd" fill-opacity="0.75"/>
<circle cx="317.90" cy="146.01" r="0.8" fill="#9e9ac8" fill-opacity="0.75"/>
<circle cx="325.29" cy="136.52" r="0.8" fill="#aba9d0" fill-opacity="0.75"/>
<circle cx="316.05" cy="149.22" r="0.8" fill="#d0d1e6" fill-opacity="0.75"/>
<circle cx="324.70" cy="140.59" r="0.8" fill="#a29fcb" fill-opacity="0.75"/>
<circle cx="331.06" cy="134.61" r="0.8" fill="#babadb" fill-opacity="0.75"/>
<circle cx="327.09" cy="137.17" r="0.8" fill="#a29fcb" fill-opacity="0.75"/>
<circle cx="331.95" cy="135.33" r="0.8" fill="#a6a3cd" fill-opacity="0.75"/>
<circle cx="330.55" cy="137.70" r="0.8" fill="#d2d2e7" fill-opacity="0.75"/>
<circle cx="332.40" cy="138.23" r="0.8" fill="#c1c2df" fill-opacity="0.75"/>
<circle cx="329.93" cy="140.42" r="0.8" fill="#bebfdd" fill-opacity="0.75"/>
<circle cx="327.38" cy="137.50" r="0.8" fill="#b1b1d5" fill-opacity="0.75"/>
<circle cx="316.27" cy="149.27" r="0.8" fill="#cbcbe3" fill-opacity="0.75"/>
<circle cx="329.98" cy="135.23" r="0.8" fill="#3f007d" fill-opacity="0.90"/>
<circle cx="318.83" cy="145.80" r="0.8" fill="#a8a6cf" fill-opacity="0.75"/>
<circle cx="332.47" cy="134.55" r="0.8" fill="#cccce4" fill-opacity="0.75"/>
<circle cx="322.11" cy="152.16" r="0.8" fill="#c3c4e0" fill-opacity="0.75"/>
<circle cx="331.58" cy="134.00" r="0.8" fill="#9490c3" fill-opacity="0.75"/>
<circle cx="321.29" cy="148.80" r="0.8" fill="#cecfe5" fill-opacity="0.75"/>
<circle cx="331.64" cy="137.67" r="0.8" fill="#a4a1cc" fill-opacity="0.75"/>
<circle cx="316.22" cy="148.96" r="0.8" fill="#d0d1e6" fill-opacity="0.75"/>
<circle cx="321.81" cy="146.49" r="0.8" fill="#9390c3" fill-opacity="0.75"/>
<circle cx="327.13" cy="144.91" r="0.8" fill="#c5c6e1" fill-opacity="0.75"/>
<circle cx="333.70" cy="128.75" r="0.8" fill="#a7a4ce" fill-opacity="0.75"/>
<circle cx="334.13" cy="129.14" r="0.8" fill="#a8a6cf" fill-opacity="0.75"/>
<circle cx="331.58" cy="134.19" r="0.8" fill="#61409b" fill-opacity="0.90"/>
<circle cx="318.30" cy="150.90" r="0.8" fill="#bcbddc" fill-opacity="0.75"/>
<circle cx="329.70" cy="137.12" r="0.8" fill="#a19eca" fill-opacity="0.75"/>
<circle cx="316.42" cy="147.95" r="0.8" fill="#aeacd2" fill-opacity="0.75"/>
<circle cx="319.37" cy="145.40" r="0.8" fill="#bdbedc" fill-opacity="0.75"/>
<circle cx="322.55" cy="145.80" r="0.8" fill="#bdbedc" fill-opacity="0.75"/>
<circle cx="334.18" cy="140.34" r="0.8" fill="#d1d2e7" fill-opacity="0.75"/>
<circle cx="319.30" cy="145.02" r="0.8" fill="#b2b2d5" fill-opacity="0.75"/>
<circle cx="316.48" cy="152.68" r="0.8" fill="#a4a1cc" fill-opacity="0.75"/>
<circle cx="323.10" cy="142.05" r="0.8" fill="#bcbddc" fill-opacity="0.75"/>
<circle cx="324.11" cy="140.74" r="0.8" fill="#d1d2e7" fill-opacity="0.75"/>
<circle cx="330.46" cy="137.29" r="0.8" fill="#bfc0de" fill-opacity="0.75"/>
<circle cx="326.21" cy="143.28" r="0.8" fill="#b4b4d7" fill-opacity="0.75"/>
<circle cx="334.03" cy="136.05" r="0.8" fill="#acaad1" fill-opacity="0.75"/>
<circle cx="326.98" cy="140.15" r="0.8" fill="#d1d2e7" fill-opacity="0.75"/>
<circle cx="323.93" cy="142.41" r="0.8" fill="#62429c" fill-opacity="0.90"/>
<circle cx="321.08" cy="146.86" r="0.8" fill="#bebfdd" fill-opacity="0.75"/>
<circle cx="327.65" cy="138.12" r="0.8" fill="#afaed4" fill-opacity="0.75"/>
<circle cx="333.75" cy="132.54" r="0.8" fill="#c2c3df" fill-opacity="0.75"/>
<circle cx="322.01" cy="147.83" r="0.8" fill="#9b97c6" fill-opacity="0.75"/>
<circle cx="319.41" cy="147.61" r="0.8" fill="#cccce4" fill-opacity="0.75"/>
<circle cx="332.33" cy="141.95" r="0.8" fill="#a5a2cd" fill-opacity="0.75"/>
<circle cx="326.94" cy="144.25" r="0.8" fill="#460d83" fill-opacity="0.90"/>
<circle cx="332.16" cy="130.35" r="0.8" fill="#acaad1" fill-opacity="0.75"/>
<circle cx="340.38" cy="128.26" r="0.8" fill="#cfd0e6" fill-opacity="0.75"/>
<circle cx="339.64" cy="130.24" r="0.8" fill="#c0c1de" fill-opacity="0.75"/>
<circle cx="341.96" cy="131.55" r="0.8" fill="#9995c6" fill-opacity="0.75"/>
<circle cx="337.63" cy="132.43" r="0.8" fill="#9c98c7" fill-opacity="0.75"/>
<circle cx="343.62" cy="129.61" r="0.8" fill="#572c92" fill-opacity="0.90"/>
<circle cx="335.39" cy="138.22" r="0.8" fill="#9c98c7" fill-opacity="0.75"/>
<circle cx="344.81" cy="126.89" r="0.8" fill="#c6c7e1" fill-opacity="0.75"/>
<circle cx="344.41" cy="121.82" r="0.8" fill="#6950a3" fill-opacity="0.90"/>
<circle cx="337.66" cy="136.26" r="0.8" fill="#b8b8d9" fill-opacity="0.75"/>
<circle cx="335.52" cy="135.71" r="0.8" fill="#b2b2d5" fill-opacity="0.75"/>
<circle cx="340.44" cy="133.70" r="0.8" fill="#cecfe5" fill-opacity="0.75"/>
<circle cx="339.22" cy="130.78" r="0.8" fill="#bebedd" fill-opacity="0.75"/>
<circle cx="338.18" cy="131.16" r="0.8" fill="#adabd2" fill-opacity="0.75"/>
<circle cx="335.80" cy="133.88" r="0.8" fill="#c9c9e2" fill-opacity="0.75"/>
<circle cx="342.79" cy="130.71" r="0.8" fill="#b7b7d9" fill-opacity="0.75"/>
<circle cx="337.80" cy="134.72" r="0.8" fill="#b0afd4" fill-opacity="0.75"/>
<circle cx="337.19" cy="129.42" r="0.8" fill="#c8c8e2" fill-opacity="0.75"/>
<circle cx="339.72" cy="133.02" r="0.8" fill="#aeacd2" fill-opacity="0.75"/>
<circle cx="336.61" cy="135.25" r="0.8" fill="#a7a4ce" fill-opacity="0.75"/>
<circle cx="342.33" cy="127.69" r="0.8" fill="#bfc0de" fill-opacity="0.75"/>
<circle cx="337.93" cy="132.85" r="0.8" fill="#bebfdd" fill-opacity="0.75"/>
<circle cx="336.78" cy="134.70" r="0.8" fill="#a8a6cf" fill-opacity="0.75"/>
<circle cx="337.92" cy="131.93" r="0.8" fill="#9f9cc9" fill-opacity="0.75"/>
<circle cx="338.06" cy="131.31" r="0.8" fill="#3f007d" fill-opacity="0.90"/>
<circle cx="334.88" cy="135.16" r="0.8" fill="#440a82" fill-opacity="0.90"/>
<circle cx="334.56" cy="135.79" r="0.8" fill="#c3c4e0" fill-opacity="0.75"/>
<circle cx="344.93" cy="131.75" r="0.8" fill="#c3c4e0" fill-opacity="0.75"/>
<circle cx="339.28" cy="131.71" r="0.8" fill="#481084" fill-opacity="0.90"/>
<circle cx="335.56" cy="135.41" r="0.8" fill="#6950a3" fill-opacity="0.90"/>
<circle cx="345.22" cy="132.71" r="0.8" fill="#9390c3" fill-opacity="0.75"/>
<circle cx="338.22" cy="130.42" r="0.8" fill="#a7a4ce" fill-opacity="0.75"/>
<circle cx="334.54" cy="136.73" r="0.8" fill="#b3b3d6" fill-opacity="0.75"/>
<circle cx="344.61" cy="126.33" r="0.8" fill="#a3a0cb" fill-opacity="0.75"/>
<circle cx="338.75" cy="129.72" r="0.8" fill="#d1d2e7" fill-opacity="0.75"/>
<circle cx="337.61" cy="131.08" r="0.8" fill="#552a90" fill-opacity="0.90"/>
<circle cx="342.47" cy="129.89" r="0.8" fill="#a8a6cf" fill-opacity="0.75"/>
<circle cx="344.09" cy="134.44" r="0.8" fill="#9894c5" fill-opacity="0.75"/>
<circle cx="335.64" cy="129.11" r="0.8" fill="#9d99c7" fill-opacity="0.75"/>
<circle cx="342.18" cy="132.59" r="0.8" fill="#a4a1cc" fill-opacity="0.75"/>
<circle cx="343.98" cy="132.51" r="0.8" fill="#c0c1de" fill-opacity="0.75"/>
<circle cx="338.14" cy="133.54" r="0.8" fill="#440981" fill-opacity="0.90"/>
<circle cx="341.30" cy="131.43" r="0.8" fill="#b4b4d7" fill-opacity="0.75"/>
<circle cx="343.96" cy="131.12" r="0.8" fill="#b8b8d9" fill-opacity="0.75"/>
<circle cx="339.02" cy="130.92" r="0.8" fill="#d2d2e7" fill-opacity="0.75"/>
<circle cx="349.80" cy="123.72" r="0.8" fill="#a3a0cb" fill-opacity="0.75"/>
<circle cx="347.10" cy="128.51" r="0.8" fill="#aeadd3" fill-opacity="0.75"/>
<circle cx="349.55" cy="121.94" r="0.8" fill="#9f9cc9" fill-opacity="0.75"/>
<circle cx="351.55" cy="127.04" r="0.8" fill="#a29fcb" fill-opacity="0.75"/>
<circle cx="350.36" cy="122.46" r="0.8" fill="#a8a6cf" fill-opacity="0.75"/>
<circle cx="346.93" cy="125.26" r="0.8" fill="#694fa2" fill-opacity="0.90"/>
<circle cx="351.45" cy="122.55" r="0.8" fill="#684da1" fill-opacity="0.90"/>
<circle cx="350.57" cy="123.14" r="0.8" fill="#aeacd2" fill-opacity="0.75"/>
<circle cx="347.05" cy="130.32" r="0.8" fill="#562b91" fill-opacity="0.90"/>
<circle cx="349.94" cy="123.40" r="0.8" fill="#4f1d8b" fill-opacity="0.90"/>
<circle cx="346.41" cy="130.92" r="0.8" fill="#481084" fill-opacity="0.90"/>
<circle cx="346.70" cy="127.89" r="0.8" fill="#aeacd2" fill-opacity="0.75"/>
<circle cx="349.85" cy="122.41" r="0.8" fill="#aaa8d0" fill-opacity="0.75"/>
<circle cx="346.05" cy="123.63" r="0.8" fill="#a5a2cd" fill-opacity="0.75"/>
<circle cx="350.95" cy="126.81" r="0.8" fill="#5f3c99" fill-opacity="0.90"/>
<circle cx="348.45" cy="123.20" r="0.8" fill="#9b97c6" fill-opacity="0.75"/>
<circle cx="350.74" cy="123.90" r="0.8" fill="#a5a2cd" fill-opacity="0.75"/>
<circle cx="348.05" cy="129.67" r="0.8" fill="#63439c" fill-opacity="0.90"/>
<circle cx="348.23" cy="123.12" r="0.8" fill="#9c98c7" fill-opacity="0.75"/>
<circle cx="347.65" cy="125.16" r="0.8" fill="#6950a3" fill-opacity="0.90"/>
<circle cx="347.86" cy="125.78" r="0.8" fill="#c0c1de" fill-opacity="0.75"/>
<circle cx="351.27" cy="123.37" r="0.8" fill="#9490c3" fill-opacity="0.75"/>
<circle cx="349.75" cy="126.95" r="0.8" fill="#a9a7cf" fill-opacity="0.75"/>
<circle cx="349.24" cy="125.74" r="0.8" fill="#5c3797" fill-opacity="0.90"/>
<circle cx="365.73" cy="135.06" r="0.8" fill="#c2c3df" fill-opacity="0.70"/>
<circle cx="368.41" cy="134.20" r="0.8" fill="#c2c3df" fill-opacity="0.70"/>
<circle cx="370.57" cy="133.77" r="0.8" fill="#c2c3df" fill-opacity="0.70"/>
<circle cx="377.56" cy="132.48" r="0.8" fill="#c2c3df" fill-opacity="0.70"/>
<circle cx="387.24" cy="127.74" r="0.8" fill="#c2c3df" fill-opacity="0.70"/>
<circle cx="399.07" cy="134.63" r="0.8" fill="#c2c3df" fill-opacity="0.70"/>
<circle cx="351.74" cy="137.86" r="0.8" fill="#c2c3df" fill-opacity="0.70"/>
<line x1="291.5" y1="160.49" x2="402.3" y2="160.49" stroke="#000" stroke-width="0.75" stroke-dasharray="1.9,0.9"/>
<path d="M291.50,181.40 L292.20,178.19 L292.89,175.28 L293.59,172.71 L294.29,170.56 L294.98,168.73 L295.68,167.13 L296.38,165.72 L297.07,164.46 L297.77,163.30 L298.47,162.25 L299.17,161.36 L299.86,160.65 L300.56,160.09 L301.26,159.60 L301.95,159.08 L302.65,158.57 L303.35,158.07 L304.04,157.58 L304.74,157.09 L305.44,156.60 L306.13,156.10 L306.83,155.60 L307.53,155.11 L308.22,154.61 L308.92,154.11 L309.62,153.61 L310.32,153.12 L311.01,152.63 L311.71,152.15 L312.41,151.67 L313.10,151.20 L313.80,150.74 L314.50,150.28 L315.19,149.82 L315.89,149.35 L316.59,148.88 L317.28,148.40 L317.98,147.91 L318.68,147.40 L319.37,146.88 L320.07,146.35 L320.77,145.78 L321.46,145.18 L322.16,144.55 L322.86,143.89 L323.56,143.22 L324.25,142.53 L324.95,141.84 L325.65,141.16 L326.34,140.48 L327.04,139.82 L327.74,139.18 L328.43,138.57 L329.13,138.00 L329.83,137.46 L330.52,136.94 L331.22,136.43 L331.92,135.92 L332.61,135.42 L333.31,134.93 L334.01,134.46 L334.71,134.00 L335.40,133.56 L336.10,133.13 L336.80,132.73 L337.49,132.35 L338.19,131.99 L338.89,131.66 L339.58,131.35 L340.28,131.05 L340.98,130.75 L341.67,130.46 L342.37,130.17 L343.07,129.90 L343.76,129.65 L344.46,129.40 L345.16,129.18 L345.85,128.97 L346.55,128.78 L347.25,128.61 L347.95,128.46 L348.64,128.34 L349.34,128.23 L350.04,128.11 L350.73,128.00 L351.43,127.90 L352.13,127.80 L352.82,127.72 L353.52,127.65 L354.22,127.59 L354.91,127.55 L355.61,127.52 L356.31,127.52 L357.00,127.52 L357.70,127.53 L358.40,127.54 L359.09,127.56 L359.79,127.58 L360.49,127.60 L361.19,127.62 L361.88,127.65 L362.58,127.68 L363.28,127.71 L363.97,127.74 L364.67,127.78 L365.37,127.81 L366.06,127.85 L366.76,127.89 L367.46,127.92 L368.15,127.96 L368.85,128.00 L369.55,128.04 L370.24,128.07 L370.94,128.11 L371.64,128.14 L372.34,128.17 L373.03,128.21 L373.73,128.24 L374.43,128.27 L375.12,128.31 L375.82,128.34 L376.52,128.38 L377.21,128.41 L377.91,128.45 L378.61,128.48 L379.30,128.52 L380.00,128.56 L380.70,128.59 L381.39,128.63 L382.09,128.67 L382.79,128.71 L383.48,128.75 L384.18,128.79 L384.88,128.83 L385.58,128.87 L386.27,128.91 L386.97,128.95 L387.67,128.99 L388.36,129.03 L389.06,129.07 L389.76,129.12 L390.45,129.16 L391.15,129.20 L391.85,129.24 L392.54,129.29 L393.24,129.33 L393.94,129.38 L394.63,129.42 L395.33,129.47 L396.03,129.52 L396.73,129.56 L397.42,129.61 L398.12,129.66 L398.82,129.70 L399.51,129.75 L400.21,129.80 L400.91,129.85 L401.60,129.90 L402.30,129.95" fill="none" stroke="#8034e8" stroke-width="1.3" stroke-linejoin="round"/>
</g>
<rect x="291.5" y="118.9" width="110.8" height="83.4" fill="none" stroke="#111" stroke-width="0.9"/>
<line x1="291.50" y1="202.3" x2="291.50" y2="200.5" stroke="#111" stroke-width="0.7"/>
<text x="291.5" y="208" font-size="4.2" text-anchor="middle" textLength="6.615" lengthAdjust="spacingAndGlyphs" fill="#000" stroke="#000" stroke-width="0.1">0.00</text>
<line x1="304.95" y1="202.3" x2="304.95" y2="200.5" stroke="#111" stroke-width="0.7"/>
<text x="304.947" y="208" font-size="4.2" text-anchor="middle" textLength="6.615" lengthAdjust="spacingAndGlyphs" fill="#000" stroke="#000" stroke-width="0.1">0.25</text>
<line x1="318.39" y1="202.3" x2="318.39" y2="200.5" stroke="#111" stroke-width="0.7"/>
<text x="318.393" y="208" font-size="4.2" text-anchor="middle" textLength="6.615" lengthAdjust="spacingAndGlyphs" fill="#000" stroke="#000" stroke-width="0.1">0.50</text>
<line x1="331.84" y1="202.3" x2="331.84" y2="200.5" stroke="#111" stroke-width="0.7"/>
<text x="331.84" y="208" font-size="4.2" text-anchor="middle" textLength="6.615" lengthAdjust="spacingAndGlyphs" fill="#000" stroke="#000" stroke-width="0.1">0.75</text>
<line x1="345.29" y1="202.3" x2="345.29" y2="200.5" stroke="#111" stroke-width="0.7"/>
<text x="345.286" y="208" font-size="4.2" text-anchor="middle" textLength="6.615" lengthAdjust="spacingAndGlyphs" fill="#000" stroke="#000" stroke-width="0.1">1.00</text>
<line x1="358.73" y1="202.3" x2="358.73" y2="200.5" stroke="#111" stroke-width="0.7"/>
<text x="358.733" y="208" font-size="4.2" text-anchor="middle" textLength="6.615" lengthAdjust="spacingAndGlyphs" fill="#000" stroke="#000" stroke-width="0.1">1.25</text>
<line x1="372.18" y1="202.3" x2="372.18" y2="200.5" stroke="#111" stroke-width="0.7"/>
<text x="372.18" y="208" font-size="4.2" text-anchor="middle" textLength="6.615" lengthAdjust="spacingAndGlyphs" fill="#000" stroke="#000" stroke-width="0.1">1.50</text>
<line x1="385.63" y1="202.3" x2="385.63" y2="200.5" stroke="#111" stroke-width="0.7"/>
<text x="385.626" y="208" font-size="4.2" text-anchor="middle" textLength="6.615" lengthAdjust="spacingAndGlyphs" fill="#000" stroke="#000" stroke-width="0.1">1.75</text>
<line x1="399.07" y1="202.3" x2="399.07" y2="200.5" stroke="#111" stroke-width="0.7"/>
<text x="399.073" y="208" font-size="4.2" text-anchor="middle" textLength="6.615" lengthAdjust="spacingAndGlyphs" fill="#000" stroke="#000" stroke-width="0.1">2.00</text>
<line x1="291.5" y1="192.82" x2="293.4" y2="192.82" stroke="#111" stroke-width="0.7"/>
<text x="290" y="194.918" font-size="4.2" text-anchor="end" textLength="6.47565" lengthAdjust="spacingAndGlyphs" fill="#000" stroke="#000" stroke-width="0.1">−1.5</text>
<line x1="291.5" y1="182.04" x2="293.4" y2="182.04" stroke="#111" stroke-width="0.7"/>
<text x="290" y="184.143" font-size="4.2" text-anchor="end" textLength="6.47565" lengthAdjust="spacingAndGlyphs" fill="#000" stroke="#000" stroke-width="0.1">−1.0</text>
<line x1="291.5" y1="171.27" x2="293.4" y2="171.27" stroke="#111" stroke-width="0.7"/>
<text x="290" y="173.367" font-size="4.2" text-anchor="end" textLength="6.47565" lengthAdjust="spacingAndGlyphs" fill="#000" stroke="#000" stroke-width="0.1">−0.5</text>
<line x1="291.5" y1="160.49" x2="293.4" y2="160.49" stroke="#111" stroke-width="0.7"/>
<text x="290" y="162.592" font-size="4.2" text-anchor="end" textLength="4.4625" lengthAdjust="spacingAndGlyphs" fill="#000" stroke="#000" stroke-width="0.1">0.0</text>
<line x1="291.5" y1="149.72" x2="293.4" y2="149.72" stroke="#111" stroke-width="0.7"/>
<text x="290" y="151.817" font-size="4.2" text-anchor="end" textLength="4.4625" lengthAdjust="spacingAndGlyphs" fill="#000" stroke="#000" stroke-width="0.1">0.5</text>
<line x1="291.5" y1="138.94" x2="293.4" y2="138.94" stroke="#111" stroke-width="0.7"/>
<text x="290" y="141.042" font-size="4.2" text-anchor="end" textLength="4.4625" lengthAdjust="spacingAndGlyphs" fill="#000" stroke="#000" stroke-width="0.1">1.0</text>
<line x1="291.5" y1="128.17" x2="293.4" y2="128.17" stroke="#111" stroke-width="0.7"/>
<text x="290" y="130.267" font-size="4.2" text-anchor="end" textLength="4.4625" lengthAdjust="spacingAndGlyphs" fill="#000" stroke="#000" stroke-width="0.1">1.5</text>
<text x="346.9" y="115.5" font-size="5.4" text-anchor="middle" textLength="46" lengthAdjust="spacingAndGlyphs" fill="#000">Intvis_den × Betweenness</text>
<text x="294.8" y="127.3" font-size="5" text-anchor="start" font-weight="bold" textLength="5.2" lengthAdjust="spacingAndGlyphs" fill="#000">(d)</text>
<text x="281.5" y="158.5" font-size="5.2" text-anchor="middle" transform="rotate(-90 281.5 158.5)" textLength="57.2" lengthAdjust="spacingAndGlyphs" fill="#000" stroke="#000" stroke-width="0.05">SHAP value for Intvis_den</text>
<text x="346.9" y="214.9" font-size="5.8" text-anchor="middle" textLength="20.1" lengthAdjust="spacingAndGlyphs" fill="#000" stroke="#000" stroke-width="0.06">Intvis_den</text>
</g>
<g>
<clipPath id="cp4"><rect x="415.4" y="118.9" width="110.8" height="83.4"/></clipPath>
<g clip-path="url(#cp4)">
<circle cx="416.74" cy="175.93" r="0.8" fill="#a3a0cb" fill-opacity="0.75"/>
<circle cx="417.38" cy="181.51" r="0.8" fill="#552a90" fill-opacity="0.90"/>
<circle cx="417.43" cy="178.97" r="0.8" fill="#552890" fill-opacity="0.90"/>
<circle cx="415.93" cy="187.14" r="0.8" fill="#aeacd2" fill-opacity="0.75"/>
<circle cx="415.43" cy="180.47" r="0.8" fill="#a19eca" fill-opacity="0.75"/>
<circle cx="415.74" cy="176.03" r="0.8" fill="#cacae3" fill-opacity="0.75"/>
<circle cx="416.73" cy="175.34" r="0.8" fill="#c5c6e1" fill-opacity="0.75"/>
<circle cx="415.86" cy="179.04" r="0.8" fill="#9b97c6" fill-opacity="0.75"/>
<circle cx="416.02" cy="172.79" r="0.8" fill="#c6c7e1" fill-opacity="0.75"/>
<circle cx="417.42" cy="174.35" r="0.8" fill="#9490c3" fill-opacity="0.75"/>
<circle cx="417.32" cy="174.65" r="0.8" fill="#63449d" fill-opacity="0.90"/>
<circle cx="415.54" cy="176.45" r="0.8" fill="#4f1f8b" fill-opacity="0.90"/>
<circle cx="415.41" cy="183.25" r="0.8" fill="#460d83" fill-opacity="0.90"/>
<circle cx="416.43" cy="180.61" r="0.8" fill="#552890" fill-opacity="0.90"/>
<circle cx="416.92" cy="162.73" r="0.8" fill="#4a1486" fill-opacity="0.90"/>
<circle cx="417.22" cy="169.16" r="0.8" fill="#481084" fill-opacity="0.90"/>
<circle cx="416.19" cy="178.36" r="0.8" fill="#62429c" fill-opacity="0.90"/>
<circle cx="417.46" cy="173.14" r="0.8" fill="#491285" fill-opacity="0.90"/>
<circle cx="417.40" cy="168.95" r="0.8" fill="#53258e" fill-opacity="0.90"/>
<circle cx="417.07" cy="175.77" r="0.8" fill="#4a1486" fill-opacity="0.90"/>
<circle cx="422.70" cy="161.21" r="0.8" fill="#cecee5" fill-opacity="0.75"/>
<circle cx="419.75" cy="167.50" r="0.8" fill="#9793c5" fill-opacity="0.75"/>
<circle cx="419.75" cy="162.93" r="0.8" fill="#bebfdd" fill-opacity="0.75"/>
<circle cx="418.70" cy="171.18" r="0.8" fill="#63449d" fill-opacity="0.90"/>
<circle cx="422.00" cy="160.75" r="0.8" fill="#3f007d" fill-opacity="0.90"/>
<circle cx="421.00" cy="164.47" r="0.8" fill="#c3c4e0" fill-opacity="0.75"/>
<circle cx="421.39" cy="162.01" r="0.8" fill="#cfd0e6" fill-opacity="0.75"/>
<circle cx="423.46" cy="164.30" r="0.8" fill="#54278f" fill-opacity="0.90"/>
<circle cx="422.96" cy="157.66" r="0.8" fill="#aaa8d0" fill-opacity="0.75"/>
<circle cx="422.64" cy="157.80" r="0.8" fill="#572c92" fill-opacity="0.90"/>
<circle cx="418.51" cy="168.05" r="0.8" fill="#928fc3" fill-opacity="0.75"/>
<circle cx="423.05" cy="163.76" r="0.8" fill="#b5b5d7" fill-opacity="0.75"/>
<circle cx="420.70" cy="165.44" r="0.8" fill="#b9b9da" fill-opacity="0.75"/>
<circle cx="418.50" cy="173.62" r="0.8" fill="#9390c3" fill-opacity="0.75"/>
<circle cx="423.75" cy="163.49" r="0.8" fill="#cecee5" fill-opacity="0.75"/>
<circle cx="419.31" cy="170.63" r="0.8" fill="#9b97c6" fill-opacity="0.75"/>
<circle cx="419.88" cy="165.16" r="0.8" fill="#a8a6cf" fill-opacity="0.75"/>
<circle cx="422.45" cy="167.94" r="0.8" fill="#a5a2cd" fill-opacity="0.75"/>
<circle cx="419.36" cy="173.49" r="0.8" fill="#c0c1de" fill-opacity="0.75"/>
<circle cx="423.65" cy="160.21" r="0.8" fill="#aeacd2" fill-opacity="0.75"/>
<circle cx="417.63" cy="174.77" r="0.8" fill="#b5b5d7" fill-opacity="0.75"/>
<circle cx="422.82" cy="162.41" r="0.8" fill="#9f9cc9" fill-opacity="0.75"/>
<circle cx="419.80" cy="170.16" r="0.8" fill="#bdbedc" fill-opacity="0.75"/>
<circle cx="422.99" cy="165.88" r="0.8" fill="#a6a3cd" fill-opacity="0.75"/>
<circle cx="423.85" cy="156.56" r="0.8" fill="#c8c8e2" fill-opacity="0.75"/>
<circle cx="422.95" cy="162.62" r="0.8" fill="#b4b4d7" fill-opacity="0.75"/>
<circle cx="422.01" cy="163.83" r="0.8" fill="#481185" fill-opacity="0.90"/>
<circle cx="421.30" cy="169.39" r="0.8" fill="#b8b8d9" fill-opacity="0.75"/>
<circle cx="421.58" cy="162.69" r="0.8" fill="#d1d2e7" fill-opacity="0.75"/>
<circle cx="426.50" cy="161.94" r="0.8" fill="#a9a7cf" fill-opacity="0.75"/>
<circle cx="427.42" cy="159.26" r="0.8" fill="#552890" fill-opacity="0.90"/>
<circle cx="427.53" cy="160.95" r="0.8" fill="#64459e" fill-opacity="0.90"/>
<circle cx="428.96" cy="156.22" r="0.8" fill="#552a90" fill-opacity="0.90"/>
<circle cx="429.94" cy="154.76" r="0.8" fill="#adabd2" fill-opacity="0.75"/>
<circle cx="427.72" cy="157.67" r="0.8" fill="#c1c2df" fill-opacity="0.75"/>
<circle cx="430.40" cy="155.89" r="0.8" fill="#460c83" fill-opacity="0.90"/>
<circle cx="429.84" cy="153.06" r="0.8" fill="#52238d" fill-opacity="0.90"/>
<circle cx="429.30" cy="155.89" r="0.8" fill="#9591c4" fill-opacity="0.75"/>
<circle cx="436.77" cy="155.15" r="0.8" fill="#bbbbdb" fill-opacity="0.75"/>
<circle cx="426.22" cy="156.70" r="0.8" fill="#aeadd3" fill-opacity="0.75"/>
<circle cx="438.94" cy="146.74" r="0.8" fill="#9995c6" fill-opacity="0.75"/>
<circle cx="424.02" cy="161.08" r="0.8" fill="#51218c" fill-opacity="0.90"/>
<circle cx="433.60" cy="151.44" r="0.8" fill="#bbbbdb" fill-opacity="0.75"/>
<circle cx="430.74" cy="153.02" r="0.8" fill="#c0c1de" fill-opacity="0.75"/>
<circle cx="439.17" cy="154.16" r="0.8" fill="#adabd2" fill-opacity="0.75"/>
<circle cx="428.06" cy="153.36" r="0.8" fill="#b3b3d6" fill-opacity="0.75"/>
<circle cx="430.49" cy="158.65" r="0.8" fill="#c0c1de" fill-opacity="0.75"/>
<circle cx="431.45" cy="148.90" r="0.8" fill="#4f1d8b" fill-opacity="0.90"/>
<circle cx="430.92" cy="156.57" r="0.8" fill="#d2d2e7" fill-opacity="0.75"/>
<circle cx="432.31" cy="150.49" r="0.8" fill="#9692c4" fill-opacity="0.75"/>
<circle cx="436.20" cy="151.69" r="0.8" fill="#928fc3" fill-opacity="0.75"/>
<circle cx="428.58" cy="155.26" r="0.8" fill="#b4b4d7" fill-opacity="0.75"/>
<circle cx="434.06" cy="156.33" r="0.8" fill="#491285" fill-opacity="0.90"/>
<circle cx="428.70" cy="159.42" r="0.8" fill="#bebedd" fill-opacity="0.75"/>
<circle cx="428.64" cy="159.69" r="0.8" fill="#a29fcb" fill-opacity="0.75"/>
<circle cx="433.22" cy="154.32" r="0.8" fill="#5e3b98" fill-opacity="0.90"/>
<circle cx="431.11" cy="151.04" r="0.8" fill="#d2d2e7" fill-opacity="0.75"/>
<circle cx="436.15" cy="154.26" r="0.8" fill="#aeacd2" fill-opacity="0.75"/>
<circle cx="435.05" cy="154.36" r="0.8" fill="#babadb" fill-opacity="0.75"/>
<circle cx="430.12" cy="158.05" r="0.8" fill="#c6c7e1" fill-opacity="0.75"/>
<circle cx="428.63" cy="156.67" r="0.8" fill="#a6a3cd" fill-opacity="0.75"/>
<circle cx="430.76" cy="156.35" r="0.8" fill="#a09dca" fill-opacity="0.75"/>
<circle cx="438.21" cy="148.71" r="0.8" fill="#b2b2d5" fill-opacity="0.75"/>
<circle cx="429.16" cy="154.61" r="0.8" fill="#adabd2" fill-opacity="0.75"/>
<circle cx="436.67" cy="149.87" r="0.8" fill="#9f9cc9" fill-opacity="0.75"/>
<circle cx="434.36" cy="152.31" r="0.8" fill="#4a1587" fill-opacity="0.90"/>
<circle cx="439.27" cy="146.01" r="0.8" fill="#460c83" fill-opacity="0.90"/>
<circle cx="427.43" cy="157.98" r="0.8" fill="#9591c4" fill-opacity="0.75"/>
<circle cx="435.12" cy="151.18" r="0.8" fill="#c9c9e2" fill-opacity="0.75"/>
<circle cx="433.53" cy="152.13" r="0.8" fill="#c9c9e2" fill-opacity="0.75"/>
<circle cx="433.71" cy="152.38" r="0.8" fill="#cecfe5" fill-opacity="0.75"/>
<circle cx="424.90" cy="159.47" r="0.8" fill="#a3a0cb" fill-opacity="0.75"/>
<circle cx="437.71" cy="149.06" r="0.8" fill="#acaad1" fill-opacity="0.75"/>
<circle cx="431.64" cy="153.07" r="0.8" fill="#bbbbdb" fill-opacity="0.75"/>
<circle cx="424.88" cy="160.24" r="0.8" fill="#b2b2d5" fill-opacity="0.75"/>
<circle cx="438.21" cy="151.69" r="0.8" fill="#aba9d0" fill-opacity="0.75"/>
<circle cx="428.11" cy="159.18" r="0.8" fill="#b1b1d5" fill-opacity="0.75"/>
<circle cx="426.09" cy="159.48" r="0.8" fill="#bbbbdb" fill-opacity="0.75"/>
<circle cx="435.50" cy="150.61" r="0.8" fill="#cecee5" fill-opacity="0.75"/>
<circle cx="434.42" cy="149.59" r="0.8" fill="#65479e" fill-opacity="0.90"/>
<circle cx="433.27" cy="153.44" r="0.8" fill="#bebedd" fill-opacity="0.75"/>
<circle cx="436.43" cy="146.75" r="0.8" fill="#4a1587" fill-opacity="0.90"/>
<circle cx="424.84" cy="156.41" r="0.8" fill="#c4c5e0" fill-opacity="0.75"/>
<circle cx="425.82" cy="154.36" r="0.8" fill="#a8a6cf" fill-opacity="0.75"/>
<circle cx="436.81" cy="149.22" r="0.8" fill="#c4c5e0" fill-opacity="0.75"/>
<circle cx="429.20" cy="154.14" r="0.8" fill="#bdbedc" fill-opacity="0.75"/>
<circle cx="430.02" cy="153.18" r="0.8" fill="#9e9bc8" fill-opacity="0.75"/>
<circle cx="430.77" cy="152.20" r="0.8" fill="#b1b1d5" fill-opacity="0.75"/>
<circle cx="433.25" cy="157.29" r="0.8" fill="#cdcde4" fill-opacity="0.75"/>
<circle cx="424.52" cy="161.78" r="0.8" fill="#d0d1e6" fill-opacity="0.75"/>
<circle cx="437.88" cy="154.60" r="0.8" fill="#552890" fill-opacity="0.90"/>
<circle cx="437.88" cy="150.14" r="0.8" fill="#b7b7d9" fill-opacity="0.75"/>
<circle cx="431.27" cy="154.11" r="0.8" fill="#bbbbdb" fill-opacity="0.75"/>
<circle cx="430.02" cy="155.31" r="0.8" fill="#c9c9e2" fill-opacity="0.75"/>
<circle cx="427.97" cy="157.80" r="0.8" fill="#c4c5e0" fill-opacity="0.75"/>
<circle cx="431.52" cy="153.65" r="0.8" fill="#42057f" fill-opacity="0.90"/>
<circle cx="429.76" cy="152.95" r="0.8" fill="#b4b4d7" fill-opacity="0.75"/>
<circle cx="438.75" cy="151.42" r="0.8" fill="#4d1a89" fill-opacity="0.90"/>
<circle cx="428.55" cy="158.91" r="0.8" fill="#c6c7e1" fill-opacity="0.75"/>
<circle cx="424.39" cy="163.55" r="0.8" fill="#cecee5" fill-opacity="0.75"/>
<circle cx="430.26" cy="153.71" r="0.8" fill="#b4b4d7" fill-opacity="0.75"/>
<circle cx="428.42" cy="157.62" r="0.8" fill="#a4a1cc" fill-opacity="0.75"/>
<circle cx="426.55" cy="158.36" r="0.8" fill="#a9a7cf" fill-opacity="0.75"/>
<circle cx="430.72" cy="152.08" r="0.8" fill="#d2d2e7" fill-opacity="0.75"/>
<circle cx="424.96" cy="159.29" r="0.8" fill="#51228d" fill-opacity="0.90"/>
<circle cx="439.44" cy="151.98" r="0.8" fill="#bdbedc" fill-opacity="0.75"/>
<circle cx="425.47" cy="154.79" r="0.8" fill="#9692c4" fill-opacity="0.75"/>
<circle cx="424.84" cy="157.62" r="0.8" fill="#cfd0e6" fill-opacity="0.75"/>
<circle cx="430.20" cy="154.29" r="0.8" fill="#bfc0de" fill-opacity="0.75"/>
<circle cx="424.81" cy="159.17" r="0.8" fill="#40017e" fill-opacity="0.90"/>
<circle cx="426.80" cy="160.79" r="0.8" fill="#cecee5" fill-opacity="0.75"/>
<circle cx="445.51" cy="145.19" r="0.8" fill="#52238d" fill-opacity="0.90"/>
<circle cx="456.95" cy="139.27" r="0.8" fill="#d2d2e7" fill-opacity="0.75"/>
<circle cx="449.76" cy="143.90" r="0.8" fill="#aeacd2" fill-opacity="0.75"/>
<circle cx="446.69" cy="146.89" r="0.8" fill="#bfc0de" fill-opacity="0.75"/>
<circle cx="448.06" cy="145.57" r="0.8" fill="#c4c5e0" fill-opacity="0.75"/>
<circle cx="441.78" cy="148.40" r="0.8" fill="#9e9ac8" fill-opacity="0.75"/>
<circle cx="445.49" cy="144.04" r="0.8" fill="#66499f" fill-opacity="0.90"/>
<circle cx="444.21" cy="143.79" r="0.8" fill="#c3c4e0" fill-opacity="0.75"/>
<circle cx="440.76" cy="147.31" r="0.8" fill="#d0d1e6" fill-opacity="0.75"/>
<circle cx="443.37" cy="147.37" r="0.8" fill="#582e92" fill-opacity="0.90"/>
<circle cx="445.51" cy="142.61" r="0.8" fill="#aeadd3" fill-opacity="0.75"/>
<circle cx="456.47" cy="137.92" r="0.8" fill="#b6b6d8" fill-opacity="0.75"/>
<circle cx="454.98" cy="140.13" r="0.8" fill="#9591c4" fill-opacity="0.75"/>
<circle cx="453.31" cy="138.40" r="0.8" fill="#babadb" fill-opacity="0.75"/>
<circle cx="442.06" cy="149.73" r="0.8" fill="#63439c" fill-opacity="0.90"/>
<circle cx="444.55" cy="146.83" r="0.8" fill="#491285" fill-opacity="0.90"/>
<circle cx="450.09" cy="142.52" r="0.8" fill="#674ca1" fill-opacity="0.90"/>
<circle cx="442.05" cy="150.98" r="0.8" fill="#acaad1" fill-opacity="0.75"/>
<circle cx="443.95" cy="142.35" r="0.8" fill="#bcbddc" fill-opacity="0.75"/>
<circle cx="445.82" cy="141.35" r="0.8" fill="#a4a1cc" fill-opacity="0.75"/>
<circle cx="441.40" cy="147.98" r="0.8" fill="#c8c8e2" fill-opacity="0.75"/>
<circle cx="452.96" cy="143.82" r="0.8" fill="#cccce4" fill-opacity="0.75"/>
<circle cx="445.57" cy="142.97" r="0.8" fill="#b5b5d7" fill-opacity="0.75"/>
<circle cx="447.78" cy="147.02" r="0.8" fill="#b0afd4" fill-opacity="0.75"/>
<circle cx="457.86" cy="132.90" r="0.8" fill="#cdcde4" fill-opacity="0.75"/>
<circle cx="454.93" cy="137.31" r="0.8" fill="#d1d2e7" fill-opacity="0.75"/>
<circle cx="450.47" cy="139.86" r="0.8" fill="#9a96c6" fill-opacity="0.75"/>
<circle cx="447.00" cy="143.21" r="0.8" fill="#aeadd3" fill-opacity="0.75"/>
<circle cx="446.32" cy="142.27" r="0.8" fill="#c3c4e0" fill-opacity="0.75"/>
<circle cx="446.23" cy="144.31" r="0.8" fill="#9c98c7" fill-opacity="0.75"/>
<circle cx="451.24" cy="132.19" r="0.8" fill="#cacae3" fill-opacity="0.75"/>
<circle cx="455.26" cy="137.04" r="0.8" fill="#65489f" fill-opacity="0.90"/>
<circle cx="453.11" cy="137.89" r="0.8" fill="#c6c7e1" fill-opacity="0.75"/>
<circle cx="454.61" cy="138.56" r="0.8" fill="#aba9d0" fill-opacity="0.75"/>
<circle cx="454.67" cy="133.25" r="0.8" fill="#d2d2e7" fill-opacity="0.75"/>
<circle cx="449.24" cy="142.87" r="0.8" fill="#bebfdd" fill-opacity="0.75"/>
<circle cx="440.11" cy="149.99" r="0.8" fill="#babadb" fill-opacity="0.75"/>
<circle cx="448.57" cy="142.88" r="0.8" fill="#9e9ac8" fill-opacity="0.75"/>
<circle cx="457.00" cy="137.58" r="0.8" fill="#a7a4ce" fill-opacity="0.75"/>
<circle cx="449.71" cy="140.26" r="0.8" fill="#a7a4ce" fill-opacity="0.75"/>
<circle cx="449.43" cy="143.61" r="0.8" fill="#cecee5" fill-opacity="0.75"/>
<circle cx="441.25" cy="150.46" r="0.8" fill="#a4a1cc" fill-opacity="0.75"/>
<circle cx="445.38" cy="142.48" r="0.8" fill="#c1c2df" fill-opacity="0.75"/>
<circle cx="453.08" cy="134.06" r="0.8" fill="#9591c4" fill-opacity="0.75"/>
<circle cx="456.49" cy="133.54" r="0.8" fill="#9d99c7" fill-opacity="0.75"/>
<circle cx="453.51" cy="138.98" r="0.8" fill="#9995c6" fill-opacity="0.75"/>
<circle cx="444.10" cy="147.38" r="0.8" fill="#afaed4" fill-opacity="0.75"/>
<circle cx="447.01" cy="141.08" r="0.8" fill="#a9a7cf" fill-opacity="0.75"/>
<circle cx="456.54" cy="135.35" r="0.8" fill="#aba9d0" fill-opacity="0.75"/>
<circle cx="446.88" cy="140.71" r="0.8" fill="#a4a1cc" fill-opacity="0.75"/>
<circle cx="446.64" cy="141.50" r="0.8" fill="#c5c6e1" fill-opacity="0.75"/>
<circle cx="445.36" cy="145.58" r="0.8" fill="#c8c8e2" fill-opacity="0.75"/>
<circle cx="451.52" cy="135.70" r="0.8" fill="#c4c5e0" fill-opacity="0.75"/>
<circle cx="440.78" cy="153.13" r="0.8" fill="#a3a0cb" fill-opacity="0.75"/>
<circle cx="447.45" cy="145.18" r="0.8" fill="#b0afd4" fill-opacity="0.75"/>
<circle cx="456.64" cy="136.01" r="0.8" fill="#9490c3" fill-opacity="0.75"/>
<circle cx="443.13" cy="145.01" r="0.8" fill="#65479e" fill-opacity="0.90"/>
<circle cx="450.19" cy="141.84" r="0.8" fill="#adabd2" fill-opacity="0.75"/>
<circle cx="451.77" cy="140.06" r="0.8" fill="#a3a0cb" fill-opacity="0.75"/>
<circle cx="440.76" cy="153.57" r="0.8" fill="#bebfdd" fill-opacity="0.75"/>
<circle cx="455.61" cy="135.60" r="0.8" fill="#9793c5" fill-opacity="0.75"/>
<circle cx="443.92" cy="148.01" r="0.8" fill="#cdcde4" fill-opacity="0.75"/>
<circle cx="443.25" cy="151.59" r="0.8" fill="#66499f" fill-opacity="0.90"/>
<circle cx="442.46" cy="148.40" r="0.8" fill="#a3a0cb" fill-opacity="0.75"/>
<circle cx="454.97" cy="137.34" r="0.8" fill="#a5a2cd" fill-opacity="0.75"/>
<circle cx="457.00" cy="131.59" r="0.8" fill="#cdcde4" fill-opacity="0.75"/>
<circle cx="441.54" cy="149.12" r="0.8" fill="#613f9a" fill-opacity="0.90"/>
<circle cx="446.65" cy="147.77" r="0.8" fill="#cecee5" fill-opacity="0.75"/>
<circle cx="447.20" cy="142.47" r="0.8" fill="#bbbbdb" fill-opacity="0.75"/>
<circle cx="441.82" cy="150.01" r="0.8" fill="#b3b3d6" fill-opacity="0.75"/>
<circle cx="457.73" cy="136.01" r="0.8" fill="#cecfe5" fill-opacity="0.75"/>
<circle cx="453.91" cy="137.72" r="0.8" fill="#552890" fill-opacity="0.90"/>
<circle cx="446.27" cy="146.48" r="0.8" fill="#9793c5" fill-opacity="0.75"/>
<circle cx="446.80" cy="144.62" r="0.8" fill="#9f9cc9" fill-opacity="0.75"/>
<circle cx="450.44" cy="137.35" r="0.8" fill="#bebedd" fill-opacity="0.75"/>
<circle cx="455.57" cy="136.92" r="0.8" fill="#c3c4e0" fill-opacity="0.75"/>
<circle cx="452.15" cy="138.83" r="0.8" fill="#5e3a98" fill-opacity="0.90"/>
<circle cx="441.41" cy="155.64" r="0.8" fill="#babadb" fill-opacity="0.75"/>
<circle cx="457.19" cy="133.90" r="0.8" fill="#5a3395" fill-opacity="0.90"/>
<circle cx="454.87" cy="132.21" r="0.8" fill="#d2d2e7" fill-opacity="0.75"/>
<circle cx="444.33" cy="145.92" r="0.8" fill="#babadb" fill-opacity="0.75"/>
<circle cx="449.33" cy="139.65" r="0.8" fill="#b6b6d8" fill-opacity="0.75"/>
<circle cx="448.49" cy="141.61" r="0.8" fill="#5e3a98" fill-opacity="0.90"/>
<circle cx="457.58" cy="135.87" r="0.8" fill="#582f93" fill-opacity="0.90"/>
<circle cx="454.26" cy="139.91" r="0.8" fill="#adabd2" fill-opacity="0.75"/>
<circle cx="456.59" cy="137.61" r="0.8" fill="#694fa2" fill-opacity="0.90"/>
<circle cx="454.09" cy="140.10" r="0.8" fill="#9a96c6" fill-opacity="0.75"/>
<circle cx="455.15" cy="134.23" r="0.8" fill="#a29fcb" fill-opacity="0.75"/>
<circle cx="468.02" cy="130.69" r="0.8" fill="#481185" fill-opacity="0.90"/>
<circle cx="462.97" cy="124.09" r="0.8" fill="#582e92" fill-opacity="0.90"/>
<circle cx="461.34" cy="133.70" r="0.8" fill="#c0c1de" fill-opacity="0.75"/>
<circle cx="465.60" cy="129.41" r="0.8" fill="#cecfe5" fill-opacity="0.75"/>
<circle cx="462.53" cy="130.77" r="0.8" fill="#9a96c6" fill-opacity="0.75"/>
<circle cx="460.54" cy="128.40" r="0.8" fill="#acaad1" fill-opacity="0.75"/>
<circle cx="459.90" cy="132.68" r="0.8" fill="#420680" fill-opacity="0.90"/>
<circle cx="468.51" cy="127.86" r="0.8" fill="#c1c2df" fill-opacity="0.75"/>
<circle cx="466.54" cy="129.77" r="0.8" fill="#a09dca" fill-opacity="0.75"/>
<circle cx="460.06" cy="139.49" r="0.8" fill="#cecee5" fill-opacity="0.75"/>
<circle cx="459.62" cy="134.10" r="0.8" fill="#bbbbdb" fill-opacity="0.75"/>
<circle cx="462.40" cy="134.94" r="0.8" fill="#c3c4e0" fill-opacity="0.75"/>
<circle cx="464.55" cy="130.45" r="0.8" fill="#afaed4" fill-opacity="0.75"/>
<circle cx="466.30" cy="128.35" r="0.8" fill="#d2d2e7" fill-opacity="0.75"/>
<circle cx="466.72" cy="127.97" r="0.8" fill="#b2b2d5" fill-opacity="0.75"/>
<circle cx="465.00" cy="130.48" r="0.8" fill="#d0d1e6" fill-opacity="0.75"/>
<circle cx="462.58" cy="132.54" r="0.8" fill="#d1d2e7" fill-opacity="0.75"/>
<circle cx="461.63" cy="135.51" r="0.8" fill="#bbbbdb" fill-opacity="0.75"/>
<circle cx="464.13" cy="130.00" r="0.8" fill="#9692c4" fill-opacity="0.75"/>
<circle cx="468.64" cy="127.30" r="0.8" fill="#42057f" fill-opacity="0.90"/>
<circle cx="459.26" cy="133.73" r="0.8" fill="#a3a0cb" fill-opacity="0.75"/>
<circle cx="464.12" cy="135.20" r="0.8" fill="#afaed4" fill-opacity="0.75"/>
<circle cx="467.35" cy="126.29" r="0.8" fill="#5a3395" fill-opacity="0.90"/>
<circle cx="463.75" cy="132.72" r="0.8" fill="#cfd0e6" fill-opacity="0.75"/>
<circle cx="459.37" cy="134.16" r="0.8" fill="#cacae3" fill-opacity="0.75"/>
<circle cx="468.84" cy="129.40" r="0.8" fill="#a3a0cb" fill-opacity="0.75"/>
<circle cx="461.25" cy="130.53" r="0.8" fill="#aba9d0" fill-opacity="0.75"/>
<circle cx="462.61" cy="132.97" r="0.8" fill="#9a96c6" fill-opacity="0.75"/>
<circle cx="463.15" cy="132.79" r="0.8" fill="#c8c8e2" fill-opacity="0.75"/>
<circle cx="459.91" cy="129.50" r="0.8" fill="#d2d2e7" fill-opacity="0.75"/>
<circle cx="458.89" cy="132.56" r="0.8" fill="#b3b3d6" fill-opacity="0.75"/>
<circle cx="467.80" cy="126.53" r="0.8" fill="#4a1587" fill-opacity="0.90"/>
<circle cx="465.01" cy="129.91" r="0.8" fill="#c5c6e1" fill-opacity="0.75"/>
<circle cx="468.64" cy="128.65" r="0.8" fill="#cdcde4" fill-opacity="0.75"/>
<circle cx="459.15" cy="133.10" r="0.8" fill="#a9a7cf" fill-opacity="0.75"/>
<circle cx="468.03" cy="129.68" r="0.8" fill="#9d99c7" fill-opacity="0.75"/>
<circle cx="459.73" cy="134.18" r="0.8" fill="#c2c3df" fill-opacity="0.75"/>
<circle cx="461.64" cy="128.22" r="0.8" fill="#9894c5" fill-opacity="0.75"/>
<circle cx="463.44" cy="131.34" r="0.8" fill="#613f9a" fill-opacity="0.90"/>
<circle cx="461.26" cy="130.90" r="0.8" fill="#5a3395" fill-opacity="0.90"/>
<circle cx="459.28" cy="134.10" r="0.8" fill="#aba9d0" fill-opacity="0.75"/>
<circle cx="465.43" cy="129.93" r="0.8" fill="#a6a3cd" fill-opacity="0.75"/>
<circle cx="463.24" cy="130.31" r="0.8" fill="#9894c5" fill-opacity="0.75"/>
<circle cx="459.99" cy="133.45" r="0.8" fill="#9995c6" fill-opacity="0.75"/>
<circle cx="464.40" cy="128.20" r="0.8" fill="#b8b8d9" fill-opacity="0.75"/>
<circle cx="466.87" cy="128.93" r="0.8" fill="#5e3b98" fill-opacity="0.90"/>
<circle cx="462.28" cy="133.60" r="0.8" fill="#c2c3df" fill-opacity="0.75"/>
<circle cx="465.20" cy="134.37" r="0.8" fill="#481185" fill-opacity="0.90"/>
<circle cx="462.05" cy="136.60" r="0.8" fill="#4e1c8a" fill-opacity="0.90"/>
<circle cx="467.51" cy="130.36" r="0.8" fill="#babadb" fill-opacity="0.75"/>
<circle cx="465.27" cy="130.96" r="0.8" fill="#c2c3df" fill-opacity="0.75"/>
<circle cx="462.82" cy="132.16" r="0.8" fill="#4b1687" fill-opacity="0.90"/>
<circle cx="462.85" cy="130.70" r="0.8" fill="#cecfe5" fill-opacity="0.75"/>
<circle cx="461.67" cy="129.79" r="0.8" fill="#9995c6" fill-opacity="0.75"/>
<circle cx="463.88" cy="126.04" r="0.8" fill="#582e92" fill-opacity="0.90"/>
<circle cx="460.86" cy="129.62" r="0.8" fill="#cccce4" fill-opacity="0.75"/>
<circle cx="463.93" cy="130.64" r="0.8" fill="#9591c4" fill-opacity="0.75"/>
<circle cx="463.44" cy="128.13" r="0.8" fill="#52238d" fill-opacity="0.90"/>
<circle cx="459.33" cy="131.10" r="0.8" fill="#afaed4" fill-opacity="0.75"/>
<circle cx="463.14" cy="131.92" r="0.8" fill="#b7b7d9" fill-opacity="0.75"/>
<circle cx="460.68" cy="129.77" r="0.8" fill="#9793c5" fill-opacity="0.75"/>
<circle cx="471.65" cy="127.85" r="0.8" fill="#b0afd4" fill-opacity="0.75"/>
<circle cx="470.09" cy="130.57" r="0.8" fill="#b5b5d7" fill-opacity="0.75"/>
<circle cx="472.05" cy="126.27" r="0.8" fill="#4a1486" fill-opacity="0.90"/>
<circle cx="470.84" cy="126.78" r="0.8" fill="#acaad1" fill-opacity="0.75"/>
<circle cx="470.05" cy="124.75" r="0.8" fill="#3f007d" fill-opacity="0.90"/>
<circle cx="470.05" cy="129.59" r="0.8" fill="#562b91" fill-opacity="0.90"/>
<circle cx="473.19" cy="124.37" r="0.8" fill="#50208c" fill-opacity="0.90"/>
<circle cx="470.81" cy="127.77" r="0.8" fill="#4a1587" fill-opacity="0.90"/>
<circle cx="469.98" cy="125.96" r="0.8" fill="#b3b3d6" fill-opacity="0.75"/>
<circle cx="474.83" cy="122.20" r="0.8" fill="#5b3495" fill-opacity="0.90"/>
<circle cx="474.85" cy="126.55" r="0.8" fill="#cbcbe3" fill-opacity="0.75"/>
<circle cx="473.41" cy="123.83" r="0.8" fill="#d3d3e8" fill-opacity="0.75"/>
<circle cx="475.28" cy="124.36" r="0.8" fill="#460c83" fill-opacity="0.90"/>
<circle cx="473.55" cy="127.40" r="0.8" fill="#b2b2d5" fill-opacity="0.75"/>
<circle cx="473.78" cy="128.92" r="0.8" fill="#6950a3" fill-opacity="0.90"/>
<circle cx="474.29" cy="123.56" r="0.8" fill="#d0d1e6" fill-opacity="0.75"/>
<circle cx="472.64" cy="128.74" r="0.8" fill="#9c98c7" fill-opacity="0.75"/>
<circle cx="470.72" cy="123.72" r="0.8" fill="#babadb" fill-opacity="0.75"/>
<circle cx="473.35" cy="130.28" r="0.8" fill="#aeacd2" fill-opacity="0.75"/>
<circle cx="473.98" cy="125.92" r="0.8" fill="#5c3797" fill-opacity="0.90"/>
<circle cx="473.93" cy="123.74" r="0.8" fill="#4c1888" fill-opacity="0.90"/>
<circle cx="469.58" cy="128.93" r="0.8" fill="#cacae3" fill-opacity="0.75"/>
<circle cx="469.55" cy="130.26" r="0.8" fill="#562b91" fill-opacity="0.90"/>
<circle cx="474.37" cy="126.09" r="0.8" fill="#d1d2e7" fill-opacity="0.75"/>
<circle cx="474.32" cy="123.01" r="0.8" fill="#a4a1cc" fill-opacity="0.75"/>
<circle cx="474.68" cy="124.83" r="0.8" fill="#440981" fill-opacity="0.90"/>
<circle cx="475.57" cy="127.09" r="0.8" fill="#5a3294" fill-opacity="0.90"/>
<circle cx="469.76" cy="129.22" r="0.8" fill="#572c92" fill-opacity="0.90"/>
<circle cx="471.12" cy="129.34" r="0.8" fill="#9995c6" fill-opacity="0.75"/>
<circle cx="473.63" cy="128.45" r="0.8" fill="#562b91" fill-opacity="0.90"/>
<circle cx="471.82" cy="124.01" r="0.8" fill="#9b97c6" fill-opacity="0.75"/>
<circle cx="473.59" cy="123.75" r="0.8" fill="#9793c5" fill-opacity="0.75"/>
<circle cx="474.30" cy="124.53" r="0.8" fill="#a4a1cc" fill-opacity="0.75"/>
<circle cx="489.63" cy="135.06" r="0.8" fill="#c2c3df" fill-opacity="0.70"/>
<circle cx="492.31" cy="134.20" r="0.8" fill="#c2c3df" fill-opacity="0.70"/>
<circle cx="494.47" cy="133.77" r="0.8" fill="#c2c3df" fill-opacity="0.70"/>
<circle cx="501.46" cy="132.48" r="0.8" fill="#c2c3df" fill-opacity="0.70"/>
<circle cx="511.14" cy="127.74" r="0.8" fill="#c2c3df" fill-opacity="0.70"/>
<circle cx="522.97" cy="134.63" r="0.8" fill="#c2c3df" fill-opacity="0.70"/>
<circle cx="475.64" cy="137.86" r="0.8" fill="#c2c3df" fill-opacity="0.70"/>
<line x1="415.4" y1="160.49" x2="526.2" y2="160.49" stroke="#000" stroke-width="0.75" stroke-dasharray="1.9,0.9"/>
<path d="M415.40,181.40 L416.10,178.19 L416.79,175.28 L417.49,172.71 L418.19,170.56 L418.88,168.73 L419.58,167.13 L420.28,165.72 L420.97,164.46 L421.67,163.30 L422.37,162.25 L423.07,161.36 L423.76,160.65 L424.46,160.09 L425.16,159.60 L425.85,159.08 L426.55,158.57 L427.25,158.07 L427.94,157.58 L428.64,157.09 L429.34,156.60 L430.03,156.10 L430.73,155.60 L431.43,155.11 L432.12,154.61 L432.82,154.11 L433.52,153.61 L434.22,153.12 L434.91,152.63 L435.61,152.15 L436.31,151.67 L437.00,151.20 L437.70,150.74 L438.40,150.28 L439.09,149.82 L439.79,149.35 L440.49,148.88 L441.18,148.40 L441.88,147.91 L442.58,147.40 L443.27,146.88 L443.97,146.35 L444.67,145.78 L445.36,145.18 L446.06,144.55 L446.76,143.89 L447.46,143.22 L448.15,142.53 L448.85,141.84 L449.55,141.16 L450.24,140.48 L450.94,139.82 L451.64,139.18 L452.33,138.57 L453.03,138.00 L453.73,137.46 L454.42,136.94 L455.12,136.43 L455.82,135.92 L456.51,135.42 L457.21,134.93 L457.91,134.46 L458.61,134.00 L459.30,133.56 L460.00,133.13 L460.70,132.73 L461.39,132.35 L462.09,131.99 L462.79,131.66 L463.48,131.35 L464.18,131.05 L464.88,130.75 L465.57,130.46 L466.27,130.17 L466.97,129.90 L467.66,129.65 L468.36,129.40 L469.06,129.18 L469.75,128.97 L470.45,128.78 L471.15,128.61 L471.85,128.46 L472.54,128.34 L473.24,128.23 L473.94,128.11 L474.63,128.00 L475.33,127.90 L476.03,127.80 L476.72,127.72 L477.42,127.65 L478.12,127.59 L478.81,127.55 L479.51,127.52 L480.21,127.52 L480.90,127.52 L481.60,127.53 L482.30,127.54 L482.99,127.56 L483.69,127.58 L484.39,127.60 L485.09,127.62 L485.78,127.65 L486.48,127.68 L487.18,127.71 L487.87,127.74 L488.57,127.78 L489.27,127.81 L489.96,127.85 L490.66,127.89 L491.36,127.92 L492.05,127.96 L492.75,128.00 L493.45,128.04 L494.14,128.07 L494.84,128.11 L495.54,128.14 L496.24,128.17 L496.93,128.21 L497.63,128.24 L498.33,128.27 L499.02,128.31 L499.72,128.34 L500.42,128.38 L501.11,128.41 L501.81,128.45 L502.51,128.48 L503.20,128.52 L503.90,128.56 L504.60,128.59 L505.29,128.63 L505.99,128.67 L506.69,128.71 L507.38,128.75 L508.08,128.79 L508.78,128.83 L509.48,128.87 L510.17,128.91 L510.87,128.95 L511.57,128.99 L512.26,129.03 L512.96,129.07 L513.66,129.12 L514.35,129.16 L515.05,129.20 L515.75,129.24 L516.44,129.29 L517.14,129.33 L517.84,129.38 L518.53,129.42 L519.23,129.47 L519.93,129.52 L520.63,129.56 L521.32,129.61 L522.02,129.66 L522.72,129.70 L523.41,129.75 L524.11,129.80 L524.81,129.85 L525.50,129.90 L526.20,129.95" fill="none" stroke="#8034e8" stroke-width="1.3" stroke-linejoin="round"/>
</g>
<rect x="415.4" y="118.9" width="110.8" height="83.4" fill="none" stroke="#111" stroke-width="0.9"/>
<line x1="415.40" y1="202.3" x2="415.40" y2="200.5" stroke="#111" stroke-width="0.7"/>
<text x="415.4" y="208" font-size="4.2" text-anchor="middle" textLength="6.615" lengthAdjust="spacingAndGlyphs" fill="#000" stroke="#000" stroke-width="0.1">0.00</text>
<line x1="428.85" y1="202.3" x2="428.85" y2="200.5" stroke="#111" stroke-width="0.7"/>
<text x="428.847" y="208" font-size="4.2" text-anchor="middle" textLength="6.615" lengthAdjust="spacingAndGlyphs" fill="#000" stroke="#000" stroke-width="0.1">0.25</text>
<line x1="442.29" y1="202.3" x2="442.29" y2="200.5" stroke="#111" stroke-width="0.7"/>
<text x="442.293" y="208" font-size="4.2" text-anchor="middle" textLength="6.615" lengthAdjust="spacingAndGlyphs" fill="#000" stroke="#000" stroke-width="0.1">0.50</text>
<line x1="455.74" y1="202.3" x2="455.74" y2="200.5" stroke="#111" stroke-width="0.7"/>
<text x="455.74" y="208" font-size="4.2" text-anchor="middle" textLength="6.615" lengthAdjust="spacingAndGlyphs" fill="#000" stroke="#000" stroke-width="0.1">0.75</text>
<line x1="469.19" y1="202.3" x2="469.19" y2="200.5" stroke="#111" stroke-width="0.7"/>
<text x="469.186" y="208" font-size="4.2" text-anchor="middle" textLength="6.615" lengthAdjust="spacingAndGlyphs" fill="#000" stroke="#000" stroke-width="0.1">1.00</text>
<line x1="482.63" y1="202.3" x2="482.63" y2="200.5" stroke="#111" stroke-width="0.7"/>
<text x="482.633" y="208" font-size="4.2" text-anchor="middle" textLength="6.615" lengthAdjust="spacingAndGlyphs" fill="#000" stroke="#000" stroke-width="0.1">1.25</text>
<line x1="496.08" y1="202.3" x2="496.08" y2="200.5" stroke="#111" stroke-width="0.7"/>
<text x="496.08" y="208" font-size="4.2" text-anchor="middle" textLength="6.615" lengthAdjust="spacingAndGlyphs" fill="#000" stroke="#000" stroke-width="0.1">1.50</text>
<line x1="509.53" y1="202.3" x2="509.53" y2="200.5" stroke="#111" stroke-width="0.7"/>
<text x="509.526" y="208" font-size="4.2" text-anchor="middle" textLength="6.615" lengthAdjust="spacingAndGlyphs" fill="#000" stroke="#000" stroke-width="0.1">1.75</text>
<line x1="522.97" y1="202.3" x2="522.97" y2="200.5" stroke="#111" stroke-width="0.7"/>
<text x="522.973" y="208" font-size="4.2" text-anchor="middle" textLength="6.615" lengthAdjust="spacingAndGlyphs" fill="#000" stroke="#000" stroke-width="0.1">2.00</text>
<line x1="415.4" y1="192.82" x2="417.3" y2="192.82" stroke="#111" stroke-width="0.7"/>
<text x="413.9" y="194.918" font-size="4.2" text-anchor="end" textLength="6.47565" lengthAdjust="spacingAndGlyphs" fill="#000" stroke="#000" stroke-width="0.1">−1.5</text>
<line x1="415.4" y1="182.04" x2="417.3" y2="182.04" stroke="#111" stroke-width="0.7"/>
<text x="413.9" y="184.143" font-size="4.2" text-anchor="end" textLength="6.47565" lengthAdjust="spacingAndGlyphs" fill="#000" stroke="#000" stroke-width="0.1">−1.0</text>
<line x1="415.4" y1="171.27" x2="417.3" y2="171.27" stroke="#111" stroke-width="0.7"/>
<text x="413.9" y="173.367" font-size="4.2" text-anchor="end" textLength="6.47565" lengthAdjust="spacingAndGlyphs" fill="#000" stroke="#000" stroke-width="0.1">−0.5</text>
<line x1="415.4" y1="160.49" x2="417.3" y2="160.49" stroke="#111" stroke-width="0.7"/>
<text x="413.9" y="162.592" font-size="4.2" text-anchor="end" textLength="4.4625" lengthAdjust="spacingAndGlyphs" fill="#000" stroke="#000" stroke-width="0.1">0.0</text>
<line x1="415.4" y1="149.72" x2="417.3" y2="149.72" stroke="#111" stroke-width="0.7"/>
<text x="413.9" y="151.817" font-size="4.2" text-anchor="end" textLength="4.4625" lengthAdjust="spacingAndGlyphs" fill="#000" stroke="#000" stroke-width="0.1">0.5</text>
<line x1="415.4" y1="138.94" x2="417.3" y2="138.94" stroke="#111" stroke-width="0.7"/>
<text x="413.9" y="141.042" font-size="4.2" text-anchor="end" textLength="4.4625" lengthAdjust="spacingAndGlyphs" fill="#000" stroke="#000" stroke-width="0.1">1.0</text>
<line x1="415.4" y1="128.17" x2="417.3" y2="128.17" stroke="#111" stroke-width="0.7"/>
<text x="413.9" y="130.267" font-size="4.2" text-anchor="end" textLength="4.4625" lengthAdjust="spacingAndGlyphs" fill="#000" stroke="#000" stroke-width="0.1">1.5</text>
<text x="470.8" y="115.5" font-size="5.4" text-anchor="middle" textLength="30" lengthAdjust="spacingAndGlyphs" fill="#000">Intvis_den × Tpi</text>
<text x="418.7" y="127.3" font-size="5" text-anchor="start" font-weight="bold" textLength="5.2" lengthAdjust="spacingAndGlyphs" fill="#000">(e)</text>
<text x="470.8" y="214.9" font-size="5.8" text-anchor="middle" textLength="20.1" lengthAdjust="spacingAndGlyphs" fill="#000" stroke="#000" stroke-width="0.06">Intvis_den</text>
</g>
<g>
<clipPath id="cp5"><rect x="539.4" y="118.9" width="110.8" height="83.4"/></clipPath>
<g clip-path="url(#cp5)">
<circle cx="541.11" cy="171.69" r="0.8" fill="#6950a3" fill-opacity="0.90"/>
<circle cx="540.83" cy="180.07" r="0.8" fill="#a19eca" fill-opacity="0.75"/>
<circle cx="540.20" cy="177.25" r="0.8" fill="#a3a0cb" fill-opacity="0.75"/>
<circle cx="540.29" cy="181.11" r="0.8" fill="#a7a4ce" fill-opacity="0.75"/>
<circle cx="539.82" cy="187.55" r="0.8" fill="#470f84" fill-opacity="0.90"/>
<circle cx="540.88" cy="177.79" r="0.8" fill="#bebedd" fill-opacity="0.75"/>
<circle cx="539.60" cy="177.79" r="0.8" fill="#cdcde4" fill-opacity="0.75"/>
<circle cx="539.82" cy="187.56" r="0.8" fill="#c0c1de" fill-opacity="0.75"/>
<circle cx="541.45" cy="175.56" r="0.8" fill="#bcbddc" fill-opacity="0.75"/>
<circle cx="541.41" cy="174.68" r="0.8" fill="#b1b1d5" fill-opacity="0.75"/>
<circle cx="540.79" cy="178.06" r="0.8" fill="#d1d2e7" fill-opacity="0.75"/>
<circle cx="540.18" cy="185.97" r="0.8" fill="#bfc0de" fill-opacity="0.75"/>
<circle cx="540.67" cy="167.53" r="0.8" fill="#cccce4" fill-opacity="0.75"/>
<circle cx="540.83" cy="169.94" r="0.8" fill="#61409b" fill-opacity="0.90"/>
<circle cx="540.44" cy="174.61" r="0.8" fill="#a6a3cd" fill-opacity="0.75"/>
<circle cx="539.43" cy="178.79" r="0.8" fill="#d2d2e7" fill-opacity="0.75"/>
<circle cx="540.12" cy="172.67" r="0.8" fill="#593093" fill-opacity="0.90"/>
<circle cx="540.24" cy="181.31" r="0.8" fill="#3f007d" fill-opacity="0.90"/>
<circle cx="539.52" cy="187.80" r="0.8" fill="#9390c3" fill-opacity="0.75"/>
<circle cx="539.93" cy="175.29" r="0.8" fill="#9995c6" fill-opacity="0.75"/>
<circle cx="545.88" cy="160.09" r="0.8" fill="#9f9cc9" fill-opacity="0.75"/>
<circle cx="544.89" cy="167.02" r="0.8" fill="#a5a2cd" fill-opacity="0.75"/>
<circle cx="544.19" cy="160.98" r="0.8" fill="#54278f" fill-opacity="0.90"/>
<circle cx="546.61" cy="158.99" r="0.8" fill="#694fa2" fill-opacity="0.90"/>
<circle cx="542.35" cy="172.88" r="0.8" fill="#562b91" fill-opacity="0.90"/>
<circle cx="547.54" cy="162.59" r="0.8" fill="#582e92" fill-opacity="0.90"/>
<circle cx="547.23" cy="163.25" r="0.8" fill="#b4b4d7" fill-opacity="0.75"/>
<circle cx="542.47" cy="171.55" r="0.8" fill="#bfc0de" fill-opacity="0.75"/>
<circle cx="546.75" cy="164.00" r="0.8" fill="#9793c5" fill-opacity="0.75"/>
<circle cx="543.98" cy="161.77" r="0.8" fill="#bebfdd" fill-opacity="0.75"/>
<circle cx="544.12" cy="172.12" r="0.8" fill="#c0c1de" fill-opacity="0.75"/>
<circle cx="541.59" cy="171.91" r="0.8" fill="#cfd0e6" fill-opacity="0.75"/>
<circle cx="541.75" cy="171.62" r="0.8" fill="#bcbddc" fill-opacity="0.75"/>
<circle cx="547.61" cy="162.45" r="0.8" fill="#cfd0e6" fill-opacity="0.75"/>
<circle cx="542.79" cy="164.46" r="0.8" fill="#a09dca" fill-opacity="0.75"/>
<circle cx="546.80" cy="163.22" r="0.8" fill="#b4b4d7" fill-opacity="0.75"/>
<circle cx="542.20" cy="171.78" r="0.8" fill="#acaad1" fill-opacity="0.75"/>
<circle cx="542.48" cy="168.28" r="0.8" fill="#cdcde4" fill-opacity="0.75"/>
<circle cx="542.23" cy="172.78" r="0.8" fill="#aaa8d0" fill-opacity="0.75"/>
<circle cx="546.08" cy="165.72" r="0.8" fill="#460c83" fill-opacity="0.90"/>
<circle cx="542.09" cy="176.43" r="0.8" fill="#9995c6" fill-opacity="0.75"/>
<circle cx="544.47" cy="170.49" r="0.8" fill="#9f9cc9" fill-opacity="0.75"/>
<circle cx="542.44" cy="162.80" r="0.8" fill="#a09dca" fill-opacity="0.75"/>
<circle cx="544.44" cy="168.05" r="0.8" fill="#4b1687" fill-opacity="0.90"/>
<circle cx="541.96" cy="168.25" r="0.8" fill="#9692c4" fill-opacity="0.75"/>
<circle cx="542.09" cy="179.89" r="0.8" fill="#c0c1de" fill-opacity="0.75"/>
<circle cx="547.79" cy="167.69" r="0.8" fill="#66499f" fill-opacity="0.90"/>
<circle cx="546.82" cy="158.37" r="0.8" fill="#b0afd4" fill-opacity="0.75"/>
<circle cx="541.76" cy="170.28" r="0.8" fill="#3f007d" fill-opacity="0.90"/>
<circle cx="559.94" cy="149.90" r="0.8" fill="#a5a2cd" fill-opacity="0.75"/>
<circle cx="553.36" cy="153.18" r="0.8" fill="#51228d" fill-opacity="0.90"/>
<circle cx="555.24" cy="153.44" r="0.8" fill="#cecfe5" fill-opacity="0.75"/>
<circle cx="549.16" cy="160.18" r="0.8" fill="#c9c9e2" fill-opacity="0.75"/>
<circle cx="552.40" cy="157.33" r="0.8" fill="#aeadd3" fill-opacity="0.75"/>
<circle cx="554.06" cy="155.80" r="0.8" fill="#9894c5" fill-opacity="0.75"/>
<circle cx="554.54" cy="154.08" r="0.8" fill="#bebfdd" fill-opacity="0.75"/>
<circle cx="551.75" cy="161.46" r="0.8" fill="#c7c8e1" fill-opacity="0.75"/>
<circle cx="553.08" cy="158.61" r="0.8" fill="#b6b6d8" fill-opacity="0.75"/>
<circle cx="554.21" cy="152.98" r="0.8" fill="#a4a1cc" fill-opacity="0.75"/>
<circle cx="558.07" cy="153.27" r="0.8" fill="#bbbbdb" fill-opacity="0.75"/>
<circle cx="558.40" cy="151.59" r="0.8" fill="#babadb" fill-opacity="0.75"/>
<circle cx="548.96" cy="159.98" r="0.8" fill="#491285" fill-opacity="0.90"/>
<circle cx="549.79" cy="159.39" r="0.8" fill="#d1d2e7" fill-opacity="0.75"/>
<circle cx="556.47" cy="155.42" r="0.8" fill="#c4c5e0" fill-opacity="0.75"/>
<circle cx="556.82" cy="152.36" r="0.8" fill="#a4a1cc" fill-opacity="0.75"/>
<circle cx="561.49" cy="151.81" r="0.8" fill="#a8a6cf" fill-opacity="0.75"/>
<circle cx="549.88" cy="153.90" r="0.8" fill="#420680" fill-opacity="0.90"/>
<circle cx="559.71" cy="147.69" r="0.8" fill="#a3a0cb" fill-opacity="0.75"/>
<circle cx="558.16" cy="153.75" r="0.8" fill="#9b97c6" fill-opacity="0.75"/>
<circle cx="560.15" cy="149.28" r="0.8" fill="#c5c6e1" fill-opacity="0.75"/>
<circle cx="557.24" cy="153.94" r="0.8" fill="#928fc3" fill-opacity="0.75"/>
<circle cx="559.05" cy="148.34" r="0.8" fill="#a09dca" fill-opacity="0.75"/>
<circle cx="549.47" cy="159.87" r="0.8" fill="#cccce4" fill-opacity="0.75"/>
<circle cx="562.80" cy="150.36" r="0.8" fill="#420680" fill-opacity="0.90"/>
<circle cx="562.79" cy="154.14" r="0.8" fill="#64459e" fill-opacity="0.90"/>
<circle cx="548.16" cy="158.55" r="0.8" fill="#6950a3" fill-opacity="0.90"/>
<circle cx="560.93" cy="148.55" r="0.8" fill="#cbcbe3" fill-opacity="0.75"/>
<circle cx="554.54" cy="154.08" r="0.8" fill="#9390c3" fill-opacity="0.75"/>
<circle cx="553.99" cy="158.67" r="0.8" fill="#b4b4d7" fill-opacity="0.75"/>
<circle cx="552.22" cy="159.08" r="0.8" fill="#440981" fill-opacity="0.90"/>
<circle cx="551.01" cy="162.33" r="0.8" fill="#9591c4" fill-opacity="0.75"/>
<circle cx="560.63" cy="150.08" r="0.8" fill="#cccce4" fill-opacity="0.75"/>
<circle cx="557.25" cy="158.46" r="0.8" fill="#a6a3cd" fill-opacity="0.75"/>
<circle cx="560.67" cy="150.65" r="0.8" fill="#9d99c7" fill-opacity="0.75"/>
<circle cx="562.03" cy="147.51" r="0.8" fill="#9c98c7" fill-opacity="0.75"/>
<circle cx="553.27" cy="152.26" r="0.8" fill="#cbcbe3" fill-opacity="0.75"/>
<circle cx="553.79" cy="154.89" r="0.8" fill="#5c3797" fill-opacity="0.90"/>
<circle cx="549.29" cy="161.28" r="0.8" fill="#a19eca" fill-opacity="0.75"/>
<circle cx="562.46" cy="148.27" r="0.8" fill="#420680" fill-opacity="0.90"/>
<circle cx="561.06" cy="149.93" r="0.8" fill="#9591c4" fill-opacity="0.75"/>
<circle cx="556.12" cy="154.16" r="0.8" fill="#928fc3" fill-opacity="0.75"/>
<circle cx="561.13" cy="153.82" r="0.8" fill="#9b97c6" fill-opacity="0.75"/>
<circle cx="558.14" cy="152.92" r="0.8" fill="#65479e" fill-opacity="0.90"/>
<circle cx="557.41" cy="154.53" r="0.8" fill="#c9c9e2" fill-opacity="0.75"/>
<circle cx="555.88" cy="152.05" r="0.8" fill="#cecee5" fill-opacity="0.75"/>
<circle cx="563.29" cy="147.32" r="0.8" fill="#cbcbe3" fill-opacity="0.75"/>
<circle cx="553.48" cy="154.41" r="0.8" fill="#c8c8e2" fill-opacity="0.75"/>
<circle cx="550.88" cy="155.13" r="0.8" fill="#9b97c6" fill-opacity="0.75"/>
<circle cx="559.53" cy="153.31" r="0.8" fill="#b5b5d7" fill-opacity="0.75"/>
<circle cx="560.54" cy="151.21" r="0.8" fill="#a3a0cb" fill-opacity="0.75"/>
<circle cx="563.15" cy="153.45" r="0.8" fill="#d3d3e8" fill-opacity="0.75"/>
<circle cx="561.77" cy="154.41" r="0.8" fill="#3f007d" fill-opacity="0.90"/>
<circle cx="555.11" cy="153.57" r="0.8" fill="#babadb" fill-opacity="0.75"/>
<circle cx="557.74" cy="152.75" r="0.8" fill="#460c83" fill-opacity="0.90"/>
<circle cx="553.83" cy="155.59" r="0.8" fill="#b4b4d7" fill-opacity="0.75"/>
<circle cx="554.31" cy="157.06" r="0.8" fill="#52238d" fill-opacity="0.90"/>
<circle cx="561.08" cy="149.11" r="0.8" fill="#3f007d" fill-opacity="0.90"/>
<circle cx="563.13" cy="148.23" r="0.8" fill="#b4b4d7" fill-opacity="0.75"/>
<circle cx="549.10" cy="156.95" r="0.8" fill="#928fc3" fill-opacity="0.75"/>
<circle cx="561.45" cy="148.36" r="0.8" fill="#c2c3df" fill-opacity="0.75"/>
<circle cx="556.46" cy="156.06" r="0.8" fill="#b6b6d8" fill-opacity="0.75"/>
<circle cx="563.31" cy="147.22" r="0.8" fill="#d0d1e6" fill-opacity="0.75"/>
<circle cx="559.66" cy="153.86" r="0.8" fill="#440981" fill-opacity="0.90"/>
<circle cx="555.73" cy="157.70" r="0.8" fill="#c8c8e2" fill-opacity="0.75"/>
<circle cx="548.56" cy="158.40" r="0.8" fill="#c9c9e2" fill-opacity="0.75"/>
<circle cx="548.91" cy="159.63" r="0.8" fill="#a5a2cd" fill-opacity="0.75"/>
<circle cx="561.76" cy="149.93" r="0.8" fill="#cecee5" fill-opacity="0.75"/>
<circle cx="561.65" cy="147.02" r="0.8" fill="#c7c8e1" fill-opacity="0.75"/>
<circle cx="550.86" cy="156.86" r="0.8" fill="#afaed4" fill-opacity="0.75"/>
<circle cx="553.61" cy="157.17" r="0.8" fill="#cecee5" fill-opacity="0.75"/>
<circle cx="554.71" cy="158.46" r="0.8" fill="#c1c2df" fill-opacity="0.75"/>
<circle cx="557.96" cy="154.97" r="0.8" fill="#b3b3d6" fill-opacity="0.75"/>
<circle cx="558.05" cy="152.30" r="0.8" fill="#9490c3" fill-opacity="0.75"/>
<circle cx="552.70" cy="158.59" r="0.8" fill="#bbbbdb" fill-opacity="0.75"/>
<circle cx="563.50" cy="154.39" r="0.8" fill="#c1c2df" fill-opacity="0.75"/>
<circle cx="558.14" cy="154.58" r="0.8" fill="#a8a6cf" fill-opacity="0.75"/>
<circle cx="555.93" cy="153.73" r="0.8" fill="#b0afd4" fill-opacity="0.75"/>
<circle cx="550.76" cy="157.88" r="0.8" fill="#d3d3e8" fill-opacity="0.75"/>
<circle cx="552.15" cy="158.29" r="0.8" fill="#9c98c7" fill-opacity="0.75"/>
<circle cx="559.19" cy="150.24" r="0.8" fill="#c0c1de" fill-opacity="0.75"/>
<circle cx="555.74" cy="155.61" r="0.8" fill="#d2d2e7" fill-opacity="0.75"/>
<circle cx="564.56" cy="154.25" r="0.8" fill="#9b97c6" fill-opacity="0.75"/>
<circle cx="566.49" cy="146.69" r="0.8" fill="#9995c6" fill-opacity="0.75"/>
<circle cx="565.62" cy="151.71" r="0.8" fill="#cacae3" fill-opacity="0.75"/>
<circle cx="565.84" cy="150.35" r="0.8" fill="#5e3a98" fill-opacity="0.90"/>
<circle cx="566.91" cy="145.38" r="0.8" fill="#65489f" fill-opacity="0.90"/>
<circle cx="564.05" cy="148.71" r="0.8" fill="#a6a3cd" fill-opacity="0.75"/>
<circle cx="575.12" cy="137.39" r="0.8" fill="#bebfdd" fill-opacity="0.75"/>
<circle cx="575.17" cy="139.03" r="0.8" fill="#4d1a89" fill-opacity="0.90"/>
<circle cx="566.23" cy="146.15" r="0.8" fill="#bdbedc" fill-opacity="0.75"/>
<circle cx="574.22" cy="142.58" r="0.8" fill="#c7c8e1" fill-opacity="0.75"/>
<circle cx="580.78" cy="138.00" r="0.8" fill="#b9b9da" fill-opacity="0.75"/>
<circle cx="571.07" cy="144.75" r="0.8" fill="#9894c5" fill-opacity="0.75"/>
<circle cx="570.46" cy="144.78" r="0.8" fill="#c2c3df" fill-opacity="0.75"/>
<circle cx="580.73" cy="137.02" r="0.8" fill="#bbbbdb" fill-opacity="0.75"/>
<circle cx="580.64" cy="133.62" r="0.8" fill="#adabd2" fill-opacity="0.75"/>
<circle cx="569.34" cy="147.67" r="0.8" fill="#440981" fill-opacity="0.90"/>
<circle cx="566.62" cy="148.93" r="0.8" fill="#a7a4ce" fill-opacity="0.75"/>
<circle cx="572.43" cy="143.59" r="0.8" fill="#d2d2e7" fill-opacity="0.75"/>
<circle cx="580.27" cy="133.08" r="0.8" fill="#b4b4d7" fill-opacity="0.75"/>
<circle cx="575.61" cy="142.32" r="0.8" fill="#b1b1d5" fill-opacity="0.75"/>
<circle cx="570.22" cy="148.15" r="0.8" fill="#9894c5" fill-opacity="0.75"/>
<circle cx="572.64" cy="138.94" r="0.8" fill="#5a3395" fill-opacity="0.90"/>
<circle cx="575.86" cy="137.51" r="0.8" fill="#b0afd4" fill-opacity="0.75"/>
<circle cx="579.22" cy="141.68" r="0.8" fill="#c2c3df" fill-opacity="0.75"/>
<circle cx="578.32" cy="141.34" r="0.8" fill="#9591c4" fill-opacity="0.75"/>
<circle cx="575.26" cy="140.92" r="0.8" fill="#bcbddc" fill-opacity="0.75"/>
<circle cx="563.90" cy="148.49" r="0.8" fill="#d2d2e7" fill-opacity="0.75"/>
<circle cx="564.45" cy="145.25" r="0.8" fill="#b3b3d6" fill-opacity="0.75"/>
<circle cx="581.21" cy="134.23" r="0.8" fill="#c6c7e1" fill-opacity="0.75"/>
<circle cx="582.36" cy="133.52" r="0.8" fill="#9390c3" fill-opacity="0.75"/>
<circle cx="571.47" cy="142.68" r="0.8" fill="#bbbbdb" fill-opacity="0.75"/>
<circle cx="570.58" cy="143.93" r="0.8" fill="#c7c8e1" fill-opacity="0.75"/>
<circle cx="578.97" cy="140.22" r="0.8" fill="#b2b2d5" fill-opacity="0.75"/>
<circle cx="567.38" cy="143.66" r="0.8" fill="#a7a4ce" fill-opacity="0.75"/>
<circle cx="575.63" cy="139.65" r="0.8" fill="#420680" fill-opacity="0.90"/>
<circle cx="579.69" cy="135.06" r="0.8" fill="#a8a6cf" fill-opacity="0.75"/>
<circle cx="567.24" cy="146.42" r="0.8" fill="#cdcde4" fill-opacity="0.75"/>
<circle cx="574.31" cy="142.71" r="0.8" fill="#b6b6d8" fill-opacity="0.75"/>
<circle cx="578.05" cy="136.96" r="0.8" fill="#d2d2e7" fill-opacity="0.75"/>
<circle cx="569.74" cy="146.93" r="0.8" fill="#d1d2e7" fill-opacity="0.75"/>
<circle cx="565.58" cy="148.69" r="0.8" fill="#c5c6e1" fill-opacity="0.75"/>
<circle cx="567.51" cy="149.67" r="0.8" fill="#acaad1" fill-opacity="0.75"/>
<circle cx="572.98" cy="139.91" r="0.8" fill="#9b97c6" fill-opacity="0.75"/>
<circle cx="579.86" cy="130.91" r="0.8" fill="#c6c7e1" fill-opacity="0.75"/>
<circle cx="576.81" cy="141.86" r="0.8" fill="#bfc0de" fill-opacity="0.75"/>
<circle cx="571.15" cy="140.80" r="0.8" fill="#c4c5e0" fill-opacity="0.75"/>
<circle cx="571.72" cy="142.39" r="0.8" fill="#a9a7cf" fill-opacity="0.75"/>
<circle cx="569.53" cy="145.47" r="0.8" fill="#b9b9da" fill-opacity="0.75"/>
<circle cx="568.99" cy="148.11" r="0.8" fill="#40027e" fill-opacity="0.90"/>
<circle cx="574.82" cy="141.91" r="0.8" fill="#aaa8d0" fill-opacity="0.75"/>
<circle cx="563.74" cy="152.33" r="0.8" fill="#52238d" fill-opacity="0.90"/>
<circle cx="572.35" cy="140.56" r="0.8" fill="#9490c3" fill-opacity="0.75"/>
<circle cx="579.35" cy="136.12" r="0.8" fill="#593093" fill-opacity="0.90"/>
<circle cx="570.19" cy="143.03" r="0.8" fill="#9793c5" fill-opacity="0.75"/>
<circle cx="568.69" cy="144.14" r="0.8" fill="#cbcbe3" fill-opacity="0.75"/>
<circle cx="575.50" cy="136.13" r="0.8" fill="#928fc3" fill-opacity="0.75"/>
<circle cx="574.49" cy="138.33" r="0.8" fill="#c3c4e0" fill-opacity="0.75"/>
<circle cx="575.36" cy="139.18" r="0.8" fill="#d1d2e7" fill-opacity="0.75"/>
<circle cx="570.25" cy="143.42" r="0.8" fill="#c6c7e1" fill-opacity="0.75"/>
<circle cx="579.73" cy="135.92" r="0.8" fill="#9d99c7" fill-opacity="0.75"/>
<circle cx="564.72" cy="151.26" r="0.8" fill="#9c98c7" fill-opacity="0.75"/>
<circle cx="575.01" cy="141.69" r="0.8" fill="#62429c" fill-opacity="0.90"/>
<circle cx="570.33" cy="144.58" r="0.8" fill="#a09dca" fill-opacity="0.75"/>
<circle cx="566.62" cy="144.13" r="0.8" fill="#cccce4" fill-opacity="0.75"/>
<circle cx="578.96" cy="133.25" r="0.8" fill="#5a3294" fill-opacity="0.90"/>
<circle cx="571.24" cy="145.33" r="0.8" fill="#aeacd2" fill-opacity="0.75"/>
<circle cx="569.76" cy="145.04" r="0.8" fill="#babadb" fill-opacity="0.75"/>
<circle cx="574.15" cy="142.16" r="0.8" fill="#cdcde4" fill-opacity="0.75"/>
<circle cx="581.18" cy="136.07" r="0.8" fill="#b2b2d5" fill-opacity="0.75"/>
<circle cx="565.62" cy="150.41" r="0.8" fill="#a6a3cd" fill-opacity="0.75"/>
<circle cx="565.50" cy="148.35" r="0.8" fill="#430780" fill-opacity="0.90"/>
<circle cx="567.47" cy="148.56" r="0.8" fill="#d2d2e7" fill-opacity="0.75"/>
<circle cx="575.62" cy="142.96" r="0.8" fill="#d0d1e6" fill-opacity="0.75"/>
<circle cx="563.74" cy="146.41" r="0.8" fill="#a19eca" fill-opacity="0.75"/>
<circle cx="575.10" cy="142.31" r="0.8" fill="#c9c9e2" fill-opacity="0.75"/>
<circle cx="563.89" cy="151.35" r="0.8" fill="#c3c4e0" fill-opacity="0.75"/>
<circle cx="566.34" cy="150.79" r="0.8" fill="#9692c4" fill-opacity="0.75"/>
<circle cx="568.06" cy="143.58" r="0.8" fill="#cccce4" fill-opacity="0.75"/>
<circle cx="578.75" cy="139.21" r="0.8" fill="#a3a0cb" fill-opacity="0.75"/>
<circle cx="564.51" cy="149.81" r="0.8" fill="#b0afd4" fill-opacity="0.75"/>
<circle cx="565.61" cy="144.90" r="0.8" fill="#aaa8d0" fill-opacity="0.75"/>
<circle cx="569.79" cy="142.35" r="0.8" fill="#b9b9da" fill-opacity="0.75"/>
<circle cx="575.61" cy="139.55" r="0.8" fill="#9390c3" fill-opacity="0.75"/>
<circle cx="567.37" cy="151.31" r="0.8" fill="#c4c5e0" fill-opacity="0.75"/>
<circle cx="573.23" cy="144.16" r="0.8" fill="#9c98c7" fill-opacity="0.75"/>
<circle cx="579.73" cy="136.22" r="0.8" fill="#c9c9e2" fill-opacity="0.75"/>
<circle cx="563.88" cy="150.30" r="0.8" fill="#d2d2e7" fill-opacity="0.75"/>
<circle cx="564.42" cy="146.33" r="0.8" fill="#9c98c7" fill-opacity="0.75"/>
<circle cx="592.56" cy="123.00" r="0.8" fill="#65489f" fill-opacity="0.90"/>
<circle cx="584.76" cy="135.03" r="0.8" fill="#a09dca" fill-opacity="0.75"/>
<circle cx="583.20" cy="136.40" r="0.8" fill="#5a3294" fill-opacity="0.90"/>
<circle cx="589.52" cy="127.21" r="0.8" fill="#9490c3" fill-opacity="0.75"/>
<circle cx="589.01" cy="135.42" r="0.8" fill="#cfd0e6" fill-opacity="0.75"/>
<circle cx="588.55" cy="127.28" r="0.8" fill="#a9a7cf" fill-opacity="0.75"/>
<circle cx="590.72" cy="132.10" r="0.8" fill="#a4a1cc" fill-opacity="0.75"/>
<circle cx="588.78" cy="124.75" r="0.8" fill="#40027e" fill-opacity="0.90"/>
<circle cx="585.58" cy="133.84" r="0.8" fill="#5c3797" fill-opacity="0.90"/>
<circle cx="583.81" cy="128.97" r="0.8" fill="#cccce4" fill-opacity="0.75"/>
<circle cx="590.20" cy="130.12" r="0.8" fill="#5a3395" fill-opacity="0.90"/>
<circle cx="586.81" cy="133.35" r="0.8" fill="#470f84" fill-opacity="0.90"/>
<circle cx="587.36" cy="127.94" r="0.8" fill="#bebedd" fill-opacity="0.75"/>
<circle cx="592.31" cy="129.29" r="0.8" fill="#cbcbe3" fill-opacity="0.75"/>
<circle cx="582.66" cy="131.51" r="0.8" fill="#9e9bc8" fill-opacity="0.75"/>
<circle cx="585.84" cy="136.17" r="0.8" fill="#5e3a98" fill-opacity="0.90"/>
<circle cx="590.34" cy="128.54" r="0.8" fill="#c3c4e0" fill-opacity="0.75"/>
<circle cx="588.13" cy="131.27" r="0.8" fill="#40017e" fill-opacity="0.90"/>
<circle cx="591.15" cy="128.46" r="0.8" fill="#cccce4" fill-opacity="0.75"/>
<circle cx="588.03" cy="136.51" r="0.8" fill="#cbcbe3" fill-opacity="0.75"/>
<circle cx="591.54" cy="131.00" r="0.8" fill="#5f3c99" fill-opacity="0.90"/>
<circle cx="584.79" cy="128.47" r="0.8" fill="#aaa8d0" fill-opacity="0.75"/>
<circle cx="590.00" cy="134.74" r="0.8" fill="#9e9bc8" fill-opacity="0.75"/>
<circle cx="585.82" cy="132.27" r="0.8" fill="#63449d" fill-opacity="0.90"/>
<circle cx="584.34" cy="134.35" r="0.8" fill="#c3c4e0" fill-opacity="0.75"/>
<circle cx="589.47" cy="125.74" r="0.8" fill="#a8a6cf" fill-opacity="0.75"/>
<circle cx="593.06" cy="128.78" r="0.8" fill="#491285" fill-opacity="0.90"/>
<circle cx="583.72" cy="133.01" r="0.8" fill="#afaed4" fill-opacity="0.75"/>
<circle cx="587.50" cy="131.45" r="0.8" fill="#cecfe5" fill-opacity="0.75"/>
<circle cx="591.99" cy="123.69" r="0.8" fill="#d2d2e7" fill-opacity="0.75"/>
<circle cx="583.03" cy="133.10" r="0.8" fill="#66499f" fill-opacity="0.90"/>
<circle cx="584.22" cy="132.38" r="0.8" fill="#c3c4e0" fill-opacity="0.75"/>
<circle cx="593.03" cy="126.37" r="0.8" fill="#b1b1d5" fill-opacity="0.75"/>
<circle cx="591.36" cy="133.33" r="0.8" fill="#bcbddc" fill-opacity="0.75"/>
<circle cx="591.85" cy="132.82" r="0.8" fill="#d1d2e7" fill-opacity="0.75"/>
<circle cx="586.00" cy="133.48" r="0.8" fill="#a09dca" fill-opacity="0.75"/>
<circle cx="590.24" cy="133.56" r="0.8" fill="#c2c3df" fill-opacity="0.75"/>
<circle cx="592.18" cy="126.14" r="0.8" fill="#4f1f8b" fill-opacity="0.90"/>
<circle cx="591.68" cy="132.42" r="0.8" fill="#c5c6e1" fill-opacity="0.75"/>
<circle cx="582.87" cy="134.76" r="0.8" fill="#cccce4" fill-opacity="0.75"/>
<circle cx="583.77" cy="133.57" r="0.8" fill="#aba9d0" fill-opacity="0.75"/>
<circle cx="583.10" cy="135.60" r="0.8" fill="#a29fcb" fill-opacity="0.75"/>
<circle cx="592.06" cy="129.95" r="0.8" fill="#6950a3" fill-opacity="0.90"/>
<circle cx="592.31" cy="126.54" r="0.8" fill="#aeacd2" fill-opacity="0.75"/>
<circle cx="589.24" cy="127.18" r="0.8" fill="#9d99c7" fill-opacity="0.75"/>
<circle cx="592.75" cy="129.61" r="0.8" fill="#bbbbdb" fill-opacity="0.75"/>
<circle cx="588.37" cy="129.24" r="0.8" fill="#bebedd" fill-opacity="0.75"/>
<circle cx="592.45" cy="129.73" r="0.8" fill="#a7a4ce" fill-opacity="0.75"/>
<circle cx="592.16" cy="127.22" r="0.8" fill="#bfc0de" fill-opacity="0.75"/>
<circle cx="591.10" cy="129.86" r="0.8" fill="#9490c3" fill-opacity="0.75"/>
<circle cx="582.57" cy="133.53" r="0.8" fill="#a6a3cd" fill-opacity="0.75"/>
<circle cx="589.57" cy="131.67" r="0.8" fill="#928fc3" fill-opacity="0.75"/>
<circle cx="591.41" cy="130.77" r="0.8" fill="#b6b6d8" fill-opacity="0.75"/>
<circle cx="586.99" cy="133.07" r="0.8" fill="#420680" fill-opacity="0.90"/>
<circle cx="582.72" cy="132.20" r="0.8" fill="#4f1f8b" fill-opacity="0.90"/>
<circle cx="591.55" cy="130.20" r="0.8" fill="#9390c3" fill-opacity="0.75"/>
<circle cx="591.78" cy="130.80" r="0.8" fill="#40017e" fill-opacity="0.90"/>
<circle cx="593.15" cy="126.49" r="0.8" fill="#684da1" fill-opacity="0.90"/>
<circle cx="586.80" cy="127.84" r="0.8" fill="#a4a1cc" fill-opacity="0.75"/>
<circle cx="584.39" cy="131.72" r="0.8" fill="#afaed4" fill-opacity="0.75"/>
<circle cx="589.48" cy="132.13" r="0.8" fill="#aaa8d0" fill-opacity="0.75"/>
<circle cx="597.07" cy="123.11" r="0.8" fill="#66499f" fill-opacity="0.90"/>
<circle cx="597.14" cy="122.86" r="0.8" fill="#572c92" fill-opacity="0.90"/>
<circle cx="597.22" cy="126.07" r="0.8" fill="#552a90" fill-opacity="0.90"/>
<circle cx="596.05" cy="126.52" r="0.8" fill="#51228d" fill-opacity="0.90"/>
<circle cx="598.21" cy="124.39" r="0.8" fill="#61409b" fill-opacity="0.90"/>
<circle cx="596.29" cy="128.09" r="0.8" fill="#4d1a89" fill-opacity="0.90"/>
<circle cx="596.74" cy="121.90" r="0.8" fill="#4a1587" fill-opacity="0.90"/>
<circle cx="595.34" cy="124.58" r="0.8" fill="#9390c3" fill-opacity="0.75"/>
<circle cx="598.66" cy="129.13" r="0.8" fill="#a8a6cf" fill-opacity="0.75"/>
<circle cx="599.47" cy="126.68" r="0.8" fill="#b4b4d7" fill-opacity="0.75"/>
<circle cx="593.73" cy="125.58" r="0.8" fill="#a7a4ce" fill-opacity="0.75"/>
<circle cx="597.40" cy="122.19" r="0.8" fill="#cfd0e6" fill-opacity="0.75"/>
<circle cx="596.84" cy="126.64" r="0.8" fill="#a29fcb" fill-opacity="0.75"/>
<circle cx="598.27" cy="129.83" r="0.8" fill="#582f93" fill-opacity="0.90"/>
<circle cx="593.28" cy="128.88" r="0.8" fill="#9490c3" fill-opacity="0.75"/>
<circle cx="596.18" cy="128.90" r="0.8" fill="#4c1888" fill-opacity="0.90"/>
<circle cx="594.29" cy="130.90" r="0.8" fill="#694fa2" fill-opacity="0.90"/>
<circle cx="596.83" cy="128.44" r="0.8" fill="#582e92" fill-opacity="0.90"/>
<circle cx="597.36" cy="126.98" r="0.8" fill="#afaed4" fill-opacity="0.75"/>
<circle cx="596.35" cy="129.63" r="0.8" fill="#5e3a98" fill-opacity="0.90"/>
<circle cx="599.61" cy="124.88" r="0.8" fill="#603e9a" fill-opacity="0.90"/>
<circle cx="597.63" cy="122.40" r="0.8" fill="#b0afd4" fill-opacity="0.75"/>
<circle cx="598.87" cy="125.82" r="0.8" fill="#481185" fill-opacity="0.90"/>
<circle cx="599.06" cy="123.95" r="0.8" fill="#481185" fill-opacity="0.90"/>
<circle cx="595.73" cy="128.49" r="0.8" fill="#d2d2e7" fill-opacity="0.75"/>
<circle cx="598.58" cy="126.51" r="0.8" fill="#460c83" fill-opacity="0.90"/>
<circle cx="595.57" cy="126.57" r="0.8" fill="#5b3495" fill-opacity="0.90"/>
<circle cx="594.28" cy="123.33" r="0.8" fill="#674ba0" fill-opacity="0.90"/>
<circle cx="596.21" cy="122.43" r="0.8" fill="#aeadd3" fill-opacity="0.75"/>
<circle cx="598.87" cy="121.99" r="0.8" fill="#5e3b98" fill-opacity="0.90"/>
<circle cx="599.27" cy="123.51" r="0.8" fill="#a8a6cf" fill-opacity="0.75"/>
<circle cx="597.72" cy="123.03" r="0.8" fill="#cccce4" fill-opacity="0.75"/>
<circle cx="593.58" cy="129.84" r="0.8" fill="#5c3797" fill-opacity="0.90"/>
<circle cx="613.63" cy="135.06" r="0.8" fill="#c2c3df" fill-opacity="0.70"/>
<circle cx="616.31" cy="134.20" r="0.8" fill="#c2c3df" fill-opacity="0.70"/>
<circle cx="618.47" cy="133.77" r="0.8" fill="#c2c3df" fill-opacity="0.70"/>
<circle cx="625.46" cy="132.48" r="0.8" fill="#c2c3df" fill-opacity="0.70"/>
<circle cx="635.14" cy="127.74" r="0.8" fill="#c2c3df" fill-opacity="0.70"/>
<circle cx="646.97" cy="134.63" r="0.8" fill="#c2c3df" fill-opacity="0.70"/>
<circle cx="599.64" cy="137.86" r="0.8" fill="#c2c3df" fill-opacity="0.70"/>
<line x1="539.4" y1="160.49" x2="650.2" y2="160.49" stroke="#000" stroke-width="0.75" stroke-dasharray="1.9,0.9"/>
<path d="M539.40,181.40 L540.10,178.19 L540.79,175.28 L541.49,172.71 L542.19,170.56 L542.88,168.73 L543.58,167.13 L544.28,165.72 L544.97,164.46 L545.67,163.30 L546.37,162.25 L547.07,161.36 L547.76,160.65 L548.46,160.09 L549.16,159.60 L549.85,159.08 L550.55,158.57 L551.25,158.07 L551.94,157.58 L552.64,157.09 L553.34,156.60 L554.03,156.10 L554.73,155.60 L555.43,155.11 L556.12,154.61 L556.82,154.11 L557.52,153.61 L558.22,153.12 L558.91,152.63 L559.61,152.15 L560.31,151.67 L561.00,151.20 L561.70,150.74 L562.40,150.28 L563.09,149.82 L563.79,149.35 L564.49,148.88 L565.18,148.40 L565.88,147.91 L566.58,147.40 L567.27,146.88 L567.97,146.35 L568.67,145.78 L569.36,145.18 L570.06,144.55 L570.76,143.89 L571.46,143.22 L572.15,142.53 L572.85,141.84 L573.55,141.16 L574.24,140.48 L574.94,139.82 L575.64,139.18 L576.33,138.57 L577.03,138.00 L577.73,137.46 L578.42,136.94 L579.12,136.43 L579.82,135.92 L580.51,135.42 L581.21,134.93 L581.91,134.46 L582.61,134.00 L583.30,133.56 L584.00,133.13 L584.70,132.73 L585.39,132.35 L586.09,131.99 L586.79,131.66 L587.48,131.35 L588.18,131.05 L588.88,130.75 L589.57,130.46 L590.27,130.17 L590.97,129.90 L591.66,129.65 L592.36,129.40 L593.06,129.18 L593.75,128.97 L594.45,128.78 L595.15,128.61 L595.85,128.46 L596.54,128.34 L597.24,128.23 L597.94,128.11 L598.63,128.00 L599.33,127.90 L600.03,127.80 L600.72,127.72 L601.42,127.65 L602.12,127.59 L602.81,127.55 L603.51,127.52 L604.21,127.52 L604.90,127.52 L605.60,127.53 L606.30,127.54 L606.99,127.56 L607.69,127.58 L608.39,127.60 L609.09,127.62 L609.78,127.65 L610.48,127.68 L611.18,127.71 L611.87,127.74 L612.57,127.78 L613.27,127.81 L613.96,127.85 L614.66,127.89 L615.36,127.92 L616.05,127.96 L616.75,128.00 L617.45,128.04 L618.14,128.07 L618.84,128.11 L619.54,128.14 L620.24,128.17 L620.93,128.21 L621.63,128.24 L622.33,128.27 L623.02,128.31 L623.72,128.34 L624.42,128.38 L625.11,128.41 L625.81,128.45 L626.51,128.48 L627.20,128.52 L627.90,128.56 L628.60,128.59 L629.29,128.63 L629.99,128.67 L630.69,128.71 L631.38,128.75 L632.08,128.79 L632.78,128.83 L633.48,128.87 L634.17,128.91 L634.87,128.95 L635.57,128.99 L636.26,129.03 L636.96,129.07 L637.66,129.12 L638.35,129.16 L639.05,129.20 L639.75,129.24 L640.44,129.29 L641.14,129.33 L641.84,129.38 L642.53,129.42 L643.23,129.47 L643.93,129.52 L644.63,129.56 L645.32,129.61 L646.02,129.66 L646.72,129.70 L647.41,129.75 L648.11,129.80 L648.81,129.85 L649.50,129.90 L650.20,129.95" fill="none" stroke="#8034e8" stroke-width="1.3" stroke-linejoin="round"/>
</g>
<rect x="539.4" y="118.9" width="110.8" height="83.4" fill="none" stroke="#111" stroke-width="0.9"/>
<line x1="539.40" y1="202.3" x2="539.40" y2="200.5" stroke="#111" stroke-width="0.7"/>
<text x="539.4" y="208" font-size="4.2" text-anchor="middle" textLength="6.615" lengthAdjust="spacingAndGlyphs" fill="#000" stroke="#000" stroke-width="0.1">0.00</text>
<line x1="552.85" y1="202.3" x2="552.85" y2="200.5" stroke="#111" stroke-width="0.7"/>
<text x="552.847" y="208" font-size="4.2" text-anchor="middle" textLength="6.615" lengthAdjust="spacingAndGlyphs" fill="#000" stroke="#000" stroke-width="0.1">0.25</text>
<line x1="566.29" y1="202.3" x2="566.29" y2="200.5" stroke="#111" stroke-width="0.7"/>
<text x="566.293" y="208" font-size="4.2" text-anchor="middle" textLength="6.615" lengthAdjust="spacingAndGlyphs" fill="#000" stroke="#000" stroke-width="0.1">0.50</text>
<line x1="579.74" y1="202.3" x2="579.74" y2="200.5" stroke="#111" stroke-width="0.7"/>
<text x="579.74" y="208" font-size="4.2" text-anchor="middle" textLength="6.615" lengthAdjust="spacingAndGlyphs" fill="#000" stroke="#000" stroke-width="0.1">0.75</text>
<line x1="593.19" y1="202.3" x2="593.19" y2="200.5" stroke="#111" stroke-width="0.7"/>
<text x="593.186" y="208" font-size="4.2" text-anchor="middle" textLength="6.615" lengthAdjust="spacingAndGlyphs" fill="#000" stroke="#000" stroke-width="0.1">1.00</text>
<line x1="606.63" y1="202.3" x2="606.63" y2="200.5" stroke="#111" stroke-width="0.7"/>
<text x="606.633" y="208" font-size="4.2" text-anchor="middle" textLength="6.615" lengthAdjust="spacingAndGlyphs" fill="#000" stroke="#000" stroke-width="0.1">1.25</text>
<line x1="620.08" y1="202.3" x2="620.08" y2="200.5" stroke="#111" stroke-width="0.7"/>
<text x="620.08" y="208" font-size="4.2" text-anchor="middle" textLength="6.615" lengthAdjust="spacingAndGlyphs" fill="#000" stroke="#000" stroke-width="0.1">1.50</text>
<line x1="633.53" y1="202.3" x2="633.53" y2="200.5" stroke="#111" stroke-width="0.7"/>
<text x="633.526" y="208" font-size="4.2" text-anchor="middle" textLength="6.615" lengthAdjust="spacingAndGlyphs" fill="#000" stroke="#000" stroke-width="0.1">1.75</text>
<line x1="646.97" y1="202.3" x2="646.97" y2="200.5" stroke="#111" stroke-width="0.7"/>
<text x="646.973" y="208" font-size="4.2" text-anchor="middle" textLength="6.615" lengthAdjust="spacingAndGlyphs" fill="#000" stroke="#000" stroke-width="0.1">2.00</text>
<line x1="539.4" y1="192.82" x2="541.3" y2="192.82" stroke="#111" stroke-width="0.7"/>
<text x="537.9" y="194.918" font-size="4.2" text-anchor="end" textLength="6.47565" lengthAdjust="spacingAndGlyphs" fill="#000" stroke="#000" stroke-width="0.1">−1.5</text>
<line x1="539.4" y1="182.04" x2="541.3" y2="182.04" stroke="#111" stroke-width="0.7"/>
<text x="537.9" y="184.143" font-size="4.2" text-anchor="end" textLength="6.47565" lengthAdjust="spacingAndGlyphs" fill="#000" stroke="#000" stroke-width="0.1">−1.0</text>
<line x1="539.4" y1="171.27" x2="541.3" y2="171.27" stroke="#111" stroke-width="0.7"/>
<text x="537.9" y="173.367" font-size="4.2" text-anchor="end" textLength="6.47565" lengthAdjust="spacingAndGlyphs" fill="#000" stroke="#000" stroke-width="0.1">−0.5</text>
<line x1="539.4" y1="160.49" x2="541.3" y2="160.49" stroke="#111" stroke-width="0.7"/>
<text x="537.9" y="162.592" font-size="4.2" text-anchor="end" textLength="4.4625" lengthAdjust="spacingAndGlyphs" fill="#000" stroke="#000" stroke-width="0.1">0.0</text>
<line x1="539.4" y1="149.72" x2="541.3" y2="149.72" stroke="#111" stroke-width="0.7"/>
<text x="537.9" y="151.817" font-size="4.2" text-anchor="end" textLength="4.4625" lengthAdjust="spacingAndGlyphs" fill="#000" stroke="#000" stroke-width="0.1">0.5</text>
<line x1="539.4" y1="138.94" x2="541.3" y2="138.94" stroke="#111" stroke-width="0.7"/>
<text x="537.9" y="141.042" font-size="4.2" text-anchor="end" textLength="4.4625" lengthAdjust="spacingAndGlyphs" fill="#000" stroke="#000" stroke-width="0.1">1.0</text>
<line x1="539.4" y1="128.17" x2="541.3" y2="128.17" stroke="#111" stroke-width="0.7"/>
<text x="537.9" y="130.267" font-size="4.2" text-anchor="end" textLength="4.4625" lengthAdjust="spacingAndGlyphs" fill="#000" stroke="#000" stroke-width="0.1">1.5</text>
<text x="594.8" y="115.5" font-size="5.4" text-anchor="middle" textLength="38" lengthAdjust="spacingAndGlyphs" fill="#000">Intvis_den × Rugged</text>
<text x="542.7" y="127.3" font-size="5" text-anchor="start" font-weight="bold" textLength="5.2" lengthAdjust="spacingAndGlyphs" fill="#000">(f)</text>
<text x="594.8" y="214.9" font-size="5.8" text-anchor="middle" textLength="20.1" lengthAdjust="spacingAndGlyphs" fill="#000" stroke="#000" stroke-width="0.06">Intvis_den</text>
</g>
<rect x="665.3" y="10" width="7" height="194" fill="url(#g1)" stroke="#111" stroke-width="0.9"/>
<line x1="670.8" y1="38.80" x2="672.3" y2="38.80" stroke="#111" stroke-width="0.5"/>
<text x="674.2" y="40.3" font-size="3.9" text-anchor="start" textLength="4.14375" lengthAdjust="spacingAndGlyphs" fill="#000" stroke="#000" stroke-width="0.1">1.5</text>
<line x1="670.8" y1="68.20" x2="672.3" y2="68.20" stroke="#111" stroke-width="0.5"/>
<text x="674.2" y="69.7" font-size="3.9" text-anchor="start" textLength="4.14375" lengthAdjust="spacingAndGlyphs" fill="#000" stroke="#000" stroke-width="0.1">1.0</text>
<line x1="670.8" y1="97.60" x2="672.3" y2="97.60" stroke="#111" stroke-width="0.5"/>
<text x="674.2" y="99.1" font-size="3.9" text-anchor="start" textLength="4.14375" lengthAdjust="spacingAndGlyphs" fill="#000" stroke="#000" stroke-width="0.1">0.5</text>
<line x1="670.8" y1="127.00" x2="672.3" y2="127.00" stroke="#111" stroke-width="0.5"/>
<text x="674.2" y="128.5" font-size="3.9" text-anchor="start" textLength="4.14375" lengthAdjust="spacingAndGlyphs" fill="#000" stroke="#000" stroke-width="0.1">0.0</text>
<line x1="670.8" y1="156.40" x2="672.3" y2="156.40" stroke="#111" stroke-width="0.5"/>
<text x="674.2" y="157.9" font-size="3.9" text-anchor="start" textLength="6.0131" lengthAdjust="spacingAndGlyphs" fill="#000" stroke="#000" stroke-width="0.1">−0.5</text>
<line x1="670.8" y1="185.80" x2="672.3" y2="185.80" stroke="#111" stroke-width="0.5"/>
<text x="674.2" y="187.3" font-size="3.9" text-anchor="start" textLength="6.0131" lengthAdjust="spacingAndGlyphs" fill="#000" stroke="#000" stroke-width="0.1">−1.0</text>
<text x="684.9" y="104.6" font-size="5.6" text-anchor="middle" transform="rotate(-90 684.9 104.6)" textLength="46.5" lengthAdjust="spacingAndGlyphs" fill="#000" stroke="#000" stroke-width="0.05">Interacting feature value</text>
<text x="475.8" y="234.2" font-size="7.3" text-anchor="middle" font-weight="bold" textLength="181" lengthAdjust="spacingAndGlyphs" fill="#000" stroke="#000" stroke-width="0.18">Top SHAP interaction pairs (main feature vs interacting feature)</text>
</svg>
</body></html>
